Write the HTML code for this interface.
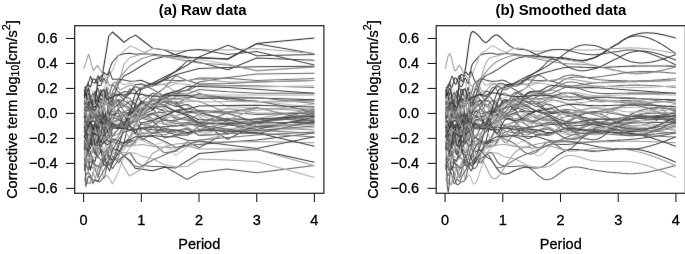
<!DOCTYPE html>
<html><head><meta charset="utf-8"><style>
html,body{margin:0;padding:0;background:#fff;}
svg{display:block;filter:grayscale(1);}
.t{font-family:"Liberation Sans",sans-serif;font-size:14.5px;fill:#000;stroke:#000;stroke-width:0.3px;}
.ti{font-family:"Liberation Sans",sans-serif;font-size:14.9px;font-weight:bold;fill:#000;}
</style></head><body>
<svg width="685" height="254" viewBox="0 0 685 254">
<defs><filter id="bl" x="0" y="0" width="685" height="254" filterUnits="userSpaceOnUse"><feConvolveMatrix order="3" kernelMatrix="1 2 1 2 40 2 1 2 1" divisor="52" edgeMode="none"/></filter></defs>
<g filter="url(#bl)"><polyline points="84.2,97.4 85.9,98.9 88.2,88.5 90.5,89.5 92.8,91.2 95.1,97.0 98.0,85.0 100.9,76.8 103.8,82.5 106.7,83.2 109.6,92.5 112.4,95.9 118.2,94.0 124.0,92.6 129.8,106.6 135.5,101.4 141.3,98.4 152.8,93.3 164.4,95.8 175.9,96.8 187.5,95.3 199.0,95.8 227.8,97.9 256.7,101.3 314.4,107.0" fill="none" stroke="#c0c0c0" stroke-width="1.05" stroke-linejoin="round"/>
<polyline points="84.2,133.2 85.9,132.9 88.2,137.3 90.5,137.7 92.8,136.3 95.1,131.4 98.0,123.9 100.9,105.6 103.8,100.6 106.7,101.4 109.6,98.3 112.4,93.9 118.2,80.7 124.0,84.9 129.8,83.0 135.5,84.5 141.3,84.9 152.8,83.4 164.4,84.8 175.9,92.0 187.5,90.2 199.0,92.6 227.8,106.6 256.7,108.2 314.4,108.5" fill="none" stroke="#b0b0b0" stroke-width="1.05" stroke-linejoin="round"/>
<polyline points="84.2,99.7 85.9,104.6 88.2,102.4 90.5,110.0 92.8,117.1 95.1,118.1 98.0,124.1 100.9,123.4 103.8,125.8 106.7,126.6 109.6,120.9 112.4,126.6 118.2,125.6 124.0,124.4 129.8,110.9 135.5,115.2 141.3,116.6 152.8,112.9 164.4,112.3 175.9,118.9 187.5,120.1 199.0,122.4 227.8,139.2 256.7,124.2 314.4,109.5" fill="none" stroke="#4a4a4a" stroke-width="1.05" stroke-linejoin="round"/>
<polyline points="84.2,88.3 85.9,92.2 88.2,81.6 90.5,98.6 92.8,104.2 95.1,102.1 98.0,106.0 100.9,103.7 103.8,96.1 106.7,95.4 109.6,96.4 112.4,102.3 118.2,104.2 124.0,104.1 129.8,111.7 135.5,106.1 141.3,112.2 152.8,118.8 164.4,117.8 175.9,110.1 187.5,108.6 199.0,111.2 227.8,113.8 256.7,122.2 314.4,110.5" fill="none" stroke="#808080" stroke-width="1.05" stroke-linejoin="round"/>
<polyline points="84.2,125.7 85.9,122.6 88.2,121.3 90.5,115.9 92.8,115.0 95.1,115.9 98.0,119.5 100.9,119.7 103.8,113.9 106.7,114.3 109.6,112.9 112.4,105.3 118.2,94.3 124.0,99.6 129.8,89.1 135.5,90.3 141.3,102.7 152.8,93.1 164.4,100.3 175.9,103.4 187.5,98.5 199.0,93.7 227.8,99.8 256.7,101.0 314.4,111.5" fill="none" stroke="#5e5e5e" stroke-width="1.05" stroke-linejoin="round"/>
<polyline points="84.2,106.8 85.9,110.5 88.2,111.5 90.5,105.8 92.8,114.1 95.1,116.8 98.0,121.9 100.9,137.5 103.8,121.7 106.7,120.3 109.6,112.3 112.4,111.6 118.2,110.9 124.0,112.6 129.8,113.0 135.5,120.7 141.3,115.0 152.8,118.6 164.4,118.7 175.9,115.6 187.5,112.6 199.0,113.8 227.8,108.4 256.7,113.2 314.4,112.5" fill="none" stroke="#a0a0a0" stroke-width="1.05" stroke-linejoin="round"/>
<polyline points="84.2,123.6 85.9,112.6 88.2,121.6 90.5,107.3 92.8,107.1 95.1,117.7 98.0,130.1 100.9,121.0 103.8,115.2 106.7,125.3 109.6,131.2 112.4,125.2 118.2,124.5 124.0,122.1 129.8,117.4 135.5,116.0 141.3,124.1 152.8,126.6 164.4,138.0 175.9,135.0 187.5,135.3 199.0,130.1 227.8,130.5 256.7,121.9 314.4,113.5" fill="none" stroke="#5e5e5e" stroke-width="1.05" stroke-linejoin="round"/>
<polyline points="84.2,145.4 85.9,144.3 88.2,147.0 90.5,162.8 92.8,161.0 95.1,169.9 98.0,175.0 100.9,167.3 103.8,159.9 106.7,164.1 109.6,155.6 112.4,160.0 118.2,158.0 124.0,142.3 129.8,139.1 135.5,129.0 141.3,140.5 152.8,133.2 164.4,134.9 175.9,130.7 187.5,134.0 199.0,126.3 227.8,118.2 256.7,120.1 314.4,114.5" fill="none" stroke="#808080" stroke-width="1.05" stroke-linejoin="round"/>
<polyline points="84.2,103.3 85.9,108.0 88.2,93.4 90.5,96.6 92.8,101.3 95.1,90.9 98.0,98.7 100.9,94.3 103.8,98.7 106.7,104.0 109.6,101.7 112.4,106.9 118.2,99.8 124.0,106.4 129.8,101.2 135.5,103.8 141.3,112.3 152.8,98.8 164.4,101.7 175.9,102.0 187.5,112.7 199.0,111.8 227.8,122.2 256.7,121.8 314.4,115.5" fill="none" stroke="#4a4a4a" stroke-width="1.05" stroke-linejoin="round"/>
<polyline points="84.2,118.8 85.9,122.0 88.2,131.1 90.5,126.8 92.8,138.6 95.1,140.5 98.0,118.4 100.9,125.6 103.8,125.1 106.7,114.5 109.6,114.1 112.4,111.3 118.2,112.9 124.0,115.1 129.8,123.4 135.5,120.3 141.3,128.8 152.8,126.0 164.4,118.8 175.9,123.6 187.5,122.4 199.0,123.1 227.8,113.0 256.7,122.6 314.4,116.5" fill="none" stroke="#707070" stroke-width="1.05" stroke-linejoin="round"/>
<polyline points="84.2,93.3 85.9,99.9 88.2,108.5 90.5,102.4 92.8,109.4 95.1,113.5 98.0,101.4 100.9,93.4 103.8,89.7 106.7,98.0 109.6,106.3 112.4,97.2 118.2,107.9 124.0,106.8 129.8,108.9 135.5,109.6 141.3,111.7 152.8,107.2 164.4,107.0 175.9,101.2 187.5,105.7 199.0,116.6 227.8,134.0 256.7,127.8 314.4,117.5" fill="none" stroke="#a0a0a0" stroke-width="1.05" stroke-linejoin="round"/>
<polyline points="84.2,117.8 85.9,125.6 88.2,126.0 90.5,133.5 92.8,134.6 95.1,131.2 98.0,136.8 100.9,142.0 103.8,140.2 106.7,147.4 109.6,141.8 112.4,153.4 118.2,153.2 124.0,149.6 129.8,140.5 135.5,121.9 141.3,131.7 152.8,135.9 164.4,132.1 175.9,131.6 187.5,127.5 199.0,135.1 227.8,128.6 256.7,127.6 314.4,118.5" fill="none" stroke="#c0c0c0" stroke-width="1.05" stroke-linejoin="round"/>
<polyline points="84.2,107.6 85.9,107.9 88.2,96.9 90.5,99.7 92.8,95.6 95.1,96.4 98.0,87.9 100.9,102.3 103.8,104.7 106.7,103.5 109.6,116.9 112.4,100.9 118.2,99.7 124.0,100.6 129.8,104.1 135.5,111.3 141.3,104.1 152.8,108.3 164.4,124.6 175.9,126.0 187.5,123.0 199.0,126.1 227.8,133.1 256.7,126.4 314.4,119.5" fill="none" stroke="#5e5e5e" stroke-width="1.05" stroke-linejoin="round"/>
<polyline points="84.2,130.2 85.9,139.5 88.2,131.6 90.5,129.7 92.8,133.2 95.1,126.5 98.0,128.8 100.9,142.8 103.8,129.9 106.7,140.8 109.6,134.2 112.4,141.6 118.2,143.2 124.0,146.6 129.8,146.1 135.5,141.4 141.3,127.9 152.8,133.3 164.4,131.2 175.9,134.8 187.5,132.9 199.0,131.6 227.8,125.4 256.7,118.4 314.4,120.5" fill="none" stroke="#5e5e5e" stroke-width="1.05" stroke-linejoin="round"/>
<polyline points="84.2,148.9 85.9,142.6 88.2,145.6 90.5,144.3 92.8,136.6 95.1,129.7 98.0,124.9 100.9,119.8 103.8,126.1 106.7,116.9 109.6,118.6 112.4,121.0 118.2,108.9 124.0,104.5 129.8,108.0 135.5,111.5 141.3,103.9 152.8,100.9 164.4,104.9 175.9,111.1 187.5,112.7 199.0,110.2 227.8,112.1 256.7,107.5 314.4,121.5" fill="none" stroke="#707070" stroke-width="1.05" stroke-linejoin="round"/>
<polyline points="84.2,158.0 85.9,165.8 88.2,169.3 90.5,156.0 92.8,163.0 95.1,164.1 98.0,166.7 100.9,161.5 103.8,156.2 106.7,154.2 109.6,157.3 112.4,164.2 118.2,143.2 124.0,142.9 129.8,142.2 135.5,140.9 141.3,133.6 152.8,132.7 164.4,128.2 175.9,130.4 187.5,129.6 199.0,135.4 227.8,134.0 256.7,122.8 314.4,122.5" fill="none" stroke="#707070" stroke-width="1.05" stroke-linejoin="round"/>
<polyline points="84.2,132.6 85.9,134.2 88.2,130.0 90.5,139.0 92.8,131.7 95.1,129.9 98.0,126.8 100.9,122.4 103.8,126.9 106.7,127.4 109.6,119.1 112.4,121.7 118.2,120.2 124.0,123.5 129.8,119.4 135.5,117.1 141.3,117.1 152.8,119.5 164.4,112.7 175.9,116.4 187.5,120.8 199.0,114.9 227.8,125.0 256.7,127.6 314.4,123.5" fill="none" stroke="#b0b0b0" stroke-width="1.05" stroke-linejoin="round"/>
<polyline points="84.2,137.4 85.9,131.1 88.2,126.9 90.5,125.5 92.8,117.6 95.1,124.9 98.0,127.4 100.9,131.5 103.8,139.4 106.7,136.6 109.6,136.7 112.4,124.8 118.2,120.9 124.0,114.4 129.8,115.1 135.5,113.9 141.3,115.7 152.8,114.7 164.4,108.4 175.9,117.4 187.5,120.1 199.0,129.5 227.8,123.2 256.7,127.0 314.4,124.5" fill="none" stroke="#909090" stroke-width="1.05" stroke-linejoin="round"/>
<polyline points="84.2,108.8 85.9,117.9 88.2,96.6 90.5,123.3 92.8,113.3 95.1,110.8 98.0,116.7 100.9,98.3 103.8,116.1 106.7,116.6 109.6,119.8 112.4,117.3 118.2,119.3 124.0,122.6 129.8,126.4 135.5,133.3 141.3,138.0 152.8,143.6 164.4,152.8 175.9,151.3 187.5,141.7 199.0,147.8 227.8,131.6 256.7,130.5 314.4,126.0" fill="none" stroke="#5e5e5e" stroke-width="1.05" stroke-linejoin="round"/>
<polyline points="84.2,93.3 85.9,99.1 88.2,96.4 90.5,103.8 92.8,100.0 95.1,114.5 98.0,108.9 100.9,101.4 103.8,101.6 106.7,95.1 109.6,101.2 112.4,99.1 118.2,106.2 124.0,103.5 129.8,112.0 135.5,107.5 141.3,111.2 152.8,121.5 164.4,119.9 175.9,125.1 187.5,127.3 199.0,132.5 227.8,130.3 256.7,131.8 314.4,127.5" fill="none" stroke="#b0b0b0" stroke-width="1.05" stroke-linejoin="round"/>
<polyline points="84.2,148.6 85.9,149.8 88.2,147.8 90.5,141.8 92.8,143.9 95.1,137.8 98.0,136.7 100.9,129.5 103.8,129.3 106.7,124.9 109.6,133.8 112.4,136.3 118.2,134.1 124.0,128.7 129.8,130.1 135.5,125.7 141.3,124.6 152.8,122.5 164.4,120.1 175.9,121.6 187.5,124.1 199.0,118.9 227.8,123.3 256.7,127.0 314.4,130.0" fill="none" stroke="#909090" stroke-width="1.05" stroke-linejoin="round"/>
<polyline points="84.2,148.0 85.9,142.5 88.2,153.6 90.5,153.7 92.8,151.7 95.1,152.8 98.0,157.9 100.9,149.1 103.8,153.2 106.7,149.7 109.6,158.7 112.4,159.9 118.2,154.3 124.0,146.8 129.8,141.1 135.5,139.7 141.3,135.9 152.8,136.4 164.4,141.3 175.9,147.4 187.5,144.9 199.0,144.4 227.8,142.1 256.7,140.1 314.4,133.0" fill="none" stroke="#4a4a4a" stroke-width="1.05" stroke-linejoin="round"/>
<polyline points="84.2,124.5 85.9,131.3 88.2,128.1 90.5,129.4 92.8,138.8 95.1,142.8 98.0,132.6 100.9,131.7 103.8,125.4 106.7,131.1 109.6,129.5 112.4,134.3 118.2,129.3 124.0,119.1 129.8,124.6 135.5,125.2 141.3,128.5 152.8,121.1 164.4,124.2 175.9,120.3 187.5,118.2 199.0,121.5 227.8,124.4 256.7,118.6 314.4,109.0" fill="none" stroke="#a0a0a0" stroke-width="1.05" stroke-linejoin="round"/>
<polyline points="84.2,101.9 85.9,105.5 88.2,104.0 90.5,102.7 92.8,99.0 95.1,97.5 98.0,103.5 100.9,98.5 103.8,101.5 106.7,92.7 109.6,93.3 112.4,84.2 118.2,91.5 124.0,96.8 129.8,98.2 135.5,106.6 141.3,103.3 152.8,105.1 164.4,102.0 175.9,106.8 187.5,104.2 199.0,111.4 227.8,112.2 256.7,114.4 314.4,113.0" fill="none" stroke="#5e5e5e" stroke-width="1.05" stroke-linejoin="round"/>
<polyline points="84.2,116.1 85.9,123.0 88.2,121.0 90.5,118.5 92.8,100.5 95.1,103.0 98.0,99.6 100.9,104.3 103.8,116.4 106.7,113.2 109.6,113.2 112.4,115.1 118.2,116.6 124.0,116.5 129.8,114.6 135.5,110.0 141.3,115.0 152.8,106.3 164.4,106.2 175.9,111.8 187.5,116.0 199.0,122.6 227.8,124.6 256.7,129.4 314.4,117.0" fill="none" stroke="#4a4a4a" stroke-width="1.05" stroke-linejoin="round"/>
<polyline points="84.2,141.9 85.9,143.1 88.2,145.3 90.5,155.0 92.8,151.2 95.1,140.4 98.0,142.3 100.9,132.3 103.8,136.7 106.7,126.4 109.6,127.5 112.4,126.1 118.2,123.6 124.0,129.3 129.8,127.5 135.5,134.6 141.3,137.0 152.8,127.0 164.4,132.0 175.9,116.9 187.5,119.9 199.0,114.3 227.8,120.0 256.7,108.2 314.4,119.0" fill="none" stroke="#a0a0a0" stroke-width="1.05" stroke-linejoin="round"/>
<polyline points="84.2,114.3 85.9,110.0 88.2,109.8 90.5,98.2 92.8,93.2 95.1,103.9 98.0,97.1 100.9,89.5 103.8,99.1 106.7,87.3 109.6,106.8 112.4,93.6 118.2,95.0 124.0,91.6 129.8,92.1 135.5,84.7 141.3,83.8 152.8,89.4 164.4,96.5 175.9,105.0 187.5,111.3 199.0,112.3 227.8,119.4 256.7,126.6 314.4,123.0" fill="none" stroke="#4a4a4a" stroke-width="1.05" stroke-linejoin="round"/>
<polyline points="84.2,137.4 85.9,137.8 88.2,143.6 90.5,157.5 92.8,149.3 95.1,153.7 98.0,153.8 100.9,142.9 103.8,149.1 106.7,147.6 109.6,153.9 112.4,147.9 118.2,154.6 124.0,147.1 129.8,144.7 135.5,139.0 141.3,140.2 152.8,145.3 164.4,142.0 175.9,155.7 187.5,146.9 199.0,141.4 227.8,133.1 256.7,124.5 314.4,125.0" fill="none" stroke="#c0c0c0" stroke-width="1.05" stroke-linejoin="round"/>
<polyline points="84.2,170.1 85.9,161.7 88.2,171.1 90.5,166.6 92.8,167.7 95.1,168.1 98.0,177.8 100.9,166.7 103.8,157.6 106.7,159.3 109.6,146.4 112.4,141.7 118.2,137.0 124.0,123.0 129.8,114.1 135.5,108.3 141.3,101.2 152.8,103.3 164.4,105.3 175.9,96.3 187.5,95.9 199.0,93.9 227.8,97.8 256.7,102.0 314.4,100.0" fill="none" stroke="#707070" stroke-width="1.05" stroke-linejoin="round"/>
<polyline points="84.2,178.3 85.9,176.8 88.2,183.9 90.5,180.7 92.8,174.3 95.1,166.0 98.0,169.8 100.9,164.5 103.8,178.9 106.7,175.2 109.6,178.6 112.4,183.9 118.2,172.4 124.0,156.4 129.8,147.7 135.5,143.5 141.3,130.4 152.8,121.8 164.4,114.8 175.9,116.6 187.5,109.5 199.0,112.5 227.8,108.7 256.7,110.4 314.4,104.0" fill="none" stroke="#b0b0b0" stroke-width="1.05" stroke-linejoin="round"/>
<polyline points="84.2,113.6 85.9,112.4 88.2,110.8 90.5,112.7 92.8,108.7 95.1,115.8 98.0,111.3 100.9,104.3 103.8,103.7 106.7,99.7 109.6,93.5 112.4,98.7 118.2,106.5 124.0,101.7 129.8,101.6 135.5,100.0 141.3,93.5 152.8,100.2 164.4,97.9 175.9,104.5 187.5,101.0 199.0,101.2 227.8,113.0 256.7,108.3 314.4,111.0" fill="none" stroke="#909090" stroke-width="1.05" stroke-linejoin="round"/>
<polyline points="84.2,161.3 85.9,161.2 88.2,144.5 90.5,148.9 92.8,139.1 95.1,145.2 98.0,145.8 100.9,142.0 103.8,143.6 106.7,138.9 109.6,142.6 112.4,128.7 118.2,127.3 124.0,114.9 129.8,111.7 135.5,110.8 141.3,108.6 152.8,106.8 164.4,111.0 175.9,111.4 187.5,114.5 199.0,119.8 227.8,120.2 256.7,119.0 314.4,116.0" fill="none" stroke="#4a4a4a" stroke-width="1.05" stroke-linejoin="round"/>
<polyline points="84.2,135.1 85.9,138.2 88.2,144.5 90.5,140.5 92.8,132.7 95.1,134.4 98.0,135.3 100.9,120.6 103.8,118.3 106.7,121.5 109.6,118.1 112.4,118.3 118.2,109.1 124.0,115.9 129.8,124.1 135.5,121.6 141.3,118.9 152.8,113.7 164.4,120.7 175.9,120.2 187.5,116.5 199.0,124.9 227.8,129.3 256.7,133.7 314.4,121.0" fill="none" stroke="#5e5e5e" stroke-width="1.05" stroke-linejoin="round"/>
<polyline points="84.2,125.4 85.9,128.2 88.2,115.5 90.5,115.2 92.8,115.9 95.1,114.5 98.0,117.9 100.9,115.3 103.8,99.0 106.7,95.0 109.6,98.0 112.4,102.8 118.2,101.4 124.0,111.7 129.8,109.6 135.5,113.9 141.3,118.0 152.8,121.5 164.4,132.0 175.9,130.8 187.5,128.3 199.0,135.5 227.8,133.4 256.7,133.2 314.4,137.0" fill="none" stroke="#707070" stroke-width="1.05" stroke-linejoin="round"/>
<polyline points="84.2,98.5 85.9,92.7 88.2,105.8 90.5,100.0 92.8,104.2 95.1,103.7 98.0,79.1 102.4,75.0 108.8,36.0 112.5,32.0 118.2,37.0 124.0,42.4 129.8,37.9 135.5,35.1 141.3,39.5 152.8,48.3 164.4,49.9 175.9,55.1 187.5,57.0 199.0,58.0 227.8,59.3 256.7,43.6 314.4,38.1" fill="none" stroke="#262626" stroke-width="1.05" stroke-linejoin="round"/>
<polyline points="84.2,96.1 85.9,86.6 88.2,84.8 90.5,87.0 92.8,78.9 95.1,79.3 98.0,85.4 100.9,85.4 103.8,78.2 106.7,83.2 109.6,68.6 112.5,62.0 118.2,55.6 124.0,53.7 129.8,53.2 135.5,54.2 141.3,53.7 152.8,54.2 164.4,55.6 175.9,56.5 187.5,57.5 199.0,57.5 227.8,58.8 256.7,43.8 314.4,53.7" fill="none" stroke="#3a3a3a" stroke-width="1.05" stroke-linejoin="round"/>
<polyline points="84.2,132.0 85.9,127.9 88.2,127.5 90.5,126.0 92.8,127.7 95.1,122.2 98.0,126.0 100.9,143.6 103.8,141.2 106.7,135.5 109.6,137.3 112.4,118.4 118.2,85.0 124.0,64.0 129.8,57.5 135.5,56.0 141.3,54.2 152.8,48.5 164.4,49.5 175.9,51.3 187.5,50.2 199.0,49.5 227.8,50.0 256.7,48.5 314.4,53.5" fill="none" stroke="#a5a5a5" stroke-width="1.05" stroke-linejoin="round"/>
<polyline points="84.2,163.7 85.9,159.8 88.2,164.1 90.5,158.4 92.8,156.1 95.1,158.7 98.0,157.5 100.9,132.9 103.8,90.7 106.7,80.0 112.5,70.0 116.0,61.4 118.0,56.1 124.0,51.0 130.1,46.0 135.5,48.0 141.3,51.0 146.0,52.7 152.8,55.3 164.4,56.5 175.9,57.7 187.5,58.5 199.0,59.5 227.8,64.0 256.7,71.0 314.4,67.0" fill="none" stroke="#b4b4b4" stroke-width="1.05" stroke-linejoin="round"/>
<polyline points="84.2,165.6 85.9,164.8 88.2,158.8 90.5,170.1 92.8,159.8 95.1,161.4 98.0,147.3 100.9,150.1 103.8,165.3 106.7,165.1 109.6,170.9 112.4,162.8 118.2,147.6 124.0,128.0 129.8,111.8 135.5,92.9 141.3,88.0 152.8,83.0 164.4,77.0 175.9,71.5 187.5,65.0 199.0,57.0 227.8,45.3 256.7,55.8 314.4,54.5" fill="none" stroke="#3c3c3c" stroke-width="1.05" stroke-linejoin="round"/>
<polyline points="84.2,126.4 85.9,130.2 88.2,140.9 90.5,138.2 92.8,145.7 95.1,154.5 98.0,140.2 100.9,135.1 103.8,135.9 106.7,113.8 109.6,104.0 112.4,100.1 118.2,83.8 124.0,76.0 129.8,73.0 141.3,66.0 152.8,59.4 164.4,56.5 175.9,54.2 187.5,50.4 199.0,49.5 227.8,54.5 256.7,51.6 314.4,65.0" fill="none" stroke="#444444" stroke-width="1.05" stroke-linejoin="round"/>
<polyline points="84.2,87.4 85.9,87.8 88.2,83.6 90.5,76.3 92.8,82.6 95.1,83.1 98.0,75.6 100.9,81.7 103.8,72.4 106.7,74.9 109.6,71.6 112.4,79.2 118.2,79.2 124.0,80.0 129.8,81.2 135.5,81.1 141.3,80.2 152.8,85.0 164.4,79.0 175.9,71.0 182.0,66.0 187.5,60.3 199.0,62.2 227.8,69.7 256.7,58.1 314.4,60.2" fill="none" stroke="#3e3e3e" stroke-width="1.05" stroke-linejoin="round"/>
<polyline points="84.2,150.1 85.9,147.1 88.2,151.5 90.5,140.9 92.8,137.4 95.1,132.5 98.0,137.0 100.9,152.7 103.8,155.1 106.7,163.4 109.6,162.8 112.4,163.2 118.2,153.1 124.0,142.5 129.8,118.5 135.5,104.3 141.3,88.8 152.8,86.0 164.4,80.0 175.9,74.8 187.5,71.5 199.0,68.5 227.8,67.5 256.7,66.7 314.4,66.2" fill="none" stroke="#3a3a3a" stroke-width="1.05" stroke-linejoin="round"/>
<polyline points="84.2,144.6 85.9,149.0 88.2,145.9 90.5,125.1 92.8,140.5 95.1,150.5 98.0,135.0 100.9,134.1 103.8,138.0 106.7,127.9 109.6,106.5 112.4,91.7 118.0,80.0 123.4,73.4 129.8,66.0 141.3,58.7 152.8,55.3 164.4,56.5 175.9,59.0 187.5,61.0 199.0,63.0 227.8,65.0 256.7,70.5 314.4,67.0" fill="none" stroke="#8a8a8a" stroke-width="1.05" stroke-linejoin="round"/>
<polyline points="84.2,142.7 85.9,147.8 88.2,156.7 90.5,153.1 92.8,148.9 95.1,151.0 98.0,156.8 100.9,159.8 103.8,163.0 106.7,149.5 109.6,146.1 112.4,157.2 118.2,154.5 124.0,143.8 129.8,137.0 135.5,124.8 141.3,115.3 152.8,110.1 164.4,95.0 175.9,93.5 187.5,89.8 199.0,82.0 227.8,77.5 256.7,74.0 314.4,73.3" fill="none" stroke="#666666" stroke-width="1.05" stroke-linejoin="round"/>
<polyline points="84.2,111.6 85.9,126.7 88.2,124.6 90.5,127.3 92.8,124.4 95.1,126.3 98.0,125.1 100.9,121.4 103.8,129.5 106.7,121.2 109.6,127.9 112.4,122.6 118.2,119.0 124.0,112.2 129.8,114.8 135.5,107.6 141.3,112.9 152.8,96.0 164.4,88.0 175.9,75.6 187.5,80.8 199.0,78.0 227.8,78.2 256.7,80.5 314.4,78.6" fill="none" stroke="#6a6a6a" stroke-width="1.05" stroke-linejoin="round"/>
<polyline points="84.2,113.2 85.9,114.1 88.2,123.3 90.5,120.7 92.8,120.0 95.1,112.8 98.0,117.1 100.9,114.7 103.8,119.9 106.7,112.3 109.6,113.3 112.4,109.3 118.2,104.4 124.0,98.8 129.8,93.5 135.5,86.7 141.3,89.5 152.8,84.0 164.4,79.9 175.9,80.5 187.5,80.6 199.0,84.0 227.8,83.5 256.7,82.0 314.4,80.4" fill="none" stroke="#5a5a5a" stroke-width="1.05" stroke-linejoin="round"/>
<polyline points="84.2,123.0 85.9,121.3 88.2,121.3 90.5,122.8 92.8,125.5 95.1,128.4 98.0,128.8 100.9,132.2 103.8,138.1 106.7,137.5 109.6,129.5 112.4,136.6 118.2,129.0 124.0,125.3 129.8,122.2 135.5,118.0 141.3,110.2 152.8,105.3 164.4,94.5 175.9,91.1 187.5,90.7 199.0,85.0 227.8,85.5 256.7,85.7 314.4,87.4" fill="none" stroke="#707070" stroke-width="1.05" stroke-linejoin="round"/>
<polyline points="84.2,161.6 85.9,164.5 88.2,159.7 90.5,161.0 92.8,147.7 95.1,144.7 98.0,150.9 100.9,144.6 103.8,152.0 106.7,142.2 109.6,142.8 112.4,145.8 118.2,136.3 124.0,129.6 129.8,138.4 135.5,125.0 141.3,116.4 152.8,99.6 164.4,87.9 175.9,83.5 187.5,84.6 199.0,86.0 227.8,86.0 256.7,86.9 314.4,85.7" fill="none" stroke="#b0b0b0" stroke-width="1.05" stroke-linejoin="round"/>
<polyline points="84.2,117.7 85.9,114.8 88.2,119.3 90.5,112.8 92.8,108.8 95.1,110.5 98.0,103.3 100.9,123.0 103.8,103.6 106.7,119.3 109.6,121.9 112.4,114.6 118.2,113.1 124.0,125.5 129.8,113.0 135.5,111.9 141.3,100.9 152.8,109.9 164.4,94.5 175.9,91.7 187.5,86.2 199.0,86.4 227.8,87.6 256.7,89.2 314.4,93.3" fill="none" stroke="#3a3a3a" stroke-width="1.05" stroke-linejoin="round"/>
<polyline points="84.2,108.5 85.9,104.6 88.2,108.8 90.5,96.2 92.8,108.4 95.1,106.8 98.0,105.6 100.9,124.2 103.8,121.5 106.7,117.8 109.6,118.9 112.4,123.2 118.2,126.1 124.0,124.1 129.8,118.4 135.5,114.4 141.3,109.1 152.8,100.5 164.4,98.6 175.9,93.4 187.5,94.0 199.0,89.4 227.8,91.7 256.7,93.3 314.4,93.3" fill="none" stroke="#5e5e5e" stroke-width="1.05" stroke-linejoin="round"/>
<polyline points="84.2,105.9 85.9,105.6 88.2,99.5 90.5,100.9 92.8,94.7 95.1,106.0 98.0,102.9 100.9,104.0 103.8,104.9 106.7,113.5 109.6,125.1 112.4,115.9 118.2,117.4 124.0,116.6 129.8,117.5 135.5,111.4 141.3,105.1 152.8,101.4 164.4,96.8 175.9,94.2 187.5,98.6 199.0,95.0 227.8,95.0 256.7,95.1 314.4,95.1" fill="none" stroke="#b2b2b2" stroke-width="1.05" stroke-linejoin="round"/>
<polyline points="84.2,90.0 85.9,95.6 88.2,88.3 90.5,99.8 92.8,106.1 95.1,107.3 98.0,101.5 100.9,92.5 103.8,89.4 106.7,99.7 109.6,98.0 112.4,96.9 118.2,94.5 124.0,95.2 129.8,93.1 135.5,93.4 141.3,94.5 152.8,96.3 164.4,96.1 175.9,95.3 187.5,95.5 199.0,98.5 227.8,98.0 256.7,98.0 314.4,99.8" fill="none" stroke="#333333" stroke-width="1.05" stroke-linejoin="round"/>
<polyline points="84.2,137.6 85.9,128.3 88.2,125.7 90.5,106.1 92.8,119.3 95.1,113.7 98.0,126.0 100.9,124.2 103.8,123.5 106.7,130.4 109.6,135.9 112.4,127.8 118.2,128.4 124.0,126.7 129.8,124.6 135.5,118.2 141.3,110.1 152.8,99.8 164.4,98.1 175.9,98.7 187.5,97.5 199.0,97.0 227.8,97.0 256.7,97.5 314.4,103.4" fill="none" stroke="#777777" stroke-width="1.05" stroke-linejoin="round"/>
<polyline points="84.2,121.0 85.9,123.1 88.2,113.6 90.5,111.7 92.8,115.6 95.1,112.8 98.0,108.3 100.9,112.9 103.8,105.7 106.7,103.1 109.6,110.3 112.4,106.2 118.2,114.2 124.0,113.9 129.8,117.1 135.5,121.0 141.3,106.8 152.8,107.0 164.4,100.2 175.9,99.5 187.5,99.3 199.0,102.0 227.8,101.6 256.7,101.6 314.4,101.6" fill="none" stroke="#aaaaaa" stroke-width="1.05" stroke-linejoin="round"/>
<polyline points="84.2,126.9 85.9,135.3 88.2,134.5 90.5,136.2 92.8,126.1 95.1,134.4 98.0,134.7 100.9,142.4 103.8,136.1 106.7,132.4 109.6,128.9 112.4,124.1 118.2,127.3 124.0,128.3 129.8,125.3 135.5,133.4 141.3,122.9 152.8,120.4 164.4,115.8 175.9,111.1 187.5,109.0 199.0,106.0 227.8,105.5 256.7,105.2 314.4,106.9" fill="none" stroke="#3a3a3a" stroke-width="1.05" stroke-linejoin="round"/>
<polyline points="83.9,68.8 88.6,54.0 93.3,70.6 97.5,65.3 101.6,72.3 106.0,78.0 110.0,86.0 115.0,82.0 120.0,90.0 130.0,85.0 141.3,88.0 152.8,86.0 164.4,84.0 175.9,82.0 187.5,80.5 199.0,79.0 227.8,82.0 256.7,82.0 314.4,80.4" fill="none" stroke="#9a9a9a" stroke-width="1.05" stroke-linejoin="round"/>
<polyline points="84.2,164.0 85.9,175.2 88.2,172.3 90.5,175.6 92.8,183.8 95.1,179.4 98.0,181.3 100.9,175.6 103.8,170.6 106.7,165.1 109.6,164.7 112.4,168.6 118.2,160.2 124.0,155.7 130.0,152.6 136.1,162.1 142.1,165.6 152.5,166.5 164.7,166.5 187.2,179.5 199.3,172.5 227.0,169.1 256.7,172.7 314.4,165.4" fill="none" stroke="#5a5a5a" stroke-width="1.05" stroke-linejoin="round"/>
<polyline points="84.2,136.9 85.9,132.8 88.2,127.5 90.5,120.5 92.8,131.2 95.1,123.2 98.0,128.4 100.9,121.2 103.8,124.0 106.7,127.8 109.6,136.2 112.4,148.6 118.0,150.0 123.9,156.0 130.0,160.4 135.2,168.2 152.5,170.8 164.7,167.3 175.9,167.9 199.3,153.5 227.8,151.0 256.7,149.5 314.4,162.2" fill="none" stroke="#333333" stroke-width="1.05" stroke-linejoin="round"/>
<polyline points="84.2,178.8 85.9,182.8 88.2,183.4 90.5,183.4 92.8,172.1 95.1,178.4 98.0,168.8 100.9,161.2 103.8,154.1 106.7,150.9 109.6,150.0 112.5,150.0 117.8,160.4 120.7,161.3 129.2,176.1 142.1,169.0 152.5,153.5 164.4,147.0 175.9,144.0 199.0,142.0 227.8,142.0 256.7,141.5 314.4,142.7" fill="none" stroke="#9c9c9c" stroke-width="1.05" stroke-linejoin="round"/>
<polyline points="84.2,110.6 85.9,114.7 88.2,116.8 90.5,120.6 92.8,119.1 95.1,123.6 98.0,121.4 100.9,127.5 103.8,124.7 106.7,126.4 109.6,133.2 112.4,148.8 118.2,152.9 124.0,152.3 129.8,153.2 135.5,153.1 141.3,156.1 152.8,158.7 164.4,164.7 175.9,167.1 187.5,166.2 199.0,159.0 227.8,160.0 256.7,161.6 314.4,177.5" fill="none" stroke="#a8a8a8" stroke-width="1.05" stroke-linejoin="round"/>
<polyline points="84.2,136.7 85.9,140.7 88.2,141.1 90.5,144.8 92.8,130.3 95.1,145.6 98.0,139.0 100.9,147.0 103.8,140.8 106.7,144.8 109.6,144.0 112.4,138.7 118.2,140.7 124.0,143.2 129.8,139.8 135.5,136.8 141.3,136.7 152.8,135.6 164.4,136.7 175.9,136.8 187.5,140.3 199.0,141.0 227.8,145.0 256.7,148.6 314.4,136.8" fill="none" stroke="#444444" stroke-width="1.05" stroke-linejoin="round"/>
<polyline points="84.2,121.6 85.9,121.3 88.2,127.6 90.5,123.4 92.8,120.7 95.1,121.7 98.0,133.6 100.9,135.1 103.8,116.2 106.7,119.8 109.6,121.9 112.4,126.9 118.2,128.5 124.0,128.5 129.8,129.7 135.5,129.8 141.3,128.3 152.8,129.7 164.4,130.0 175.9,130.0 187.5,132.6 199.0,130.0 227.8,131.0 256.7,132.7 314.4,146.3" fill="none" stroke="#3a3a3a" stroke-width="1.05" stroke-linejoin="round"/>
<polyline points="84.2,102.7 85.9,101.9 88.2,106.5 90.5,107.6 92.8,113.1 95.1,116.3 98.0,123.8 100.9,116.6 103.8,121.1 106.7,116.0 109.6,126.0 112.4,128.1 118.2,126.3 124.0,127.7 129.8,126.3 135.5,129.4 141.3,128.9 152.8,126.5 164.4,128.1 175.9,132.8 187.5,134.0 199.0,130.0 227.8,130.0 256.7,130.3 314.4,133.3" fill="none" stroke="#707070" stroke-width="1.05" stroke-linejoin="round"/>
<polyline points="84.2,144.1 85.9,146.2 88.2,145.3 90.5,131.0 92.8,131.1 95.1,132.2 98.0,134.2 100.9,133.8 103.8,138.0 106.7,138.4 109.6,131.4 112.4,141.8 118.2,144.4 124.0,144.5 129.8,145.3 135.5,145.2 141.3,144.5 152.8,146.3 164.4,147.3 175.9,147.9 187.5,146.0 199.0,149.0 227.8,149.0 256.7,149.2 314.4,165.7" fill="none" stroke="#999999" stroke-width="1.05" stroke-linejoin="round"/>
<polyline points="84.5,140.0 85.8,186.4 88.4,176.0 93.6,180.3 99.6,182.0 104.8,176.0 106.6,167.3 112.5,150.0 118.2,140.0 124.0,132.0 141.3,128.0 175.9,126.0 199.0,124.0 256.7,123.0 314.4,122.0" fill="none" stroke="#555555" stroke-width="1.05" stroke-linejoin="round"/>
<polyline points="84.5,130.0 89.4,150.0 95.3,165.6 100.5,167.3 105.7,163.9 110.9,164.7 114.4,157.8 118.7,163.0 123.9,155.2 133.4,165.6 140.0,167.3 152.8,160.0 175.9,150.0 199.0,140.0 256.7,135.0 314.4,132.0" fill="none" stroke="#6a6a6a" stroke-width="1.05" stroke-linejoin="round"/></g>
<rect x="74.7" y="25.7" width="249.2" height="167.60000000000002" fill="none" stroke="#333" stroke-width="1.3"/>
<line x1="66.0" y1="38.46" x2="74.7" y2="38.46" stroke="#222" stroke-width="1.1"/>
<text x="57.7" y="43.36" text-anchor="end" class="t">0.6</text>
<line x1="66.0" y1="63.44" x2="74.7" y2="63.44" stroke="#222" stroke-width="1.1"/>
<text x="57.7" y="68.34" text-anchor="end" class="t">0.4</text>
<line x1="66.0" y1="88.42" x2="74.7" y2="88.42" stroke="#222" stroke-width="1.1"/>
<text x="57.7" y="93.32" text-anchor="end" class="t">0.2</text>
<line x1="66.0" y1="113.40" x2="74.7" y2="113.40" stroke="#222" stroke-width="1.1"/>
<text x="57.7" y="118.30" text-anchor="end" class="t">0.0</text>
<line x1="66.0" y1="138.38" x2="74.7" y2="138.38" stroke="#222" stroke-width="1.1"/>
<text x="57.7" y="143.28" text-anchor="end" class="t">−0.2</text>
<line x1="66.0" y1="163.36" x2="74.7" y2="163.36" stroke="#222" stroke-width="1.1"/>
<text x="57.7" y="168.26" text-anchor="end" class="t">−0.4</text>
<line x1="66.0" y1="188.34" x2="74.7" y2="188.34" stroke="#222" stroke-width="1.1"/>
<text x="57.7" y="193.24" text-anchor="end" class="t">−0.6</text>
<line x1="83.60" y1="193.3" x2="83.60" y2="202.0" stroke="#222" stroke-width="1.1"/>
<text x="83.60" y="225" text-anchor="middle" class="t">0</text>
<line x1="141.30" y1="193.3" x2="141.30" y2="202.0" stroke="#222" stroke-width="1.1"/>
<text x="141.30" y="225" text-anchor="middle" class="t">1</text>
<line x1="199.00" y1="193.3" x2="199.00" y2="202.0" stroke="#222" stroke-width="1.1"/>
<text x="199.00" y="225" text-anchor="middle" class="t">2</text>
<line x1="256.70" y1="193.3" x2="256.70" y2="202.0" stroke="#222" stroke-width="1.1"/>
<text x="256.70" y="225" text-anchor="middle" class="t">3</text>
<line x1="314.40" y1="193.3" x2="314.40" y2="202.0" stroke="#222" stroke-width="1.1"/>
<text x="314.40" y="225" text-anchor="middle" class="t">4</text>
<text x="199.30" y="248.5" text-anchor="middle" class="t">Period</text>
<text x="202.60" y="15.1" text-anchor="middle" class="ti">(a) Raw data</text>
<text transform="translate(16.50,109.50) rotate(-90)" text-anchor="middle" class="t">Corrective term log<tspan font-size="10.4" dy="2.2">10</tspan><tspan dy="-2.2">[cm/s</tspan><tspan font-size="10.8" dy="-6.8">2</tspan><tspan dy="6.8">]</tspan></text>
<g filter="url(#bl)"><polyline points="445.7,97.4 446.5,99.2 447.4,98.9 448.2,95.9 448.9,91.7 449.7,88.5 450.5,87.6 451.3,88.4 452.0,89.5 452.8,89.9 453.6,90.2 454.3,91.2 455.1,93.5 455.9,95.9 456.6,97.0 457.6,94.9 458.6,90.3 459.5,85.0 460.5,80.5 461.4,77.6 462.4,76.8 463.4,78.2 464.3,80.6 465.3,82.5 466.3,82.8 467.2,82.6 468.2,83.2 469.1,85.7 470.1,89.2 471.1,92.5 472.0,94.6 473.0,95.6 473.9,95.9 474.9,96.0 475.9,95.9 476.8,95.7 477.8,95.3 478.8,94.7 479.7,94.0 480.7,93.1 481.6,92.2 482.6,91.5 483.6,91.3 484.5,91.6 485.5,92.6 486.5,94.6 487.4,97.2 488.4,100.0 489.3,102.7 490.3,105.0 491.3,106.6 492.2,107.0 493.2,106.6 494.1,105.6 495.1,104.2 496.1,102.7 497.0,101.4 498.0,100.3 499.0,99.6 499.9,99.2 500.9,98.9 501.8,98.6 502.8,98.4 503.8,98.0 504.7,97.6 505.7,97.2 506.6,96.7 507.6,96.1 508.6,95.6 509.5,95.1 510.5,94.6 511.5,94.2 512.4,93.8 513.4,93.5 514.3,93.3 515.3,93.2 516.3,93.2 517.2,93.2 518.2,93.4 519.1,93.6 520.1,93.9 521.1,94.2 522.0,94.5 523.0,94.9 524.0,95.2 524.9,95.5 525.9,95.8 526.8,96.1 527.8,96.3 528.8,96.5 529.7,96.7 530.7,96.8 531.6,96.9 532.6,96.9 533.6,96.9 534.5,96.9 535.5,96.9 536.5,96.9 537.4,96.8 538.4,96.7 539.3,96.6 540.3,96.4 541.3,96.3 542.2,96.1 543.2,96.0 544.2,95.8 545.1,95.7 546.1,95.6 547.0,95.5 548.0,95.4 549.0,95.3 549.9,95.3 550.9,95.2 551.8,95.2 552.8,95.2 553.8,95.3 554.7,95.3 555.7,95.4 556.7,95.5 557.6,95.6 558.6,95.6 559.5,95.7 560.5,95.8 561.5,95.9 562.5,96.0 563.5,96.1 564.5,96.2 565.5,96.2 566.5,96.3 567.5,96.4 568.5,96.4 569.5,96.5 570.4,96.6 571.4,96.6 572.4,96.7 573.4,96.8 574.4,96.8 575.4,96.9 576.4,96.9 577.4,97.0 578.4,97.1 579.4,97.1 580.4,97.2 581.4,97.3 582.4,97.3 583.4,97.4 584.4,97.5 585.4,97.6 586.4,97.6 587.4,97.7 588.4,97.8 589.4,97.9 590.3,98.0 591.3,98.1 592.3,98.2 593.3,98.3 594.3,98.4 595.3,98.5 596.3,98.6 597.3,98.7 598.3,98.8 599.3,98.9 600.3,99.0 601.3,99.1 602.3,99.3 603.3,99.4 604.3,99.5 605.3,99.6 606.3,99.8 607.3,99.9 608.3,100.0 609.2,100.2 610.2,100.3 611.2,100.4 612.2,100.5 613.2,100.7 614.2,100.8 615.2,100.9 616.2,101.1 617.2,101.2 618.2,101.3 619.2,101.5 620.2,101.6 621.2,101.7 622.2,101.9 623.2,102.0 624.2,102.1 625.2,102.3 626.2,102.4 627.2,102.5 628.1,102.6 629.1,102.7 630.1,102.9 631.1,103.0 632.1,103.1 633.1,103.2 634.1,103.3 635.1,103.4 636.1,103.5 637.1,103.6 638.1,103.7 639.1,103.8 640.1,103.9 641.1,104.0 642.1,104.1 643.1,104.2 644.1,104.3 645.1,104.4 646.1,104.5 647.0,104.6 648.0,104.7 649.0,104.8 650.0,104.9 651.0,105.0 652.0,105.1 653.0,105.2 654.0,105.2 655.0,105.3 656.0,105.4 657.0,105.5 658.0,105.6 659.0,105.7 660.0,105.7 661.0,105.8 662.0,105.9 663.0,106.0 664.0,106.1 665.0,106.1 666.0,106.2 666.9,106.3 667.9,106.4 668.9,106.5 669.9,106.5 670.9,106.6 671.9,106.7 672.9,106.8 673.9,106.8 674.9,106.9 675.9,107.0" fill="none" stroke="#c0c0c0" stroke-width="1.05" stroke-linejoin="round"/>
<polyline points="445.7,133.2 446.5,132.7 447.4,132.9 448.2,134.2 448.9,135.9 449.7,137.3 450.5,137.9 451.3,137.9 452.0,137.7 452.8,137.5 453.6,137.1 454.3,136.3 455.1,134.9 455.9,133.1 456.6,131.4 457.6,129.7 458.6,127.6 459.5,123.9 460.5,118.1 461.4,111.4 462.4,105.6 463.4,102.2 464.3,100.8 465.3,100.6 466.3,101.0 467.2,101.4 468.2,101.4 469.1,100.8 470.1,99.6 471.1,98.3 472.0,97.0 473.0,95.6 473.9,93.9 474.9,91.6 475.9,89.0 476.8,86.3 477.8,83.9 478.8,81.9 479.7,80.7 480.7,80.4 481.6,80.9 482.6,81.8 483.6,83.0 484.5,84.1 485.5,84.9 486.5,85.1 487.4,85.0 488.4,84.6 489.3,84.0 490.3,83.4 491.3,83.0 492.2,82.9 493.2,83.1 494.1,83.4 495.1,83.8 496.1,84.2 497.0,84.5 498.0,84.8 499.0,85.0 499.9,85.0 500.9,85.0 501.8,85.0 502.8,84.9 503.8,84.8 504.7,84.7 505.7,84.6 506.6,84.5 507.6,84.3 508.6,84.2 509.5,84.0 510.5,83.9 511.5,83.7 512.4,83.6 513.4,83.5 514.3,83.4 515.3,83.3 516.3,83.2 517.2,83.1 518.2,83.1 519.1,83.1 520.1,83.2 521.1,83.3 522.0,83.5 523.0,83.7 524.0,84.0 524.9,84.4 525.9,84.8 526.8,85.4 527.8,86.0 528.8,86.7 529.7,87.4 530.7,88.1 531.6,88.8 532.6,89.5 533.6,90.2 534.5,90.8 535.5,91.3 536.5,91.7 537.4,92.0 538.4,92.2 539.3,92.2 540.3,92.2 541.3,92.1 542.2,91.9 543.2,91.6 544.2,91.4 545.1,91.1 546.1,90.8 547.0,90.6 548.0,90.3 549.0,90.2 549.9,90.1 550.9,90.1 551.8,90.1 552.8,90.2 553.8,90.4 554.7,90.6 555.7,90.8 556.7,91.1 557.6,91.4 558.6,91.8 559.5,92.2 560.5,92.6 561.5,93.0 562.5,93.5 563.5,94.0 564.5,94.5 565.5,95.0 566.5,95.5 567.5,96.0 568.5,96.6 569.5,97.1 570.4,97.7 571.4,98.3 572.4,98.9 573.4,99.4 574.4,100.0 575.4,100.6 576.4,101.1 577.4,101.7 578.4,102.2 579.4,102.7 580.4,103.2 581.4,103.7 582.4,104.2 583.4,104.6 584.4,105.0 585.4,105.4 586.4,105.8 587.4,106.1 588.4,106.4 589.4,106.6 590.3,107.0 591.3,107.4 592.3,107.7 593.3,108.0 594.3,108.2 595.3,108.4 596.3,108.6 597.3,108.8 598.3,108.9 599.3,109.0 600.3,109.1 601.3,109.2 602.3,109.2 603.3,109.2 604.3,109.2 605.3,109.2 606.3,109.2 607.3,109.2 608.3,109.1 609.2,109.0 610.2,109.0 611.2,108.9 612.2,108.8 613.2,108.7 614.2,108.6 615.2,108.5 616.2,108.4 617.2,108.3 618.2,108.2 619.2,108.1 620.2,108.0 621.2,107.9 622.2,107.8 623.2,107.8 624.2,107.7 625.2,107.6 626.2,107.6 627.2,107.5 628.1,107.5 629.1,107.4 630.1,107.4 631.1,107.4 632.1,107.3 633.1,107.3 634.1,107.3 635.1,107.3 636.1,107.2 637.1,107.2 638.1,107.2 639.1,107.2 640.1,107.2 641.1,107.2 642.1,107.2 643.1,107.2 644.1,107.2 645.1,107.2 646.1,107.2 647.0,107.3 648.0,107.3 649.0,107.3 650.0,107.3 651.0,107.4 652.0,107.4 653.0,107.4 654.0,107.4 655.0,107.5 656.0,107.5 657.0,107.6 658.0,107.6 659.0,107.6 660.0,107.7 661.0,107.7 662.0,107.8 663.0,107.8 664.0,107.9 665.0,107.9 666.0,108.0 666.9,108.0 667.9,108.1 668.9,108.1 669.9,108.2 670.9,108.2 671.9,108.3 672.9,108.3 673.9,108.4 674.9,108.4 675.9,108.5" fill="none" stroke="#b0b0b0" stroke-width="1.05" stroke-linejoin="round"/>
<polyline points="445.7,99.7 446.5,102.9 447.4,104.6 448.2,104.1 448.9,102.9 449.7,102.4 450.5,103.8 451.3,106.7 452.0,110.0 452.8,113.1 453.6,115.6 454.3,117.1 455.1,117.6 455.9,117.7 456.6,118.1 457.6,119.9 458.6,122.3 459.5,124.1 460.5,124.4 461.4,123.9 462.4,123.4 463.4,123.7 464.3,124.6 465.3,125.8 466.3,126.8 467.2,127.3 468.2,126.6 469.1,124.5 470.1,122.1 471.1,120.9 472.0,121.9 473.0,124.2 473.9,126.6 474.9,127.9 475.9,128.1 476.8,127.8 477.8,127.0 478.8,126.2 479.7,125.6 480.7,125.4 481.6,125.6 482.6,125.8 483.6,125.8 484.5,125.4 485.5,124.4 486.5,122.5 487.4,120.0 488.4,117.3 489.3,114.6 490.3,112.4 491.3,110.9 492.2,110.3 493.2,110.6 494.1,111.5 495.1,112.7 496.1,114.0 497.0,115.2 498.0,116.0 499.0,116.6 499.9,116.8 500.9,116.9 501.8,116.8 502.8,116.6 503.8,116.4 504.7,116.2 505.7,115.9 506.6,115.6 507.6,115.3 508.6,114.9 509.5,114.6 510.5,114.2 511.5,113.9 512.4,113.6 513.4,113.2 514.3,112.9 515.3,112.6 516.3,112.3 517.2,112.1 518.2,111.9 519.1,111.7 520.1,111.6 521.1,111.6 522.0,111.6 523.0,111.6 524.0,111.8 524.9,112.0 525.9,112.3 526.8,112.7 527.8,113.2 528.8,113.7 529.7,114.3 530.7,114.9 531.6,115.5 532.6,116.2 533.6,116.8 534.5,117.4 535.5,117.9 536.5,118.5 537.4,118.9 538.4,119.2 539.3,119.5 540.3,119.7 541.3,119.9 542.2,120.0 543.2,120.1 544.2,120.1 545.1,120.1 546.1,120.1 547.0,120.1 548.0,120.1 549.0,120.1 549.9,120.1 550.9,120.2 551.8,120.3 552.8,120.4 553.8,120.5 554.7,120.7 555.7,120.9 556.7,121.1 557.6,121.4 558.6,121.7 559.5,122.0 560.5,122.4 561.5,122.9 562.5,123.4 563.5,123.9 564.5,124.5 565.5,125.2 566.5,125.9 567.5,126.6 568.5,127.3 569.5,128.1 570.4,128.9 571.4,129.7 572.4,130.5 573.4,131.4 574.4,132.2 575.4,133.0 576.4,133.7 577.4,134.5 578.4,135.2 579.4,135.9 580.4,136.5 581.4,137.1 582.4,137.6 583.4,138.1 584.4,138.4 585.4,138.8 586.4,139.0 587.4,139.1 588.4,139.2 589.4,139.2 590.3,139.5 591.3,139.7 592.3,139.8 593.3,139.8 594.3,139.7 595.3,139.6 596.3,139.4 597.3,139.0 598.3,138.7 599.3,138.2 600.3,137.7 601.3,137.2 602.3,136.6 603.3,136.0 604.3,135.3 605.3,134.6 606.3,133.8 607.3,133.0 608.3,132.2 609.2,131.4 610.2,130.6 611.2,129.8 612.2,128.9 613.2,128.1 614.2,127.3 615.2,126.5 616.2,125.7 617.2,124.9 618.2,124.2 619.2,123.2 620.2,122.3 621.2,121.4 622.2,120.5 623.2,119.7 624.2,118.9 625.2,118.2 626.2,117.4 627.2,116.8 628.1,116.1 629.1,115.5 630.1,114.9 631.1,114.3 632.1,113.8 633.1,113.3 634.1,112.8 635.1,112.4 636.1,111.9 637.1,111.6 638.1,111.2 639.1,110.8 640.1,110.5 641.1,110.2 642.1,109.9 643.1,109.7 644.1,109.5 645.1,109.2 646.1,109.1 647.0,108.9 648.0,108.7 649.0,108.6 650.0,108.5 651.0,108.4 652.0,108.3 653.0,108.2 654.0,108.2 655.0,108.1 656.0,108.1 657.0,108.1 658.0,108.1 659.0,108.1 660.0,108.1 661.0,108.2 662.0,108.2 663.0,108.3 664.0,108.3 665.0,108.4 666.0,108.5 666.9,108.6 667.9,108.7 668.9,108.8 669.9,108.8 670.9,109.0 671.9,109.1 672.9,109.2 673.9,109.3 674.9,109.4 675.9,109.5" fill="none" stroke="#4a4a4a" stroke-width="1.05" stroke-linejoin="round"/>
<polyline points="445.7,88.3 446.5,91.8 447.4,92.2 448.2,88.4 448.9,83.6 449.7,81.6 450.5,85.1 451.3,91.8 452.0,98.6 452.8,102.7 453.6,104.3 454.3,104.2 455.1,103.4 455.9,102.5 456.6,102.1 457.6,102.9 458.6,104.6 459.5,106.0 460.5,106.3 461.4,105.5 462.4,103.7 463.4,101.0 464.3,98.2 465.3,96.1 466.3,95.2 467.2,95.2 468.2,95.4 469.1,95.5 470.1,95.7 471.1,96.4 472.0,98.1 473.0,100.3 473.9,102.3 474.9,103.7 475.9,104.6 476.8,105.0 477.8,104.9 478.8,104.7 479.7,104.2 480.7,103.8 481.6,103.3 482.6,103.1 483.6,103.0 484.5,103.4 485.5,104.1 486.5,105.4 487.4,107.0 488.4,108.6 489.3,110.1 490.3,111.2 491.3,111.7 492.2,111.3 493.2,110.4 494.1,109.1 495.1,107.8 496.1,106.7 497.0,106.1 498.0,106.1 499.0,106.8 499.9,107.9 500.9,109.2 501.8,110.7 502.8,112.2 503.8,113.4 504.7,114.5 505.7,115.5 506.6,116.2 507.6,116.9 508.6,117.4 509.5,117.8 510.5,118.1 511.5,118.3 512.4,118.5 513.4,118.7 514.3,118.8 515.3,118.9 516.3,119.0 517.2,119.1 518.2,119.1 519.1,119.2 520.1,119.1 521.1,119.1 522.0,118.9 523.0,118.8 524.0,118.5 524.9,118.2 525.9,117.8 526.8,117.3 527.8,116.7 528.8,116.1 529.7,115.4 530.7,114.7 531.6,114.0 532.6,113.3 533.6,112.6 534.5,111.9 535.5,111.2 536.5,110.6 537.4,110.1 538.4,109.6 539.3,109.2 540.3,108.9 541.3,108.7 542.2,108.5 543.2,108.4 544.2,108.3 545.1,108.3 546.1,108.3 547.0,108.3 548.0,108.4 549.0,108.6 549.9,108.7 550.9,108.9 551.8,109.1 552.8,109.3 553.8,109.6 554.7,109.8 555.7,110.1 556.7,110.3 557.6,110.6 558.6,110.8 559.5,111.0 560.5,111.2 561.5,111.5 562.5,111.7 563.5,111.8 564.5,112.0 565.5,112.1 566.5,112.2 567.5,112.3 568.5,112.4 569.5,112.4 570.4,112.5 571.4,112.5 572.4,112.5 573.4,112.6 574.4,112.6 575.4,112.6 576.4,112.6 577.4,112.6 578.4,112.6 579.4,112.7 580.4,112.7 581.4,112.7 582.4,112.8 583.4,112.9 584.4,113.0 585.4,113.1 586.4,113.2 587.4,113.4 588.4,113.6 589.4,113.8 590.3,113.9 591.3,114.1 592.3,114.3 593.3,114.5 594.3,114.8 595.3,115.1 596.3,115.4 597.3,115.7 598.3,116.0 599.3,116.3 600.3,116.7 601.3,117.0 602.3,117.4 603.3,117.7 604.3,118.1 605.3,118.5 606.3,118.8 607.3,119.2 608.3,119.5 609.2,119.9 610.2,120.2 611.2,120.5 612.2,120.8 613.2,121.1 614.2,121.4 615.2,121.6 616.2,121.8 617.2,122.0 618.2,122.2 619.2,122.7 620.2,123.1 621.2,123.5 622.2,123.9 623.2,124.2 624.2,124.5 625.2,124.8 626.2,125.0 627.2,125.3 628.1,125.4 629.1,125.6 630.1,125.7 631.1,125.8 632.1,125.9 633.1,125.9 634.1,125.9 635.1,125.9 636.1,125.9 637.1,125.8 638.1,125.7 639.1,125.6 640.1,125.4 641.1,125.3 642.1,125.1 643.1,124.9 644.1,124.7 645.1,124.4 646.1,124.2 647.0,123.9 648.0,123.6 649.0,123.3 650.0,123.0 651.0,122.6 652.0,122.2 653.0,121.9 654.0,121.5 655.0,121.1 656.0,120.7 657.0,120.2 658.0,119.8 659.0,119.3 660.0,118.9 661.0,118.4 662.0,117.9 663.0,117.4 664.0,116.9 665.0,116.4 666.0,115.9 666.9,115.4 667.9,114.8 668.9,114.3 669.9,113.8 670.9,113.2 671.9,112.7 672.9,112.1 673.9,111.6 674.9,111.0 675.9,110.5" fill="none" stroke="#808080" stroke-width="1.05" stroke-linejoin="round"/>
<polyline points="445.7,125.7 446.5,123.9 447.4,122.6 448.2,122.2 448.9,122.0 449.7,121.3 450.5,119.6 451.3,117.6 452.0,115.9 452.8,115.0 453.6,114.8 454.3,115.0 455.1,115.2 455.9,115.4 456.6,115.9 457.6,117.0 458.6,118.3 459.5,119.5 460.5,120.3 461.4,120.5 462.4,119.7 463.4,117.8 464.3,115.6 465.3,113.9 466.3,113.5 467.2,113.8 468.2,114.3 469.1,114.5 470.1,114.1 471.1,112.9 472.0,110.9 473.0,108.2 473.9,105.3 474.9,102.4 475.9,99.8 476.8,97.5 477.8,95.8 478.8,94.6 479.7,94.3 480.7,94.8 481.6,95.9 482.6,97.2 483.6,98.5 484.5,99.4 485.5,99.6 486.5,98.8 487.4,97.3 488.4,95.3 489.3,93.1 490.3,90.9 491.3,89.1 492.2,87.9 493.2,87.2 494.1,87.2 495.1,87.7 496.1,88.7 497.0,90.3 498.0,92.2 499.0,94.5 499.9,96.9 500.9,99.2 501.8,101.2 502.8,102.7 503.8,103.6 504.7,103.8 505.7,103.6 506.6,102.9 507.6,101.9 508.6,100.7 509.5,99.3 510.5,97.9 511.5,96.4 512.4,95.1 513.4,94.0 514.3,93.1 515.3,92.7 516.3,92.5 517.2,92.7 518.2,93.1 519.1,93.7 520.1,94.5 521.1,95.4 522.0,96.4 523.0,97.4 524.0,98.4 524.9,99.4 525.9,100.3 526.8,101.1 527.8,101.8 528.8,102.4 529.7,102.8 530.7,103.2 531.6,103.4 532.6,103.6 533.6,103.7 534.5,103.7 535.5,103.7 536.5,103.6 537.4,103.4 538.4,103.2 539.3,102.9 540.3,102.6 541.3,102.2 542.2,101.8 543.2,101.4 544.2,101.0 545.1,100.5 546.1,100.0 547.0,99.5 548.0,99.0 549.0,98.5 549.9,98.0 550.9,97.5 551.8,97.0 552.8,96.5 553.8,96.1 554.7,95.6 555.7,95.2 556.7,94.8 557.6,94.5 558.6,94.2 559.5,93.9 560.5,93.7 561.5,93.3 562.5,93.1 563.5,92.9 564.5,92.7 565.5,92.7 566.5,92.7 567.5,92.7 568.5,92.8 569.5,93.0 570.4,93.2 571.4,93.4 572.4,93.7 573.4,94.0 574.4,94.3 575.4,94.6 576.4,95.0 577.4,95.4 578.4,95.8 579.4,96.2 580.4,96.6 581.4,97.0 582.4,97.4 583.4,97.8 584.4,98.2 585.4,98.6 586.4,98.9 587.4,99.2 588.4,99.5 589.4,99.8 590.3,100.1 591.3,100.4 592.3,100.6 593.3,100.8 594.3,101.0 595.3,101.1 596.3,101.3 597.3,101.4 598.3,101.5 599.3,101.5 600.3,101.6 601.3,101.6 602.3,101.6 603.3,101.6 604.3,101.6 605.3,101.5 606.3,101.5 607.3,101.5 608.3,101.4 609.2,101.4 610.2,101.3 611.2,101.3 612.2,101.2 613.2,101.2 614.2,101.1 615.2,101.1 616.2,101.0 617.2,101.0 618.2,101.0 619.2,100.9 620.2,100.8 621.2,100.7 622.2,100.6 623.2,100.6 624.2,100.5 625.2,100.5 626.2,100.5 627.2,100.5 628.1,100.5 629.1,100.5 630.1,100.6 631.1,100.6 632.1,100.7 633.1,100.8 634.1,100.9 635.1,101.0 636.1,101.1 637.1,101.2 638.1,101.3 639.1,101.5 640.1,101.6 641.1,101.8 642.1,102.0 643.1,102.1 644.1,102.3 645.1,102.5 646.1,102.7 647.0,103.0 648.0,103.2 649.0,103.4 650.0,103.6 651.0,103.9 652.0,104.1 653.0,104.4 654.0,104.7 655.0,104.9 656.0,105.2 657.0,105.5 658.0,105.8 659.0,106.1 660.0,106.4 661.0,106.7 662.0,107.0 663.0,107.3 664.0,107.6 665.0,107.9 666.0,108.2 666.9,108.5 667.9,108.9 668.9,109.2 669.9,109.5 670.9,109.8 671.9,110.2 672.9,110.5 673.9,110.8 674.9,111.2 675.9,111.5" fill="none" stroke="#5e5e5e" stroke-width="1.05" stroke-linejoin="round"/>
<polyline points="445.7,106.8 446.5,108.7 447.4,110.5 448.2,111.8 448.9,112.3 449.7,111.5 450.5,109.2 451.3,106.7 452.0,105.8 452.8,107.5 453.6,110.8 454.3,114.1 455.1,115.9 455.9,116.7 456.6,116.8 457.6,116.9 458.6,118.2 459.5,121.9 460.5,128.4 461.4,134.8 462.4,137.5 463.4,134.1 464.3,127.5 465.3,121.7 466.3,119.8 467.2,120.2 468.2,120.3 469.1,118.3 470.1,115.1 471.1,112.3 472.0,111.1 473.0,111.2 473.9,111.6 474.9,111.8 475.9,111.7 476.8,111.5 477.8,111.2 478.8,110.9 479.7,110.9 480.7,111.0 481.6,111.3 482.6,111.7 483.6,112.2 484.5,112.5 485.5,112.6 486.5,112.6 487.4,112.4 488.4,112.2 489.3,112.1 490.3,112.4 491.3,113.0 492.2,114.2 493.2,115.7 494.1,117.4 495.1,118.9 496.1,120.1 497.0,120.7 498.0,120.6 499.0,119.9 499.9,118.7 500.9,117.4 501.8,116.1 502.8,115.0 503.8,114.2 504.7,113.8 505.7,113.6 506.6,113.7 507.6,114.1 508.6,114.6 509.5,115.2 510.5,115.9 511.5,116.6 512.4,117.4 513.4,118.0 514.3,118.6 515.3,119.1 516.3,119.4 517.2,119.7 518.2,119.8 519.1,119.9 520.1,119.8 521.1,119.7 522.0,119.6 523.0,119.4 524.0,119.2 524.9,118.9 525.9,118.7 526.8,118.4 527.8,118.2 528.8,117.9 529.7,117.7 530.7,117.5 531.6,117.2 532.6,117.0 533.6,116.7 534.5,116.5 535.5,116.2 536.5,115.9 537.4,115.6 538.4,115.3 539.3,115.0 540.3,114.7 541.3,114.4 542.2,114.1 543.2,113.8 544.2,113.5 545.1,113.3 546.1,113.0 547.0,112.9 548.0,112.7 549.0,112.6 549.9,112.6 550.9,112.6 551.8,112.7 552.8,112.8 553.8,112.9 554.7,113.1 555.7,113.2 556.7,113.3 557.6,113.5 558.6,113.6 559.5,113.7 560.5,113.8 561.5,113.9 562.5,114.0 563.5,114.0 564.5,114.0 565.5,113.9 566.5,113.8 567.5,113.7 568.5,113.5 569.5,113.3 570.4,113.1 571.4,112.8 572.4,112.5 573.4,112.2 574.4,111.9 575.4,111.6 576.4,111.3 577.4,111.0 578.4,110.7 579.4,110.4 580.4,110.1 581.4,109.8 582.4,109.5 583.4,109.3 584.4,109.0 585.4,108.8 586.4,108.7 587.4,108.5 588.4,108.4 589.4,108.4 590.3,108.2 591.3,108.1 592.3,108.0 593.3,108.0 594.3,108.0 595.3,108.0 596.3,108.0 597.3,108.1 598.3,108.3 599.3,108.4 600.3,108.6 601.3,108.8 602.3,109.0 603.3,109.2 604.3,109.4 605.3,109.7 606.3,109.9 607.3,110.2 608.3,110.5 609.2,110.8 610.2,111.1 611.2,111.4 612.2,111.6 613.2,111.9 614.2,112.2 615.2,112.5 616.2,112.7 617.2,113.0 618.2,113.2 619.2,113.6 620.2,113.9 621.2,114.2 622.2,114.6 623.2,114.8 624.2,115.1 625.2,115.4 626.2,115.6 627.2,115.8 628.1,116.0 629.1,116.2 630.1,116.4 631.1,116.5 632.1,116.6 633.1,116.8 634.1,116.9 635.1,117.0 636.1,117.0 637.1,117.1 638.1,117.2 639.1,117.2 640.1,117.2 641.1,117.2 642.1,117.2 643.1,117.2 644.1,117.2 645.1,117.2 646.1,117.1 647.0,117.1 648.0,117.0 649.0,116.9 650.0,116.8 651.0,116.7 652.0,116.6 653.0,116.5 654.0,116.4 655.0,116.3 656.0,116.1 657.0,116.0 658.0,115.9 659.0,115.7 660.0,115.5 661.0,115.4 662.0,115.2 663.0,115.0 664.0,114.9 665.0,114.7 666.0,114.5 666.9,114.3 667.9,114.1 668.9,113.9 669.9,113.7 670.9,113.5 671.9,113.3 672.9,113.1 673.9,112.9 674.9,112.7 675.9,112.5" fill="none" stroke="#a0a0a0" stroke-width="1.05" stroke-linejoin="round"/>
<polyline points="445.7,123.6 446.5,116.1 447.4,112.6 448.2,114.9 448.9,119.3 449.7,121.6 450.5,118.7 451.3,112.8 452.0,107.3 452.8,104.8 453.6,105.1 454.3,107.1 455.1,110.0 455.9,113.6 456.6,117.7 457.6,123.2 458.6,127.9 459.5,130.1 460.5,128.9 461.4,125.4 462.4,121.0 463.4,117.4 464.3,115.3 465.3,115.2 466.3,117.4 467.2,121.2 468.2,125.3 469.1,128.6 470.1,130.7 471.1,131.2 472.0,129.8 473.0,127.5 473.9,125.2 474.9,123.8 475.9,123.2 476.8,123.2 477.8,123.5 478.8,124.1 479.7,124.5 480.7,124.6 481.6,124.4 482.6,124.1 483.6,123.5 484.5,122.9 485.5,122.1 486.5,121.3 487.4,120.6 488.4,119.8 489.3,119.0 490.3,118.2 491.3,117.4 492.2,116.7 493.2,116.1 494.1,115.6 495.1,115.4 496.1,115.5 497.0,116.0 498.0,117.0 499.0,118.3 499.9,119.8 500.9,121.4 501.8,122.8 502.8,124.1 503.8,125.1 504.7,125.7 505.7,126.2 506.6,126.4 507.6,126.4 508.6,126.4 509.5,126.2 510.5,126.1 511.5,126.1 512.4,126.1 513.4,126.2 514.3,126.6 515.3,127.2 516.3,128.0 517.2,128.9 518.2,130.0 519.1,131.1 520.1,132.3 521.1,133.4 522.0,134.6 523.0,135.6 524.0,136.6 524.9,137.4 525.9,138.0 526.8,138.3 527.8,138.5 528.8,138.4 529.7,138.2 530.7,137.9 531.6,137.6 532.6,137.1 533.6,136.6 534.5,136.1 535.5,135.7 536.5,135.3 537.4,135.0 538.4,134.8 539.3,134.7 540.3,134.7 541.3,134.8 542.2,134.9 543.2,135.0 544.2,135.1 545.1,135.3 546.1,135.4 547.0,135.4 548.0,135.4 549.0,135.3 549.9,135.1 550.9,134.8 551.8,134.5 552.8,134.1 553.8,133.6 554.7,133.1 555.7,132.6 556.7,132.0 557.6,131.5 558.6,131.0 559.5,130.5 560.5,130.1 561.5,129.5 562.5,129.1 563.5,128.7 564.5,128.3 565.5,128.1 566.5,127.9 567.5,127.8 568.5,127.7 569.5,127.7 570.4,127.7 571.4,127.8 572.4,127.9 573.4,128.0 574.4,128.1 575.4,128.3 576.4,128.5 577.4,128.7 578.4,129.0 579.4,129.2 580.4,129.4 581.4,129.6 582.4,129.8 583.4,130.0 584.4,130.2 585.4,130.3 586.4,130.4 587.4,130.5 588.4,130.5 589.4,130.5 590.3,130.6 591.3,130.6 592.3,130.6 593.3,130.6 594.3,130.5 595.3,130.3 596.3,130.2 597.3,129.9 598.3,129.7 599.3,129.4 600.3,129.2 601.3,128.8 602.3,128.5 603.3,128.1 604.3,127.8 605.3,127.4 606.3,127.0 607.3,126.5 608.3,126.1 609.2,125.7 610.2,125.2 611.2,124.8 612.2,124.4 613.2,123.9 614.2,123.5 615.2,123.1 616.2,122.7 617.2,122.2 618.2,121.9 619.2,121.3 620.2,120.9 621.2,120.4 622.2,119.9 623.2,119.5 624.2,119.1 625.2,118.7 626.2,118.3 627.2,117.9 628.1,117.6 629.1,117.2 630.1,116.9 631.1,116.6 632.1,116.3 633.1,116.1 634.1,115.8 635.1,115.6 636.1,115.3 637.1,115.1 638.1,114.9 639.1,114.7 640.1,114.5 641.1,114.4 642.1,114.2 643.1,114.1 644.1,113.9 645.1,113.8 646.1,113.7 647.0,113.6 648.0,113.5 649.0,113.4 650.0,113.3 651.0,113.3 652.0,113.2 653.0,113.2 654.0,113.1 655.0,113.1 656.0,113.1 657.0,113.0 658.0,113.0 659.0,113.0 660.0,113.0 661.0,113.0 662.0,113.0 663.0,113.1 664.0,113.1 665.0,113.1 666.0,113.1 666.9,113.1 667.9,113.2 668.9,113.2 669.9,113.2 670.9,113.3 671.9,113.3 672.9,113.4 673.9,113.4 674.9,113.5 675.9,113.5" fill="none" stroke="#5e5e5e" stroke-width="1.05" stroke-linejoin="round"/>
<polyline points="445.7,145.4 446.5,144.9 447.4,144.3 448.2,143.8 448.9,144.4 449.7,147.0 450.5,152.5 451.3,158.6 452.0,162.8 452.8,163.3 453.6,161.8 454.3,161.0 455.1,162.6 455.9,166.1 456.6,169.9 457.6,173.3 458.6,175.0 459.5,175.0 460.5,173.5 461.4,170.7 462.4,167.3 463.4,163.7 464.3,160.9 465.3,159.9 466.3,161.3 467.2,163.4 468.2,164.1 469.1,161.8 470.1,158.2 471.1,155.6 472.0,155.6 473.0,157.6 473.9,160.0 474.9,161.7 475.9,162.4 476.8,162.4 477.8,161.6 478.8,160.1 479.7,158.0 480.7,155.3 481.6,152.4 482.6,149.4 483.6,146.6 484.5,144.1 485.5,142.3 486.5,141.3 487.4,140.8 488.4,140.6 489.3,140.5 490.3,140.1 491.3,139.1 492.2,137.4 493.2,135.3 494.1,133.0 495.1,130.9 496.1,129.5 497.0,129.0 498.0,129.7 499.0,131.3 499.9,133.5 500.9,136.0 501.8,138.5 502.8,140.5 503.8,141.9 504.7,142.6 505.7,142.7 506.6,142.4 507.6,141.6 508.6,140.6 509.5,139.4 510.5,138.0 511.5,136.6 512.4,135.3 513.4,134.1 514.3,133.2 515.3,132.5 516.3,132.2 517.2,132.0 518.2,132.1 519.1,132.4 520.1,132.7 521.1,133.1 522.0,133.6 523.0,134.0 524.0,134.4 524.9,134.7 525.9,134.9 526.8,134.8 527.8,134.7 528.8,134.3 529.7,133.9 530.7,133.5 531.6,133.0 532.6,132.5 533.6,132.0 534.5,131.5 535.5,131.1 536.5,130.9 537.4,130.7 538.4,130.8 539.3,130.9 540.3,131.2 541.3,131.5 542.2,132.0 543.2,132.4 544.2,132.8 545.1,133.2 546.1,133.6 547.0,133.8 548.0,134.0 549.0,134.0 549.9,133.8 550.9,133.5 551.8,133.1 552.8,132.6 553.8,131.9 554.7,131.2 555.7,130.4 556.7,129.6 557.6,128.8 558.6,127.9 559.5,127.1 560.5,126.3 561.5,125.3 562.5,124.3 563.5,123.5 564.5,122.7 565.5,122.0 566.5,121.3 567.5,120.7 568.5,120.2 569.5,119.7 570.4,119.2 571.4,118.9 572.4,118.5 573.4,118.2 574.4,118.0 575.4,117.8 576.4,117.6 577.4,117.5 578.4,117.4 579.4,117.4 580.4,117.4 581.4,117.4 582.4,117.4 583.4,117.5 584.4,117.5 585.4,117.7 586.4,117.8 587.4,117.9 588.4,118.1 589.4,118.2 590.3,118.2 591.3,118.3 592.3,118.3 593.3,118.4 594.3,118.4 595.3,118.5 596.3,118.6 597.3,118.6 598.3,118.7 599.3,118.8 600.3,118.9 601.3,119.0 602.3,119.0 603.3,119.1 604.3,119.2 605.3,119.3 606.3,119.4 607.3,119.5 608.3,119.5 609.2,119.6 610.2,119.7 611.2,119.8 612.2,119.8 613.2,119.9 614.2,119.9 615.2,120.0 616.2,120.0 617.2,120.1 618.2,120.1 619.2,120.2 620.2,120.3 621.2,120.4 622.2,120.5 623.2,120.6 624.2,120.6 625.2,120.7 626.2,120.7 627.2,120.8 628.1,120.8 629.1,120.8 630.1,120.8 631.1,120.8 632.1,120.8 633.1,120.8 634.1,120.8 635.1,120.7 636.1,120.7 637.1,120.6 638.1,120.6 639.1,120.5 640.1,120.4 641.1,120.3 642.1,120.2 643.1,120.2 644.1,120.0 645.1,119.9 646.1,119.8 647.0,119.7 648.0,119.6 649.0,119.4 650.0,119.3 651.0,119.2 652.0,119.0 653.0,118.9 654.0,118.7 655.0,118.5 656.0,118.4 657.0,118.2 658.0,118.0 659.0,117.9 660.0,117.7 661.0,117.5 662.0,117.3 663.0,117.1 664.0,116.9 665.0,116.7 666.0,116.5 666.9,116.3 667.9,116.1 668.9,115.9 669.9,115.7 670.9,115.5 671.9,115.3 672.9,115.1 673.9,114.9 674.9,114.7 675.9,114.5" fill="none" stroke="#808080" stroke-width="1.05" stroke-linejoin="round"/>
<polyline points="445.7,103.3 446.5,107.3 447.4,108.0 448.2,104.1 448.9,98.2 449.7,93.4 450.5,92.1 451.3,93.6 452.0,96.6 452.8,99.7 453.6,101.7 454.3,101.3 455.1,98.0 455.9,93.8 456.6,90.9 457.6,91.9 458.6,95.7 459.5,98.7 460.5,98.4 461.4,96.2 462.4,94.3 463.4,94.4 464.3,96.1 465.3,98.7 466.3,101.3 467.2,103.3 468.2,104.0 469.1,103.3 470.1,102.1 471.1,101.7 472.0,103.0 473.0,105.2 473.9,106.9 474.9,107.2 475.9,106.2 476.8,104.5 477.8,102.5 478.8,100.8 479.7,99.8 480.7,99.9 481.6,100.9 482.6,102.4 483.6,104.1 484.5,105.5 485.5,106.4 486.5,106.5 487.4,105.9 488.4,104.8 489.3,103.5 490.3,102.2 491.3,101.2 492.2,100.6 493.2,100.5 494.1,100.8 495.1,101.4 496.1,102.4 497.0,103.8 498.0,105.4 499.0,107.1 499.9,108.8 500.9,110.3 501.8,111.5 502.8,112.3 503.8,112.5 504.7,112.3 505.7,111.6 506.6,110.5 507.6,109.1 508.6,107.6 509.5,106.0 510.5,104.3 511.5,102.6 512.4,101.1 513.4,99.8 514.3,98.8 515.3,98.1 516.3,97.7 517.2,97.6 518.2,97.7 519.1,98.0 520.1,98.5 521.1,99.0 522.0,99.6 523.0,100.2 524.0,100.8 524.9,101.3 525.9,101.7 526.8,101.9 527.8,102.0 528.8,101.9 529.7,101.8 530.7,101.7 531.6,101.6 532.6,101.4 533.6,101.3 534.5,101.3 535.5,101.4 536.5,101.6 537.4,102.0 538.4,102.6 539.3,103.3 540.3,104.2 541.3,105.2 542.2,106.2 543.2,107.3 544.2,108.4 545.1,109.4 546.1,110.4 547.0,111.3 548.0,112.1 549.0,112.7 549.9,113.2 550.9,113.4 551.8,113.6 552.8,113.6 553.8,113.5 554.7,113.3 555.7,113.1 556.7,112.8 557.6,112.5 558.6,112.3 559.5,112.0 560.5,111.8 561.5,111.5 562.5,111.2 563.5,111.0 564.5,111.0 565.5,111.0 566.5,111.1 567.5,111.3 568.5,111.5 569.5,111.8 570.4,112.2 571.4,112.6 572.4,113.0 573.4,113.5 574.4,114.1 575.4,114.6 576.4,115.2 577.4,115.8 578.4,116.4 579.4,117.0 580.4,117.6 581.4,118.2 582.4,118.8 583.4,119.4 584.4,120.0 585.4,120.5 586.4,121.0 587.4,121.5 588.4,121.9 589.4,122.2 590.3,122.7 591.3,123.1 592.3,123.5 593.3,123.8 594.3,124.1 595.3,124.3 596.3,124.5 597.3,124.6 598.3,124.7 599.3,124.8 600.3,124.8 601.3,124.8 602.3,124.8 603.3,124.7 604.3,124.6 605.3,124.5 606.3,124.4 607.3,124.2 608.3,124.0 609.2,123.8 610.2,123.6 611.2,123.4 612.2,123.2 613.2,123.0 614.2,122.7 615.2,122.5 616.2,122.2 617.2,122.0 618.2,121.8 619.2,121.5 620.2,121.3 621.2,121.1 622.2,120.9 623.2,120.7 624.2,120.5 625.2,120.3 626.2,120.2 627.2,120.0 628.1,119.8 629.1,119.7 630.1,119.5 631.1,119.3 632.1,119.2 633.1,119.0 634.1,118.9 635.1,118.8 636.1,118.6 637.1,118.5 638.1,118.4 639.1,118.2 640.1,118.1 641.1,118.0 642.1,117.9 643.1,117.8 644.1,117.7 645.1,117.6 646.1,117.5 647.0,117.4 648.0,117.3 649.0,117.2 650.0,117.1 651.0,117.0 652.0,117.0 653.0,116.9 654.0,116.8 655.0,116.7 656.0,116.7 657.0,116.6 658.0,116.5 659.0,116.5 660.0,116.4 661.0,116.3 662.0,116.3 663.0,116.2 664.0,116.1 665.0,116.1 666.0,116.0 666.9,116.0 667.9,115.9 668.9,115.9 669.9,115.8 670.9,115.8 671.9,115.7 672.9,115.7 673.9,115.6 674.9,115.6 675.9,115.5" fill="none" stroke="#4a4a4a" stroke-width="1.05" stroke-linejoin="round"/>
<polyline points="445.7,118.8 446.5,119.7 447.4,122.0 448.2,125.6 448.9,129.2 449.7,131.1 450.5,129.9 451.3,127.6 452.0,126.8 452.8,129.3 453.6,133.9 454.3,138.6 455.1,141.9 455.9,142.7 456.6,140.5 457.6,133.2 458.6,124.5 459.5,118.4 460.5,118.1 461.4,121.5 462.4,125.6 463.4,127.6 464.3,127.3 465.3,125.1 466.3,121.4 467.2,117.5 468.2,114.5 469.1,113.6 470.1,113.8 471.1,114.1 472.0,113.5 473.0,112.4 473.9,111.3 474.9,110.8 475.9,110.9 476.8,111.2 477.8,111.8 478.8,112.4 479.7,112.9 480.7,113.2 481.6,113.3 482.6,113.4 483.6,113.7 484.5,114.2 485.5,115.1 486.5,116.4 487.4,118.1 488.4,119.8 489.3,121.4 490.3,122.7 491.3,123.4 492.2,123.3 493.2,122.7 494.1,121.8 495.1,121.0 496.1,120.4 497.0,120.3 498.0,120.9 499.0,122.1 499.9,123.7 500.9,125.5 501.8,127.3 502.8,128.8 503.8,130.0 504.7,130.8 505.7,131.3 506.6,131.5 507.6,131.3 508.6,131.0 509.5,130.4 510.5,129.7 511.5,128.9 512.4,128.0 513.4,127.0 514.3,126.0 515.3,125.1 516.3,124.1 517.2,123.2 518.2,122.4 519.1,121.6 520.1,120.9 521.1,120.3 522.0,119.8 523.0,119.4 524.0,119.1 524.9,118.9 525.9,118.8 526.8,118.9 527.8,119.2 528.8,119.5 529.7,119.9 530.7,120.4 531.6,120.9 532.6,121.5 533.6,122.0 534.5,122.5 535.5,122.9 536.5,123.3 537.4,123.6 538.4,123.8 539.3,123.9 540.3,123.9 541.3,123.8 542.2,123.6 543.2,123.5 544.2,123.3 545.1,123.1 546.1,122.9 547.0,122.7 548.0,122.5 549.0,122.4 549.9,122.4 550.9,122.4 551.8,122.4 552.8,122.5 553.8,122.6 554.7,122.7 555.7,122.8 556.7,122.9 557.6,123.0 558.6,123.1 559.5,123.1 560.5,123.1 561.5,123.2 562.5,123.1 563.5,123.0 564.5,122.8 565.5,122.6 566.5,122.3 567.5,122.0 568.5,121.6 569.5,121.2 570.4,120.7 571.4,120.2 572.4,119.7 573.4,119.2 574.4,118.6 575.4,118.1 576.4,117.5 577.4,117.0 578.4,116.5 579.4,116.0 580.4,115.5 581.4,115.0 582.4,114.6 583.4,114.2 584.4,113.9 585.4,113.6 586.4,113.3 587.4,113.2 588.4,113.1 589.4,113.0 590.3,112.8 591.3,112.7 592.3,112.6 593.3,112.6 594.3,112.6 595.3,112.7 596.3,112.9 597.3,113.1 598.3,113.3 599.3,113.6 600.3,114.0 601.3,114.4 602.3,114.8 603.3,115.2 604.3,115.7 605.3,116.2 606.3,116.7 607.3,117.2 608.3,117.7 609.2,118.3 610.2,118.8 611.2,119.3 612.2,119.8 613.2,120.4 614.2,120.9 615.2,121.3 616.2,121.8 617.2,122.2 618.2,122.6 619.2,123.3 620.2,124.0 621.2,124.6 622.2,125.1 623.2,125.7 624.2,126.2 625.2,126.6 626.2,127.0 627.2,127.4 628.1,127.8 629.1,128.1 630.1,128.4 631.1,128.6 632.1,128.8 633.1,129.0 634.1,129.1 635.1,129.3 636.1,129.3 637.1,129.4 638.1,129.4 639.1,129.4 640.1,129.4 641.1,129.3 642.1,129.3 643.1,129.2 644.1,129.0 645.1,128.9 646.1,128.7 647.0,128.5 648.0,128.3 649.0,128.0 650.0,127.8 651.0,127.5 652.0,127.2 653.0,126.9 654.0,126.6 655.0,126.2 656.0,125.9 657.0,125.5 658.0,125.1 659.0,124.7 660.0,124.3 661.0,123.8 662.0,123.4 663.0,122.9 664.0,122.5 665.0,122.0 666.0,121.5 666.9,121.1 667.9,120.6 668.9,120.1 669.9,119.6 670.9,119.1 671.9,118.6 672.9,118.0 673.9,117.5 674.9,117.0 675.9,116.5" fill="none" stroke="#707070" stroke-width="1.05" stroke-linejoin="round"/>
<polyline points="445.7,93.3 446.5,96.3 447.4,99.9 448.2,103.8 448.9,107.1 449.7,108.5 450.5,106.9 451.3,104.2 452.0,102.4 452.8,103.3 453.6,106.1 454.3,109.4 455.1,112.2 455.9,113.7 456.6,113.5 457.6,110.7 458.6,106.1 459.5,101.4 460.5,98.0 461.4,95.5 462.4,93.4 463.4,91.4 464.3,89.9 465.3,89.7 466.3,91.2 467.2,94.2 468.2,98.0 469.1,102.2 470.1,105.4 471.1,106.3 472.0,104.2 473.0,100.4 473.9,97.2 474.9,96.2 475.9,97.2 476.8,99.5 477.8,102.5 478.8,105.5 479.7,107.9 480.7,109.2 481.6,109.5 482.6,109.1 483.6,108.3 484.5,107.4 485.5,106.8 486.5,106.6 487.4,106.7 488.4,107.2 489.3,107.8 490.3,108.4 491.3,108.9 492.2,109.2 493.2,109.3 494.1,109.4 495.1,109.4 496.1,109.4 497.0,109.6 498.0,109.8 499.0,110.2 499.9,110.7 500.9,111.1 501.8,111.5 502.8,111.7 503.8,111.8 504.7,111.7 505.7,111.4 506.6,111.1 507.6,110.6 508.6,110.1 509.5,109.6 510.5,109.0 511.5,108.5 512.4,108.0 513.4,107.5 514.3,107.2 515.3,107.0 516.3,106.9 517.2,106.8 518.2,106.9 519.1,107.0 520.1,107.1 521.1,107.2 522.0,107.2 523.0,107.3 524.0,107.3 524.9,107.2 525.9,107.0 526.8,106.6 527.8,106.2 528.8,105.7 529.7,105.2 530.7,104.6 531.6,104.0 532.6,103.4 533.6,102.8 534.5,102.3 535.5,101.8 536.5,101.5 537.4,101.2 538.4,101.0 539.3,101.0 540.3,101.1 541.3,101.3 542.2,101.6 543.2,102.0 544.2,102.4 545.1,103.0 546.1,103.6 547.0,104.2 548.0,105.0 549.0,105.7 549.9,106.5 550.9,107.4 551.8,108.2 552.8,109.1 553.8,110.0 554.7,111.0 555.7,111.9 556.7,112.8 557.6,113.8 558.6,114.7 559.5,115.7 560.5,116.6 561.5,117.7 562.5,118.8 563.5,119.8 564.5,120.8 565.5,121.8 566.5,122.8 567.5,123.7 568.5,124.6 569.5,125.4 570.4,126.3 571.4,127.1 572.4,127.8 573.4,128.5 574.4,129.2 575.4,129.9 576.4,130.5 577.4,131.0 578.4,131.5 579.4,132.0 580.4,132.4 581.4,132.8 582.4,133.2 583.4,133.4 584.4,133.7 585.4,133.9 586.4,134.0 587.4,134.1 588.4,134.1 589.4,134.0 590.3,134.3 591.3,134.5 592.3,134.6 593.3,134.7 594.3,134.8 595.3,134.8 596.3,134.8 597.3,134.7 598.3,134.6 599.3,134.4 600.3,134.2 601.3,134.0 602.3,133.7 603.3,133.5 604.3,133.2 605.3,132.9 606.3,132.5 607.3,132.2 608.3,131.8 609.2,131.4 610.2,131.0 611.2,130.6 612.2,130.2 613.2,129.8 614.2,129.4 615.2,129.0 616.2,128.6 617.2,128.2 618.2,127.8 619.2,127.4 620.2,126.9 621.2,126.5 622.2,126.1 623.2,125.7 624.2,125.4 625.2,125.0 626.2,124.6 627.2,124.3 628.1,124.0 629.1,123.7 630.1,123.4 631.1,123.1 632.1,122.8 633.1,122.5 634.1,122.3 635.1,122.0 636.1,121.8 637.1,121.5 638.1,121.3 639.1,121.1 640.1,120.9 641.1,120.7 642.1,120.5 643.1,120.3 644.1,120.2 645.1,120.0 646.1,119.9 647.0,119.7 648.0,119.6 649.0,119.4 650.0,119.3 651.0,119.2 652.0,119.1 653.0,119.0 654.0,118.9 655.0,118.8 656.0,118.7 657.0,118.6 658.0,118.5 659.0,118.4 660.0,118.3 661.0,118.3 662.0,118.2 663.0,118.1 664.0,118.1 665.0,118.0 666.0,118.0 666.9,117.9 667.9,117.9 668.9,117.8 669.9,117.8 670.9,117.7 671.9,117.7 672.9,117.6 673.9,117.6 674.9,117.5 675.9,117.5" fill="none" stroke="#a0a0a0" stroke-width="1.05" stroke-linejoin="round"/>
<polyline points="445.7,117.8 446.5,122.5 447.4,125.6 448.2,126.2 448.9,125.8 449.7,126.0 450.5,127.9 451.3,130.8 452.0,133.5 452.8,135.0 453.6,135.3 454.3,134.6 455.1,133.3 455.9,131.9 456.6,131.2 457.6,131.9 458.6,134.1 459.5,136.8 460.5,139.5 461.4,141.4 462.4,142.0 463.4,141.1 464.3,140.0 465.3,140.2 466.3,142.7 467.2,145.8 468.2,147.4 469.1,145.8 470.1,143.0 471.1,141.8 472.0,144.2 473.0,148.8 473.9,153.4 474.9,156.3 475.9,157.4 476.8,157.2 477.8,156.1 478.8,154.6 479.7,153.2 480.7,152.0 481.6,151.3 482.6,150.7 483.6,150.4 484.5,150.0 485.5,149.6 486.5,149.1 487.4,148.3 488.4,147.1 489.3,145.5 490.3,143.3 491.3,140.5 492.2,137.1 493.2,133.3 494.1,129.5 495.1,126.1 496.1,123.4 497.0,121.9 498.0,121.7 499.0,122.7 499.9,124.5 500.9,126.9 501.8,129.4 502.8,131.7 503.8,133.7 504.7,135.2 505.7,136.4 506.6,137.2 507.6,137.6 508.6,137.9 509.5,137.9 510.5,137.7 511.5,137.4 512.4,136.9 513.4,136.4 514.3,135.9 515.3,135.4 516.3,135.0 517.2,134.5 518.2,134.1 519.1,133.7 520.1,133.4 521.1,133.0 522.0,132.8 523.0,132.5 524.0,132.3 524.9,132.2 525.9,132.1 526.8,132.1 527.8,132.1 528.8,132.1 529.7,132.1 530.7,132.2 531.6,132.2 532.6,132.3 533.6,132.2 534.5,132.2 535.5,132.1 536.5,131.9 537.4,131.6 538.4,131.3 539.3,130.8 540.3,130.4 541.3,129.9 542.2,129.4 543.2,128.9 544.2,128.4 545.1,128.0 546.1,127.7 547.0,127.5 548.0,127.4 549.0,127.5 549.9,127.7 550.9,128.1 551.8,128.6 552.8,129.2 553.8,129.9 554.7,130.7 555.7,131.4 556.7,132.2 557.6,133.0 558.6,133.8 559.5,134.5 560.5,135.1 561.5,136.0 562.5,136.7 563.5,137.3 564.5,137.8 565.5,138.1 566.5,138.4 567.5,138.5 568.5,138.5 569.5,138.5 570.4,138.3 571.4,138.1 572.4,137.8 573.4,137.4 574.4,137.0 575.4,136.5 576.4,136.0 577.4,135.5 578.4,134.9 579.4,134.3 580.4,133.7 581.4,133.0 582.4,132.4 583.4,131.8 584.4,131.2 585.4,130.6 586.4,130.0 587.4,129.5 588.4,129.0 589.4,128.6 590.3,128.1 591.3,127.7 592.3,127.3 593.3,127.0 594.3,126.8 595.3,126.5 596.3,126.3 597.3,126.2 598.3,126.1 599.3,126.0 600.3,126.0 601.3,125.9 602.3,126.0 603.3,126.0 604.3,126.0 605.3,126.1 606.3,126.2 607.3,126.3 608.3,126.4 609.2,126.5 610.2,126.7 611.2,126.8 612.2,126.9 613.2,127.1 614.2,127.2 615.2,127.3 616.2,127.4 617.2,127.5 618.2,127.6 619.2,127.8 620.2,128.0 621.2,128.2 622.2,128.3 623.2,128.4 624.2,128.6 625.2,128.6 626.2,128.7 627.2,128.8 628.1,128.8 629.1,128.9 630.1,128.9 631.1,128.9 632.1,128.8 633.1,128.8 634.1,128.8 635.1,128.7 636.1,128.6 637.1,128.5 638.1,128.4 639.1,128.3 640.1,128.2 641.1,128.1 642.1,127.9 643.1,127.8 644.1,127.6 645.1,127.4 646.1,127.2 647.0,127.0 648.0,126.8 649.0,126.6 650.0,126.4 651.0,126.2 652.0,125.9 653.0,125.7 654.0,125.4 655.0,125.1 656.0,124.9 657.0,124.6 658.0,124.3 659.0,124.0 660.0,123.7 661.0,123.4 662.0,123.1 663.0,122.8 664.0,122.5 665.0,122.2 666.0,121.8 666.9,121.5 667.9,121.2 668.9,120.9 669.9,120.5 670.9,120.2 671.9,119.9 672.9,119.5 673.9,119.2 674.9,118.8 675.9,118.5" fill="none" stroke="#c0c0c0" stroke-width="1.05" stroke-linejoin="round"/>
<polyline points="445.7,107.6 446.5,108.8 447.4,107.9 448.2,104.4 448.9,99.9 449.7,96.9 450.5,96.9 451.3,98.6 452.0,99.7 452.8,98.9 453.6,96.9 454.3,95.6 455.1,95.8 455.9,96.6 456.6,96.4 457.6,93.3 458.6,89.4 459.5,87.9 460.5,90.9 461.4,96.7 462.4,102.3 463.4,105.3 464.3,105.8 465.3,104.7 466.3,102.9 467.2,101.9 468.2,103.5 469.1,108.5 470.1,114.2 471.1,116.9 472.0,114.0 473.0,107.5 473.9,100.9 474.9,96.7 475.9,95.0 476.8,95.0 477.8,96.3 478.8,98.0 479.7,99.7 480.7,100.7 481.6,101.2 482.6,101.3 483.6,101.1 484.5,100.8 485.5,100.6 486.5,100.5 487.4,100.7 488.4,101.2 489.3,101.9 490.3,102.8 491.3,104.1 492.2,105.6 493.2,107.2 494.1,108.8 495.1,110.1 496.1,111.0 497.0,111.3 498.0,111.0 499.0,110.0 499.9,108.6 500.9,107.0 501.8,105.5 502.8,104.1 503.8,103.0 504.7,102.2 505.7,101.8 506.6,101.7 507.6,101.8 508.6,102.2 509.5,102.8 510.5,103.6 511.5,104.6 512.4,105.7 513.4,106.9 514.3,108.3 515.3,109.7 516.3,111.2 517.2,112.7 518.2,114.2 519.1,115.8 520.1,117.3 521.1,118.7 522.0,120.1 523.0,121.4 524.0,122.6 524.9,123.7 525.9,124.6 526.8,125.4 527.8,126.0 528.8,126.4 529.7,126.8 530.7,127.0 531.6,127.1 532.6,127.1 533.6,127.0 534.5,126.8 535.5,126.6 536.5,126.3 537.4,126.0 538.4,125.7 539.3,125.4 540.3,125.1 541.3,124.7 542.2,124.4 543.2,124.1 544.2,123.8 545.1,123.5 546.1,123.3 547.0,123.2 548.0,123.1 549.0,123.0 549.9,123.0 550.9,123.1 551.8,123.2 552.8,123.4 553.8,123.7 554.7,123.9 555.7,124.3 556.7,124.6 557.6,124.9 558.6,125.3 559.5,125.7 560.5,126.1 561.5,126.5 562.5,127.0 563.5,127.5 564.5,127.9 565.5,128.3 566.5,128.7 567.5,129.2 568.5,129.6 569.5,129.9 570.4,130.3 571.4,130.7 572.4,131.0 573.4,131.3 574.4,131.6 575.4,131.9 576.4,132.2 577.4,132.4 578.4,132.6 579.4,132.8 580.4,133.0 581.4,133.1 582.4,133.2 583.4,133.3 584.4,133.3 585.4,133.3 586.4,133.3 587.4,133.3 588.4,133.2 589.4,133.1 590.3,133.1 591.3,133.1 592.3,133.1 593.3,133.1 594.3,133.0 595.3,132.9 596.3,132.7 597.3,132.6 598.3,132.4 599.3,132.2 600.3,132.0 601.3,131.7 602.3,131.5 603.3,131.2 604.3,130.9 605.3,130.6 606.3,130.3 607.3,130.0 608.3,129.6 609.2,129.3 610.2,129.0 611.2,128.6 612.2,128.3 613.2,128.0 614.2,127.6 615.2,127.3 616.2,127.0 617.2,126.7 618.2,126.4 619.2,126.0 620.2,125.6 621.2,125.3 622.2,124.9 623.2,124.6 624.2,124.3 625.2,123.9 626.2,123.7 627.2,123.4 628.1,123.1 629.1,122.8 630.1,122.6 631.1,122.4 632.1,122.1 633.1,121.9 634.1,121.7 635.1,121.5 636.1,121.3 637.1,121.2 638.1,121.0 639.1,120.9 640.1,120.7 641.1,120.6 642.1,120.4 643.1,120.3 644.1,120.2 645.1,120.1 646.1,120.0 647.0,119.9 648.0,119.9 649.0,119.8 650.0,119.7 651.0,119.7 652.0,119.6 653.0,119.5 654.0,119.5 655.0,119.5 656.0,119.4 657.0,119.4 658.0,119.4 659.0,119.4 660.0,119.4 661.0,119.3 662.0,119.3 663.0,119.3 664.0,119.3 665.0,119.3 666.0,119.3 666.9,119.4 667.9,119.4 668.9,119.4 669.9,119.4 670.9,119.4 671.9,119.4 672.9,119.4 673.9,119.5 674.9,119.5 675.9,119.5" fill="none" stroke="#5e5e5e" stroke-width="1.05" stroke-linejoin="round"/>
<polyline points="445.7,130.2 446.5,136.2 447.4,139.5 448.2,138.5 448.9,135.2 449.7,131.6 450.5,129.5 451.3,128.9 452.0,129.7 452.8,131.3 453.6,132.9 454.3,133.2 455.1,131.7 455.9,129.1 456.6,126.5 457.6,124.8 458.6,125.4 459.5,128.8 460.5,134.8 461.4,140.6 462.4,142.8 463.4,139.2 464.3,133.4 465.3,129.9 466.3,132.1 467.2,137.2 468.2,140.8 469.1,139.9 470.1,136.6 471.1,134.2 472.0,135.0 473.0,138.2 473.9,141.6 474.9,143.8 475.9,144.8 476.8,144.8 477.8,144.3 478.8,143.6 479.7,143.2 480.7,143.2 481.6,143.6 482.6,144.3 483.6,145.1 484.5,145.9 485.5,146.6 486.5,147.0 487.4,147.1 488.4,147.0 489.3,146.8 490.3,146.5 491.3,146.1 492.2,145.8 493.2,145.4 494.1,144.9 495.1,144.1 496.1,143.0 497.0,141.4 498.0,139.4 499.0,137.0 499.9,134.4 500.9,132.0 501.8,129.7 502.8,127.9 503.8,126.7 504.7,126.0 505.7,125.9 506.6,126.1 507.6,126.6 508.6,127.4 509.5,128.4 510.5,129.5 511.5,130.6 512.4,131.6 513.4,132.5 514.3,133.3 515.3,133.8 516.3,134.0 517.2,134.0 518.2,133.9 519.1,133.7 520.1,133.3 521.1,132.9 522.0,132.5 523.0,132.1 524.0,131.7 524.9,131.4 525.9,131.2 526.8,131.2 527.8,131.3 528.8,131.5 529.7,131.8 530.7,132.2 531.6,132.6 532.6,133.0 533.6,133.5 534.5,133.9 535.5,134.3 536.5,134.6 537.4,134.8 538.4,135.0 539.3,135.0 540.3,135.0 541.3,134.9 542.2,134.7 543.2,134.5 544.2,134.3 545.1,134.0 546.1,133.7 547.0,133.4 548.0,133.2 549.0,132.9 549.9,132.7 550.9,132.5 551.8,132.4 552.8,132.2 553.8,132.1 554.7,132.0 555.7,131.9 556.7,131.9 557.6,131.8 558.6,131.7 559.5,131.6 560.5,131.6 561.5,131.5 562.5,131.4 563.5,131.4 564.5,131.3 565.5,131.1 566.5,131.0 567.5,130.9 568.5,130.7 569.5,130.5 570.4,130.4 571.4,130.2 572.4,130.0 573.4,129.8 574.4,129.5 575.4,129.3 576.4,129.1 577.4,128.8 578.4,128.6 579.4,128.3 580.4,128.0 581.4,127.7 582.4,127.5 583.4,127.2 584.4,126.9 585.4,126.6 586.4,126.3 587.4,126.0 588.4,125.7 589.4,125.4 590.3,125.1 591.3,124.8 592.3,124.5 593.3,124.2 594.3,123.9 595.3,123.6 596.3,123.3 597.3,123.0 598.3,122.7 599.3,122.5 600.3,122.2 601.3,121.9 602.3,121.6 603.3,121.4 604.3,121.1 605.3,120.9 606.3,120.6 607.3,120.4 608.3,120.2 609.2,119.9 610.2,119.7 611.2,119.5 612.2,119.3 613.2,119.1 614.2,119.0 615.2,118.8 616.2,118.7 617.2,118.5 618.2,118.4 619.2,118.1 620.2,117.9 621.2,117.6 622.2,117.4 623.2,117.2 624.2,117.0 625.2,116.8 626.2,116.6 627.2,116.5 628.1,116.3 629.1,116.2 630.1,116.1 631.1,116.0 632.1,115.9 633.1,115.8 634.1,115.7 635.1,115.7 636.1,115.7 637.1,115.6 638.1,115.6 639.1,115.6 640.1,115.6 641.1,115.6 642.1,115.6 643.1,115.7 644.1,115.7 645.1,115.8 646.1,115.8 647.0,115.9 648.0,116.0 649.0,116.1 650.0,116.2 651.0,116.3 652.0,116.4 653.0,116.5 654.0,116.6 655.0,116.8 656.0,116.9 657.0,117.1 658.0,117.2 659.0,117.4 660.0,117.5 661.0,117.7 662.0,117.9 663.0,118.0 664.0,118.2 665.0,118.4 666.0,118.6 666.9,118.7 667.9,118.9 668.9,119.1 669.9,119.3 670.9,119.5 671.9,119.7 672.9,119.9 673.9,120.1 674.9,120.3 675.9,120.5" fill="none" stroke="#5e5e5e" stroke-width="1.05" stroke-linejoin="round"/>
<polyline points="445.7,148.9 446.5,145.0 447.4,142.6 448.2,142.7 448.9,144.2 449.7,145.6 450.5,146.2 451.3,145.7 452.0,144.3 452.8,142.1 453.6,139.4 454.3,136.6 455.1,133.9 455.9,131.6 456.6,129.7 457.6,128.0 458.6,126.6 459.5,124.9 460.5,122.4 461.4,120.2 462.4,119.8 463.4,122.0 464.3,124.9 465.3,126.1 466.3,124.0 467.2,120.1 468.2,116.9 469.1,115.9 470.1,116.9 471.1,118.6 472.0,120.0 473.0,120.9 473.9,121.0 474.9,120.1 475.9,118.4 476.8,116.1 477.8,113.6 478.8,111.1 479.7,108.9 480.7,107.2 481.6,105.9 482.6,105.1 483.6,104.6 484.5,104.4 485.5,104.5 486.5,104.7 487.4,105.1 488.4,105.6 489.3,106.3 490.3,107.1 491.3,108.0 492.2,108.9 493.2,109.9 494.1,110.7 495.1,111.4 496.1,111.6 497.0,111.5 498.0,110.8 499.0,109.7 499.9,108.4 500.9,106.8 501.8,105.3 502.8,103.9 503.8,102.8 504.7,101.8 505.7,101.1 506.6,100.6 507.6,100.3 508.6,100.1 509.5,100.0 510.5,100.0 511.5,100.2 512.4,100.4 513.4,100.6 514.3,100.9 515.3,101.2 516.3,101.4 517.2,101.7 518.2,102.0 519.1,102.3 520.1,102.6 521.1,102.9 522.0,103.3 523.0,103.6 524.0,104.0 524.9,104.5 525.9,104.9 526.8,105.4 527.8,105.9 528.8,106.5 529.7,107.0 530.7,107.6 531.6,108.1 532.6,108.7 533.6,109.2 534.5,109.7 535.5,110.2 536.5,110.7 537.4,111.1 538.4,111.5 539.3,111.8 540.3,112.1 541.3,112.3 542.2,112.5 543.2,112.7 544.2,112.8 545.1,112.8 546.1,112.9 547.0,112.8 548.0,112.8 549.0,112.7 549.9,112.6 550.9,112.4 551.8,112.2 552.8,112.0 553.8,111.8 554.7,111.5 555.7,111.3 556.7,111.0 557.6,110.8 558.6,110.6 559.5,110.4 560.5,110.2 561.5,110.0 562.5,109.8 563.5,109.7 564.5,109.6 565.5,109.6 566.5,109.6 567.5,109.6 568.5,109.6 569.5,109.7 570.4,109.8 571.4,109.9 572.4,110.0 573.4,110.2 574.4,110.3 575.4,110.5 576.4,110.7 577.4,110.9 578.4,111.0 579.4,111.2 580.4,111.4 581.4,111.5 582.4,111.7 583.4,111.8 584.4,111.9 585.4,112.0 586.4,112.1 587.4,112.1 588.4,112.2 589.4,112.1 590.3,112.2 591.3,112.2 592.3,112.2 593.3,112.1 594.3,112.0 595.3,111.9 596.3,111.8 597.3,111.6 598.3,111.5 599.3,111.3 600.3,111.1 601.3,110.9 602.3,110.7 603.3,110.4 604.3,110.2 605.3,110.0 606.3,109.7 607.3,109.5 608.3,109.2 609.2,109.0 610.2,108.8 611.2,108.6 612.2,108.4 613.2,108.2 614.2,108.0 615.2,107.8 616.2,107.7 617.2,107.6 618.2,107.5 619.2,107.1 620.2,106.8 621.2,106.5 622.2,106.2 623.2,106.0 624.2,105.8 625.2,105.6 626.2,105.5 627.2,105.4 628.1,105.3 629.1,105.2 630.1,105.2 631.1,105.2 632.1,105.2 633.1,105.2 634.1,105.2 635.1,105.3 636.1,105.4 637.1,105.5 638.1,105.7 639.1,105.9 640.1,106.0 641.1,106.2 642.1,106.5 643.1,106.7 644.1,107.0 645.1,107.2 646.1,107.5 647.0,107.8 648.0,108.2 649.0,108.5 650.0,108.9 651.0,109.2 652.0,109.6 653.0,110.0 654.0,110.4 655.0,110.9 656.0,111.3 657.0,111.7 658.0,112.2 659.0,112.6 660.0,113.1 661.0,113.6 662.0,114.1 663.0,114.6 664.0,115.1 665.0,115.6 666.0,116.1 666.9,116.6 667.9,117.2 668.9,117.7 669.9,118.2 670.9,118.8 671.9,119.3 672.9,119.9 673.9,120.4 674.9,121.0 675.9,121.5" fill="none" stroke="#707070" stroke-width="1.05" stroke-linejoin="round"/>
<polyline points="445.7,158.0 446.5,161.9 447.4,165.8 448.2,168.8 448.9,170.4 449.7,169.3 450.5,164.8 451.3,159.4 452.0,156.0 452.8,156.7 453.6,159.8 454.3,163.0 455.1,164.3 455.9,164.2 456.6,164.1 457.6,164.9 458.6,166.1 459.5,166.7 460.5,165.8 461.4,163.8 462.4,161.5 463.4,159.4 464.3,157.6 465.3,156.2 466.3,155.1 467.2,154.4 468.2,154.2 469.1,154.4 470.1,155.4 471.1,157.3 472.0,160.2 473.0,162.9 473.9,164.2 474.9,163.2 475.9,160.3 476.8,156.1 477.8,151.3 478.8,146.8 479.7,143.2 480.7,141.1 481.6,140.3 482.6,140.4 483.6,141.1 484.5,142.1 485.5,142.9 486.5,143.3 487.4,143.4 488.4,143.2 489.3,142.8 490.3,142.5 491.3,142.2 492.2,142.0 493.2,142.0 494.1,142.0 495.1,141.8 496.1,141.5 497.0,140.9 498.0,140.0 499.0,138.8 499.9,137.4 500.9,136.1 501.8,134.8 502.8,133.6 503.8,132.8 504.7,132.2 505.7,131.9 506.6,131.7 507.6,131.7 508.6,131.8 509.5,131.9 510.5,132.2 511.5,132.4 512.4,132.6 513.4,132.7 514.3,132.7 515.3,132.6 516.3,132.3 517.2,132.0 518.2,131.6 519.1,131.1 520.1,130.6 521.1,130.1 522.0,129.6 523.0,129.2 524.0,128.8 524.9,128.5 525.9,128.2 526.8,128.2 527.8,128.2 528.8,128.3 529.7,128.5 530.7,128.7 531.6,129.0 532.6,129.3 533.6,129.6 534.5,129.8 535.5,130.1 536.5,130.3 537.4,130.4 538.4,130.4 539.3,130.4 540.3,130.3 541.3,130.2 542.2,130.1 543.2,129.9 544.2,129.7 545.1,129.6 546.1,129.5 547.0,129.5 548.0,129.5 549.0,129.6 549.9,129.9 550.9,130.2 551.8,130.6 552.8,131.0 553.8,131.5 554.7,132.0 555.7,132.6 556.7,133.2 557.6,133.8 558.6,134.3 559.5,134.9 560.5,135.4 561.5,136.1 562.5,136.7 563.5,137.2 564.5,137.7 565.5,138.1 566.5,138.5 567.5,138.8 568.5,139.0 569.5,139.2 570.4,139.3 571.4,139.4 572.4,139.4 573.4,139.4 574.4,139.3 575.4,139.2 576.4,139.0 577.4,138.8 578.4,138.5 579.4,138.3 580.4,137.9 581.4,137.6 582.4,137.2 583.4,136.8 584.4,136.4 585.4,136.0 586.4,135.5 587.4,135.0 588.4,134.5 589.4,134.0 590.3,133.6 591.3,133.2 592.3,132.8 593.3,132.4 594.3,132.0 595.3,131.6 596.3,131.2 597.3,130.7 598.3,130.3 599.3,129.9 600.3,129.4 601.3,129.0 602.3,128.6 603.3,128.1 604.3,127.7 605.3,127.3 606.3,126.9 607.3,126.5 608.3,126.1 609.2,125.7 610.2,125.3 611.2,124.9 612.2,124.6 613.2,124.3 614.2,123.9 615.2,123.6 616.2,123.3 617.2,123.1 618.2,122.8 619.2,122.3 620.2,121.9 621.2,121.4 622.2,121.0 623.2,120.6 624.2,120.3 625.2,119.9 626.2,119.6 627.2,119.3 628.1,119.1 629.1,118.8 630.1,118.6 631.1,118.4 632.1,118.2 633.1,118.0 634.1,117.8 635.1,117.7 636.1,117.6 637.1,117.5 638.1,117.4 639.1,117.3 640.1,117.3 641.1,117.2 642.1,117.2 643.1,117.2 644.1,117.2 645.1,117.3 646.1,117.3 647.0,117.3 648.0,117.4 649.0,117.5 650.0,117.6 651.0,117.7 652.0,117.8 653.0,117.9 654.0,118.0 655.0,118.2 656.0,118.3 657.0,118.5 658.0,118.6 659.0,118.8 660.0,119.0 661.0,119.2 662.0,119.4 663.0,119.6 664.0,119.8 665.0,120.0 666.0,120.2 666.9,120.4 667.9,120.6 668.9,120.9 669.9,121.1 670.9,121.3 671.9,121.5 672.9,121.8 673.9,122.0 674.9,122.3 675.9,122.5" fill="none" stroke="#707070" stroke-width="1.05" stroke-linejoin="round"/>
<polyline points="445.7,132.6 446.5,134.1 447.4,134.2 448.2,132.3 448.9,130.3 449.7,130.0 450.5,132.7 451.3,136.6 452.0,139.0 452.8,138.0 453.6,134.9 454.3,131.7 455.1,130.2 455.9,129.9 456.6,129.9 457.6,129.5 458.6,128.4 459.5,126.8 460.5,124.8 461.4,123.1 462.4,122.4 463.4,123.2 464.3,124.9 465.3,126.9 466.3,128.3 467.2,128.6 468.2,127.4 469.1,124.6 470.1,121.3 471.1,119.1 472.0,119.0 473.0,120.3 473.9,121.7 474.9,122.5 475.9,122.4 476.8,121.9 477.8,121.2 478.8,120.6 479.7,120.2 480.7,120.4 481.6,120.9 482.6,121.7 483.6,122.5 484.5,123.2 485.5,123.5 486.5,123.4 487.4,122.9 488.4,122.2 489.3,121.3 490.3,120.3 491.3,119.4 492.2,118.7 493.2,118.2 494.1,117.8 495.1,117.5 496.1,117.2 497.0,117.1 498.0,116.9 499.0,116.9 499.9,116.8 500.9,116.9 501.8,117.0 502.8,117.1 503.8,117.4 504.7,117.6 505.7,118.0 506.6,118.3 507.6,118.7 508.6,119.0 509.5,119.3 510.5,119.6 511.5,119.7 512.4,119.8 513.4,119.7 514.3,119.5 515.3,119.2 516.3,118.8 517.2,118.2 518.2,117.6 519.1,116.9 520.1,116.2 521.1,115.4 522.0,114.7 523.0,114.1 524.0,113.5 524.9,113.0 525.9,112.7 526.8,112.5 527.8,112.4 528.8,112.5 529.7,112.6 530.7,112.9 531.6,113.2 532.6,113.6 533.6,114.1 534.5,114.7 535.5,115.2 536.5,115.8 537.4,116.4 538.4,117.1 539.3,117.7 540.3,118.3 541.3,118.8 542.2,119.3 543.2,119.8 544.2,120.2 545.1,120.5 546.1,120.7 547.0,120.9 548.0,120.9 549.0,120.8 549.9,120.6 550.9,120.3 551.8,119.9 552.8,119.4 553.8,118.8 554.7,118.2 555.7,117.6 556.7,117.0 557.6,116.4 558.6,115.8 559.5,115.3 560.5,114.9 561.5,114.2 562.5,113.7 563.5,113.3 564.5,113.0 565.5,112.8 566.5,112.8 567.5,112.8 568.5,112.9 569.5,113.1 570.4,113.4 571.4,113.8 572.4,114.2 573.4,114.7 574.4,115.2 575.4,115.8 576.4,116.4 577.4,117.1 578.4,117.8 579.4,118.5 580.4,119.2 581.4,119.9 582.4,120.6 583.4,121.3 584.4,122.0 585.4,122.7 586.4,123.3 587.4,123.9 588.4,124.5 589.4,125.0 590.3,125.6 591.3,126.1 592.3,126.6 593.3,127.0 594.3,127.4 595.3,127.7 596.3,128.0 597.3,128.3 598.3,128.5 599.3,128.7 600.3,128.8 601.3,128.9 602.3,129.0 603.3,129.1 604.3,129.1 605.3,129.1 606.3,129.0 607.3,129.0 608.3,128.9 609.2,128.8 610.2,128.7 611.2,128.6 612.2,128.5 613.2,128.4 614.2,128.2 615.2,128.0 616.2,127.9 617.2,127.7 618.2,127.6 619.2,127.5 620.2,127.4 621.2,127.3 622.2,127.2 623.2,127.1 624.2,127.0 625.2,126.9 626.2,126.8 627.2,126.7 628.1,126.6 629.1,126.6 630.1,126.5 631.1,126.4 632.1,126.3 633.1,126.2 634.1,126.1 635.1,126.1 636.1,126.0 637.1,125.9 638.1,125.8 639.1,125.8 640.1,125.7 641.1,125.6 642.1,125.5 643.1,125.5 644.1,125.4 645.1,125.3 646.1,125.3 647.0,125.2 648.0,125.1 649.0,125.1 650.0,125.0 651.0,124.9 652.0,124.9 653.0,124.8 654.0,124.8 655.0,124.7 656.0,124.6 657.0,124.6 658.0,124.5 659.0,124.5 660.0,124.4 661.0,124.3 662.0,124.3 663.0,124.2 664.0,124.2 665.0,124.1 666.0,124.1 666.9,124.0 667.9,123.9 668.9,123.9 669.9,123.8 670.9,123.8 671.9,123.7 672.9,123.7 673.9,123.6 674.9,123.6 675.9,123.5" fill="none" stroke="#b0b0b0" stroke-width="1.05" stroke-linejoin="round"/>
<polyline points="445.7,137.4 446.5,134.1 447.4,131.1 448.2,129.0 448.9,127.6 449.7,126.9 450.5,126.9 451.3,126.8 452.0,125.5 452.8,122.5 453.6,119.2 454.3,117.6 455.1,118.8 455.9,121.8 456.6,124.9 457.6,126.9 458.6,127.4 459.5,127.4 460.5,127.9 461.4,129.2 462.4,131.5 463.4,134.6 464.3,137.7 465.3,139.4 466.3,139.1 467.2,137.6 468.2,136.6 469.1,136.9 470.1,137.5 471.1,136.7 472.0,133.6 473.0,129.1 473.9,124.8 474.9,122.1 475.9,120.7 476.8,120.4 477.8,120.6 478.8,120.9 479.7,120.9 480.7,120.4 481.6,119.4 482.6,118.0 483.6,116.6 484.5,115.4 485.5,114.4 486.5,114.0 487.4,113.9 488.4,114.1 489.3,114.5 490.3,114.8 491.3,115.1 492.2,115.1 493.2,114.9 494.1,114.6 495.1,114.3 496.1,114.1 497.0,113.9 498.0,114.0 499.0,114.2 499.9,114.5 500.9,114.9 501.8,115.3 502.8,115.7 503.8,116.0 504.7,116.3 505.7,116.5 506.6,116.6 507.6,116.7 508.6,116.6 509.5,116.5 510.5,116.3 511.5,116.0 512.4,115.7 513.4,115.2 514.3,114.7 515.3,114.1 516.3,113.4 517.2,112.6 518.2,111.9 519.1,111.1 520.1,110.4 521.1,109.8 522.0,109.2 523.0,108.8 524.0,108.5 524.9,108.3 525.9,108.4 526.8,108.7 527.8,109.2 528.8,109.8 529.7,110.6 530.7,111.4 531.6,112.3 532.6,113.3 533.6,114.2 534.5,115.2 535.5,116.0 536.5,116.8 537.4,117.4 538.4,117.9 539.3,118.3 540.3,118.6 541.3,118.7 542.2,118.9 543.2,119.0 544.2,119.0 545.1,119.1 546.1,119.3 547.0,119.4 548.0,119.7 549.0,120.1 549.9,120.6 550.9,121.3 551.8,122.0 552.8,122.8 553.8,123.7 554.7,124.6 555.7,125.5 556.7,126.4 557.6,127.3 558.6,128.1 559.5,128.8 560.5,129.5 561.5,130.5 562.5,131.2 563.5,131.9 564.5,132.4 565.5,132.7 566.5,133.0 567.5,133.1 568.5,133.1 569.5,133.0 570.4,132.8 571.4,132.6 572.4,132.3 573.4,131.9 574.4,131.4 575.4,130.9 576.4,130.4 577.4,129.8 578.4,129.2 579.4,128.6 580.4,128.0 581.4,127.3 582.4,126.7 583.4,126.1 584.4,125.5 585.4,125.0 586.4,124.4 587.4,124.0 588.4,123.6 589.4,123.2 590.3,122.8 591.3,122.4 592.3,122.1 593.3,121.9 594.3,121.7 595.3,121.6 596.3,121.6 597.3,121.5 598.3,121.6 599.3,121.6 600.3,121.8 601.3,121.9 602.3,122.1 603.3,122.3 604.3,122.5 605.3,122.8 606.3,123.1 607.3,123.4 608.3,123.7 609.2,124.0 610.2,124.4 611.2,124.7 612.2,125.1 613.2,125.4 614.2,125.7 615.2,126.1 616.2,126.4 617.2,126.7 618.2,127.0 619.2,127.4 620.2,127.8 621.2,128.2 622.2,128.5 623.2,128.9 624.2,129.2 625.2,129.5 626.2,129.7 627.2,130.0 628.1,130.2 629.1,130.4 630.1,130.6 631.1,130.7 632.1,130.9 633.1,131.0 634.1,131.1 635.1,131.2 636.1,131.3 637.1,131.3 638.1,131.4 639.1,131.4 640.1,131.4 641.1,131.4 642.1,131.3 643.1,131.3 644.1,131.2 645.1,131.2 646.1,131.1 647.0,131.0 648.0,130.9 649.0,130.8 650.0,130.6 651.0,130.5 652.0,130.3 653.0,130.2 654.0,130.0 655.0,129.8 656.0,129.6 657.0,129.4 658.0,129.2 659.0,129.0 660.0,128.8 661.0,128.5 662.0,128.3 663.0,128.0 664.0,127.8 665.0,127.5 666.0,127.3 666.9,127.0 667.9,126.7 668.9,126.5 669.9,126.2 670.9,125.9 671.9,125.6 672.9,125.4 673.9,125.1 674.9,124.8 675.9,124.5" fill="none" stroke="#909090" stroke-width="1.05" stroke-linejoin="round"/>
<polyline points="445.7,108.8 446.5,116.5 447.4,117.9 448.2,110.6 448.9,100.9 449.7,96.6 450.5,102.8 451.3,114.3 452.0,123.3 452.8,124.2 453.6,119.3 454.3,113.3 455.1,109.8 455.9,109.2 456.6,110.8 457.6,114.5 458.6,117.5 459.5,116.7 460.5,110.4 461.4,102.4 462.4,98.3 463.4,101.7 464.3,109.3 465.3,116.1 466.3,118.5 467.2,117.7 468.2,116.6 469.1,117.1 470.1,118.6 471.1,119.8 472.0,119.5 473.0,118.4 473.9,117.3 474.9,116.6 475.9,116.6 476.8,117.0 477.8,117.7 478.8,118.5 479.7,119.3 480.7,120.1 481.6,120.7 482.6,121.2 483.6,121.7 484.5,122.1 485.5,122.6 486.5,123.0 487.4,123.5 488.4,124.1 489.3,124.7 490.3,125.5 491.3,126.4 492.2,127.4 493.2,128.6 494.1,129.8 495.1,131.0 496.1,132.2 497.0,133.3 498.0,134.4 499.0,135.3 499.9,136.1 500.9,136.8 501.8,137.4 502.8,138.0 503.8,138.5 504.7,139.0 505.7,139.4 506.6,139.8 507.6,140.2 508.6,140.6 509.5,141.0 510.5,141.5 511.5,141.9 512.4,142.4 513.4,143.0 514.3,143.6 515.3,144.3 516.3,145.0 517.2,145.8 518.2,146.7 519.1,147.5 520.1,148.4 521.1,149.2 522.0,150.1 523.0,150.8 524.0,151.6 524.9,152.2 525.9,152.8 526.8,153.2 527.8,153.6 528.8,153.8 529.7,154.0 530.7,154.0 531.6,154.0 532.6,153.8 533.6,153.5 534.5,153.1 535.5,152.6 536.5,152.0 537.4,151.3 538.4,150.4 539.3,149.5 540.3,148.5 541.3,147.5 542.2,146.5 543.2,145.5 544.2,144.5 545.1,143.7 546.1,143.0 547.0,142.3 548.0,141.9 549.0,141.7 549.9,141.7 550.9,141.8 551.8,142.2 552.8,142.6 553.8,143.2 554.7,143.9 555.7,144.6 556.7,145.3 557.6,146.0 558.6,146.7 559.5,147.3 560.5,147.8 561.5,148.6 562.5,149.2 563.5,149.6 564.5,149.9 565.5,150.0 566.5,150.0 567.5,149.8 568.5,149.5 569.5,149.1 570.4,148.6 571.4,147.9 572.4,147.2 573.4,146.5 574.4,145.6 575.4,144.7 576.4,143.8 577.4,142.8 578.4,141.7 579.4,140.7 580.4,139.7 581.4,138.6 582.4,137.6 583.4,136.6 584.4,135.6 585.4,134.7 586.4,133.8 587.4,133.0 588.4,132.3 589.4,131.6 590.3,130.8 591.3,130.1 592.3,129.5 593.3,128.9 594.3,128.5 595.3,128.1 596.3,127.8 597.3,127.5 598.3,127.3 599.3,127.2 600.3,127.1 601.3,127.0 602.3,127.1 603.3,127.1 604.3,127.2 605.3,127.3 606.3,127.5 607.3,127.7 608.3,127.9 609.2,128.1 610.2,128.4 611.2,128.7 612.2,128.9 613.2,129.2 614.2,129.5 615.2,129.8 616.2,130.0 617.2,130.3 618.2,130.5 619.2,130.9 620.2,131.2 621.2,131.5 622.2,131.7 623.2,132.0 624.2,132.2 625.2,132.4 626.2,132.6 627.2,132.7 628.1,132.9 629.1,133.0 630.1,133.1 631.1,133.2 632.1,133.3 633.1,133.4 634.1,133.4 635.1,133.4 636.1,133.5 637.1,133.5 638.1,133.5 639.1,133.4 640.1,133.4 641.1,133.3 642.1,133.3 643.1,133.2 644.1,133.1 645.1,133.0 646.1,132.9 647.0,132.8 648.0,132.6 649.0,132.5 650.0,132.3 651.0,132.2 652.0,132.0 653.0,131.8 654.0,131.6 655.0,131.4 656.0,131.2 657.0,131.0 658.0,130.8 659.0,130.5 660.0,130.3 661.0,130.1 662.0,129.8 663.0,129.6 664.0,129.3 665.0,129.1 666.0,128.8 666.9,128.5 667.9,128.2 668.9,128.0 669.9,127.7 670.9,127.4 671.9,127.1 672.9,126.9 673.9,126.6 674.9,126.3 675.9,126.0" fill="none" stroke="#5e5e5e" stroke-width="1.05" stroke-linejoin="round"/>
<polyline points="445.7,93.3 446.5,97.2 447.4,99.1 448.2,98.4 448.9,96.7 449.7,96.4 450.5,98.7 451.3,102.0 452.0,103.8 452.8,102.5 453.6,100.2 454.3,100.0 455.1,103.9 455.9,109.7 456.6,114.5 457.6,115.8 458.6,113.1 459.5,108.9 460.5,105.1 461.4,102.6 462.4,101.4 463.4,101.6 464.3,102.1 465.3,101.6 466.3,99.3 467.2,96.5 468.2,95.1 469.1,96.4 470.1,99.0 471.1,101.2 472.0,101.3 473.0,100.2 473.9,99.1 474.9,99.2 475.9,100.2 476.8,101.8 477.8,103.6 478.8,105.2 479.7,106.2 480.7,106.4 481.6,105.8 482.6,104.9 483.6,104.0 484.5,103.4 485.5,103.5 486.5,104.3 487.4,105.8 488.4,107.7 489.3,109.5 490.3,111.1 491.3,112.0 492.2,112.1 493.2,111.5 494.1,110.6 495.1,109.4 496.1,108.3 497.0,107.5 498.0,107.3 499.0,107.5 499.9,108.1 500.9,109.0 501.8,110.0 502.8,111.2 503.8,112.3 504.7,113.5 505.7,114.6 506.6,115.7 507.6,116.8 508.6,117.8 509.5,118.7 510.5,119.5 511.5,120.2 512.4,120.8 513.4,121.2 514.3,121.5 515.3,121.7 516.3,121.7 517.2,121.7 518.2,121.5 519.1,121.3 520.1,121.0 521.1,120.7 522.0,120.4 523.0,120.2 524.0,120.0 524.9,119.9 525.9,119.9 526.8,120.1 527.8,120.3 528.8,120.6 529.7,121.1 530.7,121.5 531.6,122.1 532.6,122.6 533.6,123.1 534.5,123.7 535.5,124.2 536.5,124.7 537.4,125.1 538.4,125.4 539.3,125.7 540.3,125.9 541.3,126.1 542.2,126.2 543.2,126.3 544.2,126.4 545.1,126.6 546.1,126.7 547.0,126.8 548.0,127.0 549.0,127.3 549.9,127.6 550.9,128.0 551.8,128.4 552.8,128.8 553.8,129.3 554.7,129.8 555.7,130.3 556.7,130.8 557.6,131.2 558.6,131.7 559.5,132.1 560.5,132.5 561.5,133.0 562.5,133.4 563.5,133.8 564.5,134.1 565.5,134.3 566.5,134.5 567.5,134.6 568.5,134.6 569.5,134.6 570.4,134.6 571.4,134.5 572.4,134.4 573.4,134.2 574.4,134.0 575.4,133.8 576.4,133.6 577.4,133.3 578.4,133.1 579.4,132.8 580.4,132.5 581.4,132.2 582.4,131.9 583.4,131.7 584.4,131.4 585.4,131.1 586.4,130.9 587.4,130.7 588.4,130.5 589.4,130.3 590.3,130.1 591.3,130.0 592.3,129.8 593.3,129.7 594.3,129.7 595.3,129.6 596.3,129.6 597.3,129.6 598.3,129.6 599.3,129.6 600.3,129.7 601.3,129.7 602.3,129.8 603.3,129.9 604.3,130.0 605.3,130.1 606.3,130.2 607.3,130.4 608.3,130.5 609.2,130.6 610.2,130.8 611.2,130.9 612.2,131.0 613.2,131.2 614.2,131.3 615.2,131.4 616.2,131.6 617.2,131.7 618.2,131.8 619.2,132.0 620.2,132.1 621.2,132.3 622.2,132.4 623.2,132.6 624.2,132.7 625.2,132.8 626.2,132.9 627.2,133.0 628.1,133.1 629.1,133.1 630.1,133.2 631.1,133.2 632.1,133.3 633.1,133.3 634.1,133.3 635.1,133.3 636.1,133.3 637.1,133.3 638.1,133.2 639.1,133.2 640.1,133.1 641.1,133.1 642.1,133.0 643.1,133.0 644.1,132.9 645.1,132.8 646.1,132.7 647.0,132.6 648.0,132.5 649.0,132.4 650.0,132.2 651.0,132.1 652.0,132.0 653.0,131.8 654.0,131.7 655.0,131.5 656.0,131.4 657.0,131.2 658.0,131.0 659.0,130.9 660.0,130.7 661.0,130.5 662.0,130.3 663.0,130.1 664.0,129.9 665.0,129.7 666.0,129.6 666.9,129.4 667.9,129.2 668.9,129.0 669.9,128.7 670.9,128.5 671.9,128.3 672.9,128.1 673.9,127.9 674.9,127.7 675.9,127.5" fill="none" stroke="#b0b0b0" stroke-width="1.05" stroke-linejoin="round"/>
<polyline points="445.7,148.6 446.5,149.3 447.4,149.8 448.2,149.8 448.9,149.2 449.7,147.8 450.5,145.4 451.3,143.0 452.0,141.8 452.8,142.3 453.6,143.5 454.3,143.9 455.1,142.4 455.9,140.0 456.6,137.8 457.6,137.0 458.6,137.2 459.5,136.7 460.5,134.6 461.4,131.7 462.4,129.5 463.4,129.1 464.3,129.5 465.3,129.3 466.3,127.5 467.2,125.5 468.2,124.9 469.1,126.9 470.1,130.5 471.1,133.8 472.0,135.7 473.0,136.3 473.9,136.3 474.9,136.2 475.9,136.0 476.8,135.8 477.8,135.4 478.8,134.9 479.7,134.1 480.7,133.2 481.6,132.1 482.6,131.0 483.6,130.0 484.5,129.2 485.5,128.7 486.5,128.7 487.4,128.9 488.4,129.3 489.3,129.8 490.3,130.1 491.3,130.1 492.2,129.8 493.2,129.1 494.1,128.3 495.1,127.4 496.1,126.5 497.0,125.7 498.0,125.2 499.0,124.9 499.9,124.7 500.9,124.7 501.8,124.6 502.8,124.6 503.8,124.6 504.7,124.5 505.7,124.4 506.6,124.3 507.6,124.1 508.6,123.9 509.5,123.7 510.5,123.5 511.5,123.3 512.4,123.0 513.4,122.7 514.3,122.5 515.3,122.2 516.3,122.0 517.2,121.7 518.2,121.4 519.1,121.2 520.1,121.0 521.1,120.8 522.0,120.6 523.0,120.4 524.0,120.3 524.9,120.2 525.9,120.1 526.8,120.0 527.8,120.0 528.8,120.0 529.7,120.1 530.7,120.2 531.6,120.3 532.6,120.4 533.6,120.6 534.5,120.8 535.5,121.0 536.5,121.3 537.4,121.6 538.4,121.9 539.3,122.2 540.3,122.5 541.3,122.9 542.2,123.2 543.2,123.5 544.2,123.7 545.1,123.9 546.1,124.1 547.0,124.2 548.0,124.2 549.0,124.1 549.9,123.9 550.9,123.6 551.8,123.2 552.8,122.8 553.8,122.3 554.7,121.9 555.7,121.3 556.7,120.8 557.6,120.3 558.6,119.8 559.5,119.3 560.5,118.9 561.5,118.3 562.5,117.8 563.5,117.4 564.5,117.1 565.5,116.8 566.5,116.6 567.5,116.5 568.5,116.5 569.5,116.5 570.4,116.6 571.4,116.7 572.4,116.9 573.4,117.1 574.4,117.3 575.4,117.6 576.4,118.0 577.4,118.3 578.4,118.7 579.4,119.1 580.4,119.5 581.4,119.9 582.4,120.4 583.4,120.8 584.4,121.2 585.4,121.7 586.4,122.1 587.4,122.5 588.4,122.9 589.4,123.3 590.3,123.6 591.3,124.0 592.3,124.3 593.3,124.6 594.3,124.8 595.3,125.1 596.3,125.3 597.3,125.5 598.3,125.7 599.3,125.9 600.3,126.0 601.3,126.2 602.3,126.3 603.3,126.4 604.3,126.5 605.3,126.6 606.3,126.6 607.3,126.7 608.3,126.8 609.2,126.8 610.2,126.8 611.2,126.9 612.2,126.9 613.2,126.9 614.2,126.9 615.2,127.0 616.2,127.0 617.2,127.0 618.2,127.0 619.2,127.0 620.2,127.1 621.2,127.1 622.2,127.2 623.2,127.2 624.2,127.2 625.2,127.3 626.2,127.3 627.2,127.4 628.1,127.4 629.1,127.5 630.1,127.5 631.1,127.6 632.1,127.6 633.1,127.7 634.1,127.7 635.1,127.8 636.1,127.8 637.1,127.9 638.1,127.9 639.1,128.0 640.1,128.0 641.1,128.1 642.1,128.1 643.1,128.2 644.1,128.2 645.1,128.3 646.1,128.3 647.0,128.4 648.0,128.4 649.0,128.5 650.0,128.5 651.0,128.6 652.0,128.6 653.0,128.7 654.0,128.8 655.0,128.8 656.0,128.9 657.0,128.9 658.0,129.0 659.0,129.0 660.0,129.1 661.0,129.1 662.0,129.2 663.0,129.3 664.0,129.3 665.0,129.4 666.0,129.4 666.9,129.5 667.9,129.5 668.9,129.6 669.9,129.7 670.9,129.7 671.9,129.8 672.9,129.8 673.9,129.9 674.9,129.9 675.9,130.0" fill="none" stroke="#909090" stroke-width="1.05" stroke-linejoin="round"/>
<polyline points="445.7,148.0 446.5,143.9 447.4,142.5 448.2,145.1 448.9,149.6 449.7,153.6 450.5,155.1 451.3,154.8 452.0,153.7 452.8,152.8 453.6,152.1 454.3,151.7 455.1,151.5 455.9,151.8 456.6,152.8 457.6,155.2 458.6,157.5 459.5,157.9 460.5,155.3 461.4,151.6 462.4,149.1 463.4,149.7 464.3,151.8 465.3,153.2 466.3,152.2 467.2,150.4 468.2,149.7 469.1,151.8 470.1,155.4 471.1,158.7 472.0,160.3 473.0,160.5 473.9,159.9 474.9,159.1 475.9,158.3 476.8,157.4 477.8,156.5 478.8,155.4 479.7,154.3 480.7,153.2 481.6,151.9 482.6,150.7 483.6,149.4 484.5,148.1 485.5,146.8 486.5,145.6 487.4,144.4 488.4,143.3 489.3,142.4 490.3,141.6 491.3,141.1 492.2,140.7 493.2,140.5 494.1,140.3 495.1,140.2 496.1,140.0 497.0,139.7 498.0,139.3 499.0,138.6 499.9,137.9 500.9,137.2 501.8,136.5 502.8,135.9 503.8,135.4 504.7,135.1 505.7,134.9 506.6,134.8 507.6,134.8 508.6,134.9 509.5,135.0 510.5,135.2 511.5,135.5 512.4,135.8 513.4,136.1 514.3,136.4 515.3,136.8 516.3,137.1 517.2,137.4 518.2,137.8 519.1,138.1 520.1,138.5 521.1,138.9 522.0,139.3 523.0,139.8 524.0,140.2 524.9,140.7 525.9,141.3 526.8,141.9 527.8,142.5 528.8,143.1 529.7,143.7 530.7,144.4 531.6,145.0 532.6,145.5 533.6,146.0 534.5,146.5 535.5,146.9 536.5,147.2 537.4,147.4 538.4,147.5 539.3,147.4 540.3,147.3 541.3,147.2 542.2,146.9 543.2,146.7 544.2,146.4 545.1,146.0 546.1,145.7 547.0,145.4 548.0,145.1 549.0,144.9 549.9,144.7 550.9,144.5 551.8,144.4 552.8,144.3 553.8,144.3 554.7,144.2 555.7,144.2 556.7,144.3 557.6,144.3 558.6,144.3 559.5,144.3 560.5,144.4 561.5,144.4 562.5,144.4 563.5,144.5 564.5,144.5 565.5,144.4 566.5,144.4 567.5,144.4 568.5,144.3 569.5,144.3 570.4,144.2 571.4,144.1 572.4,144.0 573.4,143.9 574.4,143.8 575.4,143.7 576.4,143.6 577.4,143.5 578.4,143.4 579.4,143.3 580.4,143.1 581.4,143.0 582.4,142.9 583.4,142.8 584.4,142.6 585.4,142.5 586.4,142.4 587.4,142.3 588.4,142.2 589.4,142.1 590.3,142.0 591.3,141.9 592.3,141.8 593.3,141.7 594.3,141.6 595.3,141.5 596.3,141.5 597.3,141.4 598.3,141.3 599.3,141.3 600.3,141.2 601.3,141.1 602.3,141.1 603.3,141.0 604.3,141.0 605.3,140.9 606.3,140.9 607.3,140.8 608.3,140.7 609.2,140.7 610.2,140.6 611.2,140.6 612.2,140.5 613.2,140.5 614.2,140.4 615.2,140.3 616.2,140.3 617.2,140.2 618.2,140.1 619.2,140.1 620.2,140.1 621.2,140.0 622.2,140.0 623.2,139.9 624.2,139.9 625.2,139.8 626.2,139.7 627.2,139.7 628.1,139.6 629.1,139.5 630.1,139.4 631.1,139.3 632.1,139.3 633.1,139.2 634.1,139.1 635.1,139.0 636.1,138.9 637.1,138.8 638.1,138.7 639.1,138.5 640.1,138.4 641.1,138.3 642.1,138.2 643.1,138.1 644.1,137.9 645.1,137.8 646.1,137.7 647.0,137.5 648.0,137.4 649.0,137.3 650.0,137.1 651.0,137.0 652.0,136.8 653.0,136.7 654.0,136.6 655.0,136.4 656.0,136.3 657.0,136.1 658.0,135.9 659.0,135.8 660.0,135.6 661.0,135.5 662.0,135.3 663.0,135.2 664.0,135.0 665.0,134.8 666.0,134.7 666.9,134.5 667.9,134.3 668.9,134.2 669.9,134.0 670.9,133.8 671.9,133.7 672.9,133.5 673.9,133.3 674.9,133.2 675.9,133.0" fill="none" stroke="#4a4a4a" stroke-width="1.05" stroke-linejoin="round"/>
<polyline points="445.7,124.5 446.5,128.7 447.4,131.3 448.2,131.2 448.9,129.8 449.7,128.1 450.5,127.4 451.3,127.8 452.0,129.4 452.8,132.1 453.6,135.5 454.3,138.8 455.1,141.5 455.9,143.0 456.6,142.8 457.6,139.9 458.6,135.8 459.5,132.6 460.5,131.7 461.4,132.1 462.4,131.7 463.4,129.6 464.3,126.8 465.3,125.4 466.3,126.6 467.2,129.2 468.2,131.1 469.1,131.1 470.1,130.0 471.1,129.5 472.0,130.5 473.0,132.4 473.9,134.3 474.9,135.3 475.9,135.4 476.8,134.6 477.8,133.3 478.8,131.4 479.7,129.3 480.7,127.0 481.6,124.8 482.6,122.7 483.6,121.0 484.5,119.7 485.5,119.1 486.5,119.3 487.4,120.0 488.4,121.1 489.3,122.4 490.3,123.6 491.3,124.6 492.2,125.1 493.2,125.3 494.1,125.2 495.1,125.1 496.1,125.1 497.0,125.2 498.0,125.5 499.0,126.1 499.9,126.8 500.9,127.5 501.8,128.1 502.8,128.5 503.8,128.5 504.7,128.3 505.7,127.9 506.6,127.3 507.6,126.5 508.6,125.7 509.5,124.8 510.5,123.9 511.5,123.0 512.4,122.2 513.4,121.6 514.3,121.1 515.3,120.9 516.3,120.8 517.2,120.9 518.2,121.1 519.1,121.5 520.1,121.9 521.1,122.3 522.0,122.8 523.0,123.2 524.0,123.6 524.9,124.0 525.9,124.2 526.8,124.3 527.8,124.2 528.8,124.1 529.7,123.8 530.7,123.5 531.6,123.1 532.6,122.7 533.6,122.3 534.5,121.8 535.5,121.3 536.5,120.8 537.4,120.3 538.4,119.9 539.3,119.6 540.3,119.2 541.3,118.9 542.2,118.7 543.2,118.5 544.2,118.3 545.1,118.2 546.1,118.1 547.0,118.1 548.0,118.2 549.0,118.2 549.9,118.4 550.9,118.5 551.8,118.8 552.8,119.0 553.8,119.3 554.7,119.6 555.7,119.9 556.7,120.2 557.6,120.5 558.6,120.9 559.5,121.2 560.5,121.5 561.5,121.9 562.5,122.3 563.5,122.7 564.5,123.0 565.5,123.3 566.5,123.6 567.5,123.9 568.5,124.1 569.5,124.3 570.4,124.5 571.4,124.7 572.4,124.9 573.4,125.0 574.4,125.1 575.4,125.2 576.4,125.3 577.4,125.3 578.4,125.4 579.4,125.4 580.4,125.4 581.4,125.3 582.4,125.3 583.4,125.2 584.4,125.1 585.4,125.0 586.4,124.9 587.4,124.8 588.4,124.6 589.4,124.4 590.3,124.4 591.3,124.3 592.3,124.2 593.3,124.1 594.3,123.9 595.3,123.8 596.3,123.7 597.3,123.5 598.3,123.3 599.3,123.1 600.3,122.9 601.3,122.7 602.3,122.5 603.3,122.3 604.3,122.1 605.3,121.8 606.3,121.6 607.3,121.3 608.3,121.1 609.2,120.8 610.2,120.6 611.2,120.3 612.2,120.1 613.2,119.8 614.2,119.6 615.2,119.3 616.2,119.1 617.2,118.8 618.2,118.6 619.2,118.3 620.2,118.0 621.2,117.8 622.2,117.5 623.2,117.3 624.2,117.0 625.2,116.8 626.2,116.5 627.2,116.3 628.1,116.1 629.1,115.8 630.1,115.6 631.1,115.4 632.1,115.2 633.1,115.0 634.1,114.8 635.1,114.6 636.1,114.4 637.1,114.2 638.1,114.1 639.1,113.9 640.1,113.7 641.1,113.5 642.1,113.4 643.1,113.2 644.1,113.0 645.1,112.9 646.1,112.7 647.0,112.6 648.0,112.4 649.0,112.3 650.0,112.1 651.0,112.0 652.0,111.8 653.0,111.7 654.0,111.6 655.0,111.4 656.0,111.3 657.0,111.2 658.0,111.1 659.0,110.9 660.0,110.8 661.0,110.7 662.0,110.6 663.0,110.5 664.0,110.3 665.0,110.2 666.0,110.1 666.9,110.0 667.9,109.9 668.9,109.8 669.9,109.7 670.9,109.5 671.9,109.4 672.9,109.3 673.9,109.2 674.9,109.1 675.9,109.0" fill="none" stroke="#a0a0a0" stroke-width="1.05" stroke-linejoin="round"/>
<polyline points="445.7,101.9 446.5,104.1 447.4,105.5 448.2,105.6 448.9,104.8 449.7,104.0 450.5,103.5 451.3,103.2 452.0,102.7 452.8,101.7 453.6,100.4 454.3,99.0 455.1,97.8 455.9,97.1 456.6,97.5 457.6,99.6 458.6,102.2 459.5,103.5 460.5,102.2 461.4,99.9 462.4,98.5 463.4,99.4 464.3,101.1 465.3,101.5 466.3,99.1 467.2,95.5 468.2,92.7 469.1,92.5 470.1,93.4 471.1,93.3 472.0,91.0 473.0,87.4 473.9,84.2 474.9,82.8 475.9,83.0 476.8,84.4 477.8,86.6 478.8,89.1 479.7,91.5 480.7,93.4 481.6,94.7 482.6,95.7 483.6,96.3 484.5,96.6 485.5,96.8 486.5,96.7 487.4,96.7 488.4,96.7 489.3,96.9 490.3,97.4 491.3,98.2 492.2,99.5 493.2,101.2 494.1,102.9 495.1,104.5 496.1,105.8 497.0,106.6 498.0,106.8 499.0,106.5 499.9,105.8 500.9,105.0 501.8,104.0 502.8,103.3 503.8,102.7 504.7,102.4 505.7,102.4 506.6,102.5 507.6,102.7 508.6,103.1 509.5,103.5 510.5,103.9 511.5,104.3 512.4,104.7 513.4,105.0 514.3,105.1 515.3,105.1 516.3,105.0 517.2,104.7 518.2,104.4 519.1,104.0 520.1,103.6 521.1,103.2 522.0,102.8 523.0,102.4 524.0,102.2 524.9,102.0 525.9,102.0 526.8,102.2 527.8,102.4 528.8,102.8 529.7,103.3 530.7,103.8 531.6,104.4 532.6,104.9 533.6,105.4 534.5,105.9 535.5,106.3 536.5,106.6 537.4,106.8 538.4,106.8 539.3,106.7 540.3,106.5 541.3,106.2 542.2,105.9 543.2,105.5 544.2,105.1 545.1,104.8 546.1,104.5 547.0,104.3 548.0,104.2 549.0,104.2 549.9,104.4 550.9,104.7 551.8,105.2 552.8,105.7 553.8,106.3 554.7,107.0 555.7,107.7 556.7,108.5 557.6,109.3 558.6,110.0 559.5,110.7 560.5,111.4 561.5,112.2 562.5,113.0 563.5,113.6 564.5,114.2 565.5,114.7 566.5,115.1 567.5,115.4 568.5,115.6 569.5,115.8 570.4,115.9 571.4,116.0 572.4,115.9 573.4,115.9 574.4,115.8 575.4,115.7 576.4,115.5 577.4,115.3 578.4,115.0 579.4,114.8 580.4,114.5 581.4,114.2 582.4,114.0 583.4,113.7 584.4,113.4 585.4,113.1 586.4,112.9 587.4,112.6 588.4,112.4 589.4,112.2 590.3,112.0 591.3,111.9 592.3,111.8 593.3,111.7 594.3,111.6 595.3,111.6 596.3,111.6 597.3,111.6 598.3,111.6 599.3,111.7 600.3,111.8 601.3,111.8 602.3,111.9 603.3,112.1 604.3,112.2 605.3,112.3 606.3,112.5 607.3,112.6 608.3,112.8 609.2,112.9 610.2,113.1 611.2,113.3 612.2,113.4 613.2,113.6 614.2,113.8 615.2,113.9 616.2,114.1 617.2,114.2 618.2,114.4 619.2,114.6 620.2,114.8 621.2,115.0 622.2,115.2 623.2,115.3 624.2,115.5 625.2,115.6 626.2,115.8 627.2,115.9 628.1,116.0 629.1,116.1 630.1,116.2 631.1,116.3 632.1,116.3 633.1,116.4 634.1,116.4 635.1,116.5 636.1,116.5 637.1,116.5 638.1,116.6 639.1,116.6 640.1,116.6 641.1,116.5 642.1,116.5 643.1,116.5 644.1,116.5 645.1,116.4 646.1,116.4 647.0,116.3 648.0,116.3 649.0,116.2 650.0,116.2 651.0,116.1 652.0,116.0 653.0,115.9 654.0,115.8 655.0,115.7 656.0,115.6 657.0,115.5 658.0,115.4 659.0,115.3 660.0,115.2 661.0,115.1 662.0,114.9 663.0,114.8 664.0,114.7 665.0,114.6 666.0,114.4 666.9,114.3 667.9,114.1 668.9,114.0 669.9,113.9 670.9,113.7 671.9,113.6 672.9,113.4 673.9,113.3 674.9,113.1 675.9,113.0" fill="none" stroke="#5e5e5e" stroke-width="1.05" stroke-linejoin="round"/>
<polyline points="445.7,116.1 446.5,120.4 447.4,123.0 448.2,123.0 448.9,121.9 449.7,121.0 450.5,121.2 451.3,120.9 452.0,118.5 452.8,112.6 453.6,105.6 454.3,100.5 455.1,99.5 455.9,101.2 456.6,103.0 457.6,103.0 458.6,101.3 459.5,99.6 460.5,99.4 461.4,101.0 462.4,104.3 463.4,108.9 464.3,113.5 465.3,116.4 466.3,116.6 467.2,115.0 468.2,113.2 469.1,112.5 470.1,112.6 471.1,113.2 472.0,113.9 473.0,114.5 473.9,115.1 474.9,115.5 475.9,115.9 476.8,116.2 477.8,116.4 478.8,116.5 479.7,116.6 480.7,116.7 481.6,116.7 482.6,116.6 483.6,116.6 484.5,116.5 485.5,116.5 486.5,116.4 487.4,116.3 488.4,116.1 489.3,115.8 490.3,115.3 491.3,114.6 492.2,113.7 493.2,112.7 494.1,111.6 495.1,110.7 496.1,110.2 497.0,110.0 498.0,110.4 499.0,111.1 499.9,112.1 500.9,113.2 501.8,114.2 502.8,115.0 503.8,115.3 504.7,115.3 505.7,115.0 506.6,114.4 507.6,113.7 508.6,112.7 509.5,111.6 510.5,110.5 511.5,109.4 512.4,108.2 513.4,107.2 514.3,106.3 515.3,105.6 516.3,105.1 517.2,104.7 518.2,104.5 519.1,104.4 520.1,104.4 521.1,104.5 522.0,104.7 523.0,105.0 524.0,105.3 524.9,105.7 525.9,106.2 526.8,106.6 527.8,107.1 528.8,107.6 529.7,108.1 530.7,108.5 531.6,109.0 532.6,109.5 533.6,110.0 534.5,110.5 535.5,110.9 536.5,111.4 537.4,111.8 538.4,112.1 539.3,112.5 540.3,112.8 541.3,113.1 542.2,113.5 543.2,113.8 544.2,114.1 545.1,114.4 546.1,114.8 547.0,115.2 548.0,115.6 549.0,116.0 549.9,116.5 550.9,117.0 551.8,117.6 552.8,118.2 553.8,118.8 554.7,119.4 555.7,120.0 556.7,120.5 557.6,121.1 558.6,121.6 559.5,122.1 560.5,122.6 561.5,123.2 562.5,123.7 563.5,124.2 564.5,124.6 565.5,124.9 566.5,125.2 567.5,125.4 568.5,125.6 569.5,125.7 570.4,125.8 571.4,125.9 572.4,125.9 573.4,125.9 574.4,125.8 575.4,125.8 576.4,125.7 577.4,125.6 578.4,125.5 579.4,125.4 580.4,125.3 581.4,125.2 582.4,125.0 583.4,124.9 584.4,124.8 585.4,124.8 586.4,124.7 587.4,124.6 588.4,124.6 589.4,124.6 590.3,124.6 591.3,124.6 592.3,124.7 593.3,124.8 594.3,124.9 595.3,125.0 596.3,125.1 597.3,125.3 598.3,125.4 599.3,125.6 600.3,125.8 601.3,126.0 602.3,126.3 603.3,126.5 604.3,126.7 605.3,126.9 606.3,127.2 607.3,127.4 608.3,127.6 609.2,127.9 610.2,128.1 611.2,128.3 612.2,128.5 613.2,128.7 614.2,128.9 615.2,129.0 616.2,129.1 617.2,129.3 618.2,129.4 619.2,129.7 620.2,130.0 621.2,130.3 622.2,130.5 623.2,130.8 624.2,131.0 625.2,131.1 626.2,131.3 627.2,131.4 628.1,131.5 629.1,131.6 630.1,131.6 631.1,131.6 632.1,131.6 633.1,131.6 634.1,131.6 635.1,131.5 636.1,131.4 637.1,131.3 638.1,131.2 639.1,131.1 640.1,130.9 641.1,130.7 642.1,130.5 643.1,130.3 644.1,130.1 645.1,129.8 646.1,129.6 647.0,129.3 648.0,129.0 649.0,128.7 650.0,128.4 651.0,128.1 652.0,127.7 653.0,127.4 654.0,127.0 655.0,126.6 656.0,126.2 657.0,125.8 658.0,125.4 659.0,125.0 660.0,124.6 661.0,124.1 662.0,123.7 663.0,123.2 664.0,122.8 665.0,122.3 666.0,121.9 666.9,121.4 667.9,120.9 668.9,120.4 669.9,119.9 670.9,119.5 671.9,119.0 672.9,118.5 673.9,118.0 674.9,117.5 675.9,117.0" fill="none" stroke="#4a4a4a" stroke-width="1.05" stroke-linejoin="round"/>
<polyline points="445.7,141.9 446.5,142.7 447.4,143.1 448.2,143.2 448.9,143.7 449.7,145.3 450.5,148.5 451.3,152.2 452.0,155.0 452.8,155.6 453.6,154.2 454.3,151.2 455.1,147.0 455.9,143.0 456.6,140.4 457.6,140.4 458.6,142.0 459.5,142.3 460.5,139.3 461.4,135.0 462.4,132.3 463.4,133.2 464.3,135.7 465.3,136.7 466.3,134.2 467.2,129.9 468.2,126.4 469.1,125.5 470.1,126.3 471.1,127.5 472.0,127.7 473.0,127.1 473.9,126.1 474.9,125.1 475.9,124.3 476.8,123.7 477.8,123.3 478.8,123.2 479.7,123.6 480.7,124.4 481.6,125.5 482.6,126.7 483.6,127.8 484.5,128.7 485.5,129.3 486.5,129.3 487.4,128.9 488.4,128.4 489.3,127.8 490.3,127.5 491.3,127.5 492.2,128.1 493.2,129.1 494.1,130.4 495.1,131.8 496.1,133.2 497.0,134.6 498.0,135.6 499.0,136.4 499.9,137.0 500.9,137.3 501.8,137.3 502.8,137.0 503.8,136.5 504.7,135.7 505.7,134.8 506.6,133.8 507.6,132.7 508.6,131.6 509.5,130.4 510.5,129.4 511.5,128.5 512.4,127.8 513.4,127.2 514.3,127.0 515.3,127.0 516.3,127.3 517.2,127.8 518.2,128.5 519.1,129.2 520.1,130.0 521.1,130.7 522.0,131.4 523.0,131.9 524.0,132.2 524.9,132.3 525.9,132.0 526.8,131.4 527.8,130.5 528.8,129.3 529.7,127.9 530.7,126.4 531.6,124.9 532.6,123.2 533.6,121.7 534.5,120.2 535.5,118.9 536.5,117.8 537.4,116.9 538.4,116.4 539.3,116.2 540.3,116.2 541.3,116.4 542.2,116.8 543.2,117.2 544.2,117.8 545.1,118.3 546.1,118.9 547.0,119.3 548.0,119.7 549.0,119.9 549.9,120.0 550.9,119.8 551.8,119.5 552.8,119.1 553.8,118.6 554.7,118.0 555.7,117.4 556.7,116.7 557.6,116.0 558.6,115.4 559.5,114.8 560.5,114.3 561.5,113.6 562.5,113.0 563.5,112.6 564.5,112.3 565.5,112.1 566.5,112.0 567.5,112.0 568.5,112.1 569.5,112.2 570.4,112.5 571.4,112.8 572.4,113.1 573.4,113.6 574.4,114.0 575.4,114.5 576.4,115.0 577.4,115.5 578.4,116.1 579.4,116.6 580.4,117.1 581.4,117.6 582.4,118.1 583.4,118.5 584.4,118.9 585.4,119.3 586.4,119.6 587.4,119.8 588.4,119.9 589.4,120.0 590.3,120.2 591.3,120.4 592.3,120.4 593.3,120.4 594.3,120.3 595.3,120.1 596.3,119.9 597.3,119.6 598.3,119.3 599.3,118.9 600.3,118.4 601.3,118.0 602.3,117.4 603.3,116.9 604.3,116.3 605.3,115.7 606.3,115.1 607.3,114.5 608.3,113.9 609.2,113.2 610.2,112.6 611.2,112.0 612.2,111.4 613.2,110.8 614.2,110.2 615.2,109.6 616.2,109.1 617.2,108.6 618.2,108.2 619.2,107.3 620.2,106.5 621.2,105.8 622.2,105.1 623.2,104.5 624.2,103.9 625.2,103.4 626.2,102.9 627.2,102.4 628.1,102.0 629.1,101.7 630.1,101.4 631.1,101.1 632.1,100.9 633.1,100.7 634.1,100.6 635.1,100.5 636.1,100.4 637.1,100.4 638.1,100.4 639.1,100.5 640.1,100.6 641.1,100.7 642.1,100.8 643.1,101.0 644.1,101.2 645.1,101.5 646.1,101.8 647.0,102.1 648.0,102.4 649.0,102.8 650.0,103.1 651.0,103.5 652.0,104.0 653.0,104.4 654.0,104.9 655.0,105.4 656.0,105.9 657.0,106.5 658.0,107.0 659.0,107.6 660.0,108.2 661.0,108.8 662.0,109.4 663.0,110.0 664.0,110.7 665.0,111.3 666.0,112.0 666.9,112.7 667.9,113.3 668.9,114.0 669.9,114.7 670.9,115.4 671.9,116.1 672.9,116.9 673.9,117.6 674.9,118.3 675.9,119.0" fill="none" stroke="#a0a0a0" stroke-width="1.05" stroke-linejoin="round"/>
<polyline points="445.7,114.3 446.5,111.6 447.4,110.0 448.2,110.1 448.9,110.5 449.7,109.8 450.5,106.9 451.3,102.7 452.0,98.2 452.8,94.6 453.6,92.7 454.3,93.2 455.1,96.4 455.9,100.6 456.6,103.9 457.6,104.3 458.6,101.6 459.5,97.1 460.5,92.6 461.4,89.5 462.4,89.5 463.4,93.3 464.3,97.7 465.3,99.1 466.3,95.0 467.2,89.3 468.2,87.3 469.1,92.5 470.1,101.0 471.1,106.8 472.0,105.7 473.0,99.9 473.9,93.6 474.9,89.9 475.9,88.7 476.8,89.4 477.8,91.2 478.8,93.3 479.7,95.0 480.7,95.6 481.6,95.4 482.6,94.6 483.6,93.5 484.5,92.4 485.5,91.6 486.5,91.3 487.4,91.5 488.4,91.8 489.3,92.2 490.3,92.3 491.3,92.1 492.2,91.4 493.2,90.2 494.1,88.8 495.1,87.3 496.1,85.9 497.0,84.7 498.0,83.9 499.0,83.4 499.9,83.2 500.9,83.3 501.8,83.5 502.8,83.8 503.8,84.1 504.7,84.5 505.7,84.9 506.6,85.3 507.6,85.8 508.6,86.3 509.5,86.8 510.5,87.3 511.5,87.8 512.4,88.3 513.4,88.9 514.3,89.4 515.3,90.0 516.3,90.5 517.2,91.1 518.2,91.7 519.1,92.2 520.1,92.8 521.1,93.4 522.0,94.0 523.0,94.6 524.0,95.2 524.9,95.8 525.9,96.5 526.8,97.2 527.8,97.8 528.8,98.5 529.7,99.3 530.7,100.0 531.6,100.7 532.6,101.4 533.6,102.1 534.5,102.9 535.5,103.6 536.5,104.3 537.4,105.0 538.4,105.7 539.3,106.3 540.3,107.0 541.3,107.6 542.2,108.2 543.2,108.7 544.2,109.3 545.1,109.8 546.1,110.2 547.0,110.6 548.0,111.0 549.0,111.3 549.9,111.5 550.9,111.7 551.8,111.9 552.8,112.0 553.8,112.1 554.7,112.1 555.7,112.2 556.7,112.2 557.6,112.2 558.6,112.3 559.5,112.3 560.5,112.3 561.5,112.3 562.5,112.4 563.5,112.4 564.5,112.5 565.5,112.6 566.5,112.7 567.5,112.8 568.5,113.0 569.5,113.2 570.4,113.4 571.4,113.6 572.4,113.9 573.4,114.1 574.4,114.4 575.4,114.7 576.4,115.0 577.4,115.3 578.4,115.6 579.4,115.9 580.4,116.2 581.4,116.6 582.4,116.9 583.4,117.3 584.4,117.6 585.4,118.0 586.4,118.3 587.4,118.7 588.4,119.1 589.4,119.4 590.3,119.8 591.3,120.1 592.3,120.4 593.3,120.8 594.3,121.1 595.3,121.4 596.3,121.8 597.3,122.1 598.3,122.4 599.3,122.7 600.3,123.0 601.3,123.3 602.3,123.5 603.3,123.8 604.3,124.1 605.3,124.3 606.3,124.6 607.3,124.8 608.3,125.0 609.2,125.2 610.2,125.4 611.2,125.6 612.2,125.8 613.2,126.0 614.2,126.1 615.2,126.2 616.2,126.4 617.2,126.5 618.2,126.6 619.2,126.8 620.2,127.1 621.2,127.3 622.2,127.6 623.2,127.8 624.2,128.0 625.2,128.1 626.2,128.3 627.2,128.4 628.1,128.6 629.1,128.7 630.1,128.8 631.1,128.9 632.1,128.9 633.1,129.0 634.1,129.0 635.1,129.1 636.1,129.1 637.1,129.1 638.1,129.1 639.1,129.1 640.1,129.0 641.1,129.0 642.1,129.0 643.1,128.9 644.1,128.8 645.1,128.7 646.1,128.7 647.0,128.6 648.0,128.4 649.0,128.3 650.0,128.2 651.0,128.1 652.0,127.9 653.0,127.8 654.0,127.6 655.0,127.5 656.0,127.3 657.0,127.1 658.0,126.9 659.0,126.7 660.0,126.5 661.0,126.3 662.0,126.1 663.0,125.9 664.0,125.7 665.0,125.5 666.0,125.3 666.9,125.1 667.9,124.9 668.9,124.6 669.9,124.4 670.9,124.2 671.9,123.9 672.9,123.7 673.9,123.5 674.9,123.2 675.9,123.0" fill="none" stroke="#4a4a4a" stroke-width="1.05" stroke-linejoin="round"/>
<polyline points="445.7,137.4 446.5,137.5 447.4,137.8 448.2,138.4 448.9,140.1 449.7,143.6 450.5,149.2 451.3,154.7 452.0,157.5 452.8,156.1 453.6,152.3 454.3,149.3 455.1,149.2 455.9,151.2 456.6,153.7 457.6,155.7 458.6,155.8 459.5,153.8 460.5,149.7 461.4,145.3 462.4,142.9 463.4,144.0 464.3,146.9 465.3,149.1 466.3,149.0 467.2,147.8 468.2,147.6 469.1,149.5 470.1,152.3 471.1,153.9 472.0,152.8 473.0,150.3 473.9,147.9 474.9,147.2 475.9,147.9 476.8,149.6 477.8,151.6 478.8,153.5 479.7,154.6 480.7,154.7 481.6,153.8 482.6,152.3 483.6,150.5 484.5,148.7 485.5,147.1 486.5,146.2 487.4,145.6 488.4,145.4 489.3,145.2 490.3,145.1 491.3,144.7 492.2,143.9 493.2,143.0 494.1,141.9 495.1,140.7 496.1,139.8 497.0,139.0 498.0,138.6 499.0,138.5 499.9,138.7 500.9,139.1 501.8,139.6 502.8,140.2 503.8,140.8 504.7,141.5 505.7,142.1 506.6,142.8 507.6,143.4 508.6,143.9 509.5,144.4 510.5,144.8 511.5,145.1 512.4,145.3 513.4,145.4 514.3,145.3 515.3,145.0 516.3,144.6 517.2,144.1 518.2,143.5 519.1,143.0 520.1,142.5 521.1,142.0 522.0,141.6 523.0,141.4 524.0,141.4 524.9,141.6 525.9,142.0 526.8,142.8 527.8,143.8 528.8,145.0 529.7,146.3 530.7,147.7 531.6,149.2 532.6,150.6 533.6,152.0 534.5,153.2 535.5,154.3 536.5,155.1 537.4,155.7 538.4,155.9 539.3,155.8 540.3,155.5 541.3,154.9 542.2,154.2 543.2,153.3 544.2,152.3 545.1,151.2 546.1,150.1 547.0,149.0 548.0,147.9 549.0,146.9 549.9,146.0 550.9,145.3 551.8,144.6 552.8,144.0 553.8,143.6 554.7,143.1 555.7,142.8 556.7,142.4 557.6,142.2 558.6,141.9 559.5,141.7 560.5,141.4 561.5,141.2 562.5,141.0 563.5,140.7 564.5,140.5 565.5,140.3 566.5,140.0 567.5,139.8 568.5,139.5 569.5,139.2 570.4,139.0 571.4,138.7 572.4,138.4 573.4,138.1 574.4,137.8 575.4,137.5 576.4,137.2 577.4,136.9 578.4,136.6 579.4,136.3 580.4,136.0 581.4,135.7 582.4,135.4 583.4,135.1 584.4,134.7 585.4,134.4 586.4,134.1 587.4,133.7 588.4,133.4 589.4,133.1 590.3,132.7 591.3,132.4 592.3,132.0 593.3,131.7 594.3,131.3 595.3,131.0 596.3,130.6 597.3,130.3 598.3,129.9 599.3,129.6 600.3,129.3 601.3,128.9 602.3,128.6 603.3,128.3 604.3,128.0 605.3,127.7 606.3,127.4 607.3,127.1 608.3,126.8 609.2,126.5 610.2,126.2 611.2,126.0 612.2,125.7 613.2,125.5 614.2,125.3 615.2,125.0 616.2,124.8 617.2,124.7 618.2,124.5 619.2,124.2 620.2,123.8 621.2,123.5 622.2,123.2 623.2,122.9 624.2,122.7 625.2,122.4 626.2,122.2 627.2,122.0 628.1,121.8 629.1,121.6 630.1,121.5 631.1,121.3 632.1,121.2 633.1,121.1 634.1,121.0 635.1,120.9 636.1,120.8 637.1,120.8 638.1,120.7 639.1,120.7 640.1,120.6 641.1,120.6 642.1,120.6 643.1,120.6 644.1,120.7 645.1,120.7 646.1,120.7 647.0,120.8 648.0,120.8 649.0,120.9 650.0,121.0 651.0,121.1 652.0,121.2 653.0,121.3 654.0,121.4 655.0,121.5 656.0,121.6 657.0,121.7 658.0,121.9 659.0,122.0 660.0,122.2 661.0,122.3 662.0,122.5 663.0,122.6 664.0,122.8 665.0,123.0 666.0,123.1 666.9,123.3 667.9,123.5 668.9,123.7 669.9,123.9 670.9,124.0 671.9,124.2 672.9,124.4 673.9,124.6 674.9,124.8 675.9,125.0" fill="none" stroke="#c0c0c0" stroke-width="1.05" stroke-linejoin="round"/>
<polyline points="445.7,170.1 446.5,164.3 447.4,161.7 448.2,163.8 448.9,168.0 449.7,171.1 450.5,170.9 451.3,168.7 452.0,166.6 452.8,166.2 453.6,167.0 454.3,167.7 455.1,167.5 455.9,167.3 456.6,168.1 457.6,171.5 458.6,175.6 459.5,177.8 460.5,176.2 461.4,171.9 462.4,166.7 463.4,162.1 464.3,158.9 465.3,157.6 466.3,158.4 467.2,159.7 468.2,159.3 469.1,156.0 470.1,151.1 471.1,146.4 472.0,143.5 473.0,142.2 473.9,141.7 474.9,141.3 475.9,140.9 476.8,140.3 477.8,139.5 478.8,138.5 479.7,137.0 480.7,135.1 481.6,132.9 482.6,130.4 483.6,127.9 484.5,125.4 485.5,123.0 486.5,121.0 487.4,119.2 488.4,117.7 489.3,116.3 490.3,115.1 491.3,114.1 492.2,113.1 493.2,112.2 494.1,111.3 495.1,110.4 496.1,109.4 497.0,108.3 498.0,107.1 499.0,105.8 499.9,104.5 500.9,103.2 501.8,102.1 502.8,101.2 503.8,100.5 504.7,100.0 505.7,99.8 506.6,99.8 507.6,99.9 508.6,100.2 509.5,100.6 510.5,101.0 511.5,101.6 512.4,102.2 513.4,102.8 514.3,103.3 515.3,103.9 516.3,104.4 517.2,104.9 518.2,105.3 519.1,105.6 520.1,105.9 521.1,106.1 522.0,106.1 523.0,106.1 524.0,106.0 524.9,105.7 525.9,105.3 526.8,104.8 527.8,104.1 528.8,103.4 529.7,102.6 530.7,101.7 531.6,100.8 532.6,99.9 533.6,99.0 534.5,98.2 535.5,97.5 536.5,96.8 537.4,96.3 538.4,95.9 539.3,95.6 540.3,95.4 541.3,95.3 542.2,95.3 543.2,95.4 544.2,95.4 545.1,95.6 546.1,95.7 547.0,95.8 548.0,95.9 549.0,95.9 549.9,95.9 550.9,95.8 551.8,95.7 552.8,95.5 553.8,95.4 554.7,95.1 555.7,94.9 556.7,94.7 557.6,94.5 558.6,94.3 559.5,94.1 560.5,93.9 561.5,93.6 562.5,93.4 563.5,93.2 564.5,93.1 565.5,93.0 566.5,93.0 567.5,93.0 568.5,93.0 569.5,93.0 570.4,93.1 571.4,93.2 572.4,93.4 573.4,93.5 574.4,93.7 575.4,93.9 576.4,94.1 577.4,94.4 578.4,94.6 579.4,94.9 580.4,95.2 581.4,95.5 582.4,95.7 583.4,96.0 584.4,96.3 585.4,96.6 586.4,96.9 587.4,97.2 588.4,97.5 589.4,97.8 590.3,98.1 591.3,98.3 592.3,98.6 593.3,98.8 594.3,99.1 595.3,99.3 596.3,99.5 597.3,99.7 598.3,99.9 599.3,100.1 600.3,100.2 601.3,100.4 602.3,100.6 603.3,100.7 604.3,100.9 605.3,101.0 606.3,101.1 607.3,101.2 608.3,101.4 609.2,101.5 610.2,101.5 611.2,101.6 612.2,101.7 613.2,101.8 614.2,101.8 615.2,101.9 616.2,101.9 617.2,102.0 618.2,102.0 619.2,102.1 620.2,102.3 621.2,102.4 622.2,102.5 623.2,102.6 624.2,102.7 625.2,102.8 626.2,102.8 627.2,102.9 628.1,103.0 629.1,103.0 630.1,103.1 631.1,103.1 632.1,103.1 633.1,103.2 634.1,103.2 635.1,103.2 636.1,103.2 637.1,103.2 638.1,103.2 639.1,103.2 640.1,103.2 641.1,103.1 642.1,103.1 643.1,103.1 644.1,103.0 645.1,103.0 646.1,102.9 647.0,102.9 648.0,102.8 649.0,102.8 650.0,102.7 651.0,102.6 652.0,102.5 653.0,102.5 654.0,102.4 655.0,102.3 656.0,102.2 657.0,102.1 658.0,102.0 659.0,101.9 660.0,101.8 661.0,101.7 662.0,101.6 663.0,101.5 664.0,101.4 665.0,101.3 666.0,101.2 666.9,101.1 667.9,101.0 668.9,100.8 669.9,100.7 670.9,100.6 671.9,100.5 672.9,100.4 673.9,100.2 674.9,100.1 675.9,100.0" fill="none" stroke="#707070" stroke-width="1.05" stroke-linejoin="round"/>
<polyline points="445.7,178.3 446.5,176.8 447.4,176.8 448.2,178.9 448.9,181.8 449.7,183.9 450.5,184.0 451.3,182.7 452.0,180.7 452.8,178.9 453.6,176.9 454.3,174.3 455.1,171.0 455.9,167.8 456.6,166.0 457.6,166.7 458.6,168.9 459.5,169.8 460.5,167.8 461.4,164.9 462.4,164.5 463.4,168.5 464.3,174.5 465.3,178.9 466.3,179.4 467.2,177.4 468.2,175.2 469.1,175.0 470.1,176.4 471.1,178.6 472.0,180.9 473.0,182.8 473.9,183.9 474.9,183.8 475.9,182.7 476.8,180.8 477.8,178.3 478.8,175.4 479.7,172.4 480.7,169.4 481.6,166.6 482.6,163.8 483.6,161.2 484.5,158.7 485.5,156.4 486.5,154.4 487.4,152.6 488.4,151.0 489.3,149.6 490.3,148.5 491.3,147.7 492.2,147.1 493.2,146.6 494.1,146.2 495.1,145.6 496.1,144.7 497.0,143.5 498.0,141.8 499.0,139.7 499.9,137.3 500.9,134.9 501.8,132.6 502.8,130.4 503.8,128.7 504.7,127.2 505.7,126.0 506.6,125.1 507.6,124.4 508.6,123.9 509.5,123.4 510.5,123.1 511.5,122.8 512.4,122.5 513.4,122.2 514.3,121.8 515.3,121.3 516.3,120.7 517.2,120.0 518.2,119.3 519.1,118.6 520.1,117.9 521.1,117.1 522.0,116.5 523.0,115.9 524.0,115.4 524.9,115.0 525.9,114.8 526.8,114.7 527.8,114.7 528.8,114.9 529.7,115.1 530.7,115.4 531.6,115.8 532.6,116.1 533.6,116.4 534.5,116.6 535.5,116.7 536.5,116.7 537.4,116.6 538.4,116.3 539.3,115.9 540.3,115.3 541.3,114.6 542.2,113.9 543.2,113.2 544.2,112.4 545.1,111.7 546.1,111.0 547.0,110.4 548.0,109.9 549.0,109.5 549.9,109.3 550.9,109.3 551.8,109.3 552.8,109.5 553.8,109.8 554.7,110.1 555.7,110.5 556.7,110.9 557.6,111.3 558.6,111.7 559.5,112.1 560.5,112.5 561.5,113.0 562.5,113.4 563.5,113.7 564.5,114.0 565.5,114.2 566.5,114.3 567.5,114.3 568.5,114.3 569.5,114.3 570.4,114.2 571.4,114.0 572.4,113.8 573.4,113.6 574.4,113.4 575.4,113.1 576.4,112.8 577.4,112.4 578.4,112.1 579.4,111.7 580.4,111.4 581.4,111.0 582.4,110.7 583.4,110.3 584.4,110.0 585.4,109.7 586.4,109.4 587.4,109.1 588.4,108.9 589.4,108.7 590.3,108.5 591.3,108.3 592.3,108.1 593.3,108.0 594.3,107.9 595.3,107.8 596.3,107.8 597.3,107.8 598.3,107.8 599.3,107.8 600.3,107.9 601.3,108.0 602.3,108.1 603.3,108.2 604.3,108.3 605.3,108.4 606.3,108.6 607.3,108.7 608.3,108.9 609.2,109.0 610.2,109.2 611.2,109.4 612.2,109.5 613.2,109.7 614.2,109.8 615.2,110.0 616.2,110.1 617.2,110.2 618.2,110.4 619.2,110.6 620.2,110.8 621.2,111.0 622.2,111.2 623.2,111.3 624.2,111.5 625.2,111.6 626.2,111.7 627.2,111.8 628.1,111.9 629.1,112.0 630.1,112.0 631.1,112.1 632.1,112.1 633.1,112.1 634.1,112.1 635.1,112.1 636.1,112.1 637.1,112.0 638.1,112.0 639.1,111.9 640.1,111.8 641.1,111.7 642.1,111.6 643.1,111.5 644.1,111.4 645.1,111.3 646.1,111.1 647.0,111.0 648.0,110.8 649.0,110.7 650.0,110.5 651.0,110.3 652.0,110.1 653.0,109.9 654.0,109.7 655.0,109.5 656.0,109.3 657.0,109.1 658.0,108.8 659.0,108.6 660.0,108.3 661.0,108.1 662.0,107.8 663.0,107.6 664.0,107.3 665.0,107.1 666.0,106.8 666.9,106.5 667.9,106.3 668.9,106.0 669.9,105.7 670.9,105.4 671.9,105.1 672.9,104.9 673.9,104.6 674.9,104.3 675.9,104.0" fill="none" stroke="#b0b0b0" stroke-width="1.05" stroke-linejoin="round"/>
<polyline points="445.7,113.6 446.5,113.1 447.4,112.4 448.2,111.6 448.9,110.8 449.7,110.8 450.5,111.7 451.3,112.7 452.0,112.7 452.8,111.2 453.6,109.3 454.3,108.7 455.1,110.4 455.9,113.4 456.6,115.8 457.6,116.2 458.6,114.3 459.5,111.3 460.5,108.4 461.4,105.9 462.4,104.3 463.4,103.7 464.3,103.7 465.3,103.7 466.3,103.1 467.2,101.8 468.2,99.7 469.1,97.1 470.1,94.7 471.1,93.5 472.0,94.2 473.0,96.2 473.9,98.7 474.9,101.1 475.9,103.0 476.8,104.6 477.8,105.7 478.8,106.3 479.7,106.5 480.7,106.1 481.6,105.4 482.6,104.5 483.6,103.4 484.5,102.5 485.5,101.7 486.5,101.2 487.4,101.0 488.4,101.0 489.3,101.1 490.3,101.4 491.3,101.6 492.2,101.7 493.2,101.7 494.1,101.6 495.1,101.3 496.1,100.8 497.0,100.0 498.0,99.0 499.0,97.8 499.9,96.5 500.9,95.3 501.8,94.3 502.8,93.5 503.8,93.1 504.7,93.1 505.7,93.4 506.6,93.9 507.6,94.6 508.6,95.4 509.5,96.3 510.5,97.2 511.5,98.1 512.4,99.0 513.4,99.7 514.3,100.2 515.3,100.4 516.3,100.5 517.2,100.4 518.2,100.2 519.1,99.8 520.1,99.4 521.1,99.0 522.0,98.6 523.0,98.3 524.0,98.0 524.9,97.9 525.9,97.9 526.8,98.1 527.8,98.4 528.8,99.0 529.7,99.6 530.7,100.2 531.6,101.0 532.6,101.7 533.6,102.4 534.5,103.1 535.5,103.7 536.5,104.2 537.4,104.5 538.4,104.7 539.3,104.7 540.3,104.6 541.3,104.4 542.2,104.0 543.2,103.7 544.2,103.2 545.1,102.8 546.1,102.3 547.0,101.8 548.0,101.4 549.0,101.0 549.9,100.7 550.9,100.5 551.8,100.3 552.8,100.2 553.8,100.2 554.7,100.2 555.7,100.3 556.7,100.4 557.6,100.5 558.6,100.7 559.5,101.0 560.5,101.2 561.5,101.5 562.5,101.8 563.5,102.2 564.5,102.5 565.5,103.0 566.5,103.4 567.5,103.9 568.5,104.4 569.5,104.9 570.4,105.4 571.4,105.9 572.4,106.4 573.4,107.0 574.4,107.5 575.4,108.0 576.4,108.6 577.4,109.1 578.4,109.6 579.4,110.0 580.4,110.5 581.4,110.9 582.4,111.3 583.4,111.7 584.4,112.0 585.4,112.3 586.4,112.6 587.4,112.8 588.4,112.9 589.4,113.0 590.3,113.3 591.3,113.5 592.3,113.6 593.3,113.8 594.3,113.8 595.3,113.9 596.3,113.8 597.3,113.8 598.3,113.7 599.3,113.6 600.3,113.4 601.3,113.2 602.3,113.0 603.3,112.8 604.3,112.5 605.3,112.2 606.3,111.9 607.3,111.6 608.3,111.3 609.2,111.0 610.2,110.7 611.2,110.3 612.2,110.0 613.2,109.7 614.2,109.4 615.2,109.1 616.2,108.8 617.2,108.5 618.2,108.3 619.2,107.8 620.2,107.4 621.2,107.1 622.2,106.7 623.2,106.4 624.2,106.1 625.2,105.8 626.2,105.6 627.2,105.3 628.1,105.1 629.1,104.9 630.1,104.8 631.1,104.6 632.1,104.5 633.1,104.3 634.1,104.2 635.1,104.2 636.1,104.1 637.1,104.1 638.1,104.0 639.1,104.0 640.1,104.0 641.1,104.0 642.1,104.1 643.1,104.1 644.1,104.2 645.1,104.3 646.1,104.3 647.0,104.4 648.0,104.6 649.0,104.7 650.0,104.8 651.0,105.0 652.0,105.1 653.0,105.3 654.0,105.5 655.0,105.7 656.0,105.9 657.0,106.1 658.0,106.3 659.0,106.5 660.0,106.7 661.0,107.0 662.0,107.2 663.0,107.4 664.0,107.7 665.0,108.0 666.0,108.2 666.9,108.5 667.9,108.8 668.9,109.0 669.9,109.3 670.9,109.6 671.9,109.9 672.9,110.1 673.9,110.4 674.9,110.7 675.9,111.0" fill="none" stroke="#909090" stroke-width="1.05" stroke-linejoin="round"/>
<polyline points="445.7,161.3 446.5,162.8 447.4,161.2 448.2,155.7 448.9,148.9 449.7,144.5 450.5,144.8 451.3,147.5 452.0,148.9 452.8,146.4 453.6,142.2 454.3,139.1 455.1,139.5 455.9,142.2 456.6,145.2 457.6,147.0 458.6,147.0 459.5,145.8 460.5,144.1 461.4,142.6 462.4,142.0 463.4,142.6 464.3,143.6 465.3,143.6 466.3,141.9 467.2,139.8 468.2,138.9 469.1,140.4 470.1,142.4 471.1,142.6 472.0,139.2 473.0,133.8 473.9,128.7 474.9,125.7 475.9,124.7 476.8,125.0 477.8,126.0 478.8,126.9 479.7,127.3 480.7,126.5 481.6,124.7 482.6,122.3 483.6,119.7 484.5,117.1 485.5,114.9 486.5,113.3 487.4,112.3 488.4,111.8 489.3,111.6 490.3,111.6 491.3,111.7 492.2,111.7 493.2,111.6 494.1,111.5 495.1,111.3 496.1,111.0 497.0,110.8 498.0,110.4 499.0,110.1 499.9,109.7 500.9,109.3 501.8,109.0 502.8,108.6 503.8,108.2 504.7,107.9 505.7,107.6 506.6,107.3 507.6,107.1 508.6,106.9 509.5,106.7 510.5,106.6 511.5,106.5 512.4,106.6 513.4,106.6 514.3,106.8 515.3,107.0 516.3,107.3 517.2,107.6 518.2,108.0 519.1,108.4 520.1,108.8 521.1,109.3 522.0,109.7 523.0,110.1 524.0,110.4 524.9,110.8 525.9,111.0 526.8,111.2 527.8,111.3 528.8,111.4 529.7,111.5 530.7,111.5 531.6,111.5 532.6,111.4 533.6,111.4 534.5,111.3 535.5,111.3 536.5,111.3 537.4,111.4 538.4,111.4 539.3,111.6 540.3,111.7 541.3,111.9 542.2,112.1 543.2,112.4 544.2,112.7 545.1,113.0 546.1,113.3 547.0,113.7 548.0,114.1 549.0,114.5 549.9,115.0 550.9,115.4 551.8,115.9 552.8,116.3 553.8,116.8 554.7,117.3 555.7,117.7 556.7,118.2 557.6,118.6 558.6,119.0 559.5,119.4 560.5,119.8 561.5,120.2 562.5,120.6 563.5,121.0 564.5,121.3 565.5,121.6 566.5,121.8 567.5,122.0 568.5,122.1 569.5,122.2 570.4,122.3 571.4,122.3 572.4,122.3 573.4,122.3 574.4,122.3 575.4,122.2 576.4,122.1 577.4,122.0 578.4,121.9 579.4,121.8 580.4,121.6 581.4,121.5 582.4,121.3 583.4,121.2 584.4,121.0 585.4,120.8 586.4,120.6 587.4,120.5 588.4,120.3 589.4,120.2 590.3,120.0 591.3,119.9 592.3,119.8 593.3,119.7 594.3,119.6 595.3,119.6 596.3,119.5 597.3,119.4 598.3,119.4 599.3,119.3 600.3,119.3 601.3,119.2 602.3,119.2 603.3,119.2 604.3,119.2 605.3,119.1 606.3,119.1 607.3,119.1 608.3,119.1 609.2,119.1 610.2,119.1 611.2,119.1 612.2,119.1 613.2,119.0 614.2,119.0 615.2,119.0 616.2,119.0 617.2,119.0 618.2,119.0 619.2,119.0 620.2,119.0 621.2,119.0 622.2,119.0 623.2,119.0 624.2,119.0 625.2,118.9 626.2,118.9 627.2,118.9 628.1,118.9 629.1,118.9 630.1,118.8 631.1,118.8 632.1,118.8 633.1,118.7 634.1,118.7 635.1,118.7 636.1,118.6 637.1,118.6 638.1,118.5 639.1,118.5 640.1,118.4 641.1,118.4 642.1,118.4 643.1,118.3 644.1,118.2 645.1,118.2 646.1,118.1 647.0,118.1 648.0,118.0 649.0,118.0 650.0,117.9 651.0,117.8 652.0,117.8 653.0,117.7 654.0,117.6 655.0,117.6 656.0,117.5 657.0,117.4 658.0,117.4 659.0,117.3 660.0,117.2 661.0,117.1 662.0,117.1 663.0,117.0 664.0,116.9 665.0,116.9 666.0,116.8 666.9,116.7 667.9,116.6 668.9,116.5 669.9,116.5 670.9,116.4 671.9,116.3 672.9,116.2 673.9,116.2 674.9,116.1 675.9,116.0" fill="none" stroke="#4a4a4a" stroke-width="1.05" stroke-linejoin="round"/>
<polyline points="445.7,135.1 446.5,136.3 447.4,138.2 448.2,140.6 448.9,143.0 449.7,144.5 450.5,144.4 451.3,143.0 452.0,140.5 452.8,137.5 453.6,134.6 454.3,132.7 455.1,132.3 455.9,133.1 456.6,134.4 457.6,136.1 458.6,136.8 459.5,135.3 460.5,131.0 461.4,125.4 462.4,120.6 463.4,118.0 464.3,117.5 465.3,118.3 466.3,119.7 467.2,121.0 468.2,121.5 469.1,120.7 470.1,119.3 471.1,118.1 472.0,118.0 473.0,118.3 473.9,118.3 474.9,117.4 475.9,115.9 476.8,114.0 477.8,112.0 478.8,110.2 479.7,109.1 480.7,108.9 481.6,109.4 482.6,110.5 483.6,112.1 484.5,113.9 485.5,115.9 486.5,117.8 487.4,119.6 488.4,121.2 489.3,122.5 490.3,123.5 491.3,124.1 492.2,124.3 493.2,124.1 494.1,123.6 495.1,123.0 496.1,122.3 497.0,121.6 498.0,121.0 499.0,120.5 499.9,120.1 500.9,119.7 501.8,119.3 502.8,118.9 503.8,118.4 504.7,117.8 505.7,117.2 506.6,116.6 507.6,116.0 508.6,115.5 509.5,114.9 510.5,114.5 511.5,114.1 512.4,113.9 513.4,113.7 514.3,113.7 515.3,113.9 516.3,114.3 517.2,114.7 518.2,115.3 519.1,116.0 520.1,116.7 521.1,117.4 522.0,118.1 523.0,118.8 524.0,119.5 524.9,120.2 525.9,120.7 526.8,121.1 527.8,121.4 528.8,121.7 529.7,121.8 530.7,121.9 531.6,121.8 532.6,121.7 533.6,121.5 534.5,121.3 535.5,121.0 536.5,120.6 537.4,120.2 538.4,119.7 539.3,119.3 540.3,118.8 541.3,118.3 542.2,117.8 543.2,117.4 544.2,117.0 545.1,116.7 546.1,116.5 547.0,116.4 548.0,116.4 549.0,116.5 549.9,116.8 550.9,117.3 551.8,117.8 552.8,118.4 553.8,119.2 554.7,120.0 555.7,120.8 556.7,121.6 557.6,122.5 558.6,123.3 559.5,124.1 560.5,124.9 561.5,125.9 562.5,126.7 563.5,127.5 564.5,128.2 565.5,128.7 566.5,129.3 567.5,129.7 568.5,130.0 569.5,130.3 570.4,130.6 571.4,130.7 572.4,130.8 573.4,130.9 574.4,130.9 575.4,130.9 576.4,130.9 577.4,130.8 578.4,130.7 579.4,130.6 580.4,130.5 581.4,130.3 582.4,130.2 583.4,130.0 584.4,129.9 585.4,129.7 586.4,129.6 587.4,129.5 588.4,129.4 589.4,129.3 590.3,129.3 591.3,129.3 592.3,129.3 593.3,129.4 594.3,129.5 595.3,129.6 596.3,129.7 597.3,129.8 598.3,130.0 599.3,130.2 600.3,130.3 601.3,130.5 602.3,130.7 603.3,130.9 604.3,131.2 605.3,131.4 606.3,131.6 607.3,131.8 608.3,132.0 609.2,132.2 610.2,132.5 611.2,132.7 612.2,132.8 613.2,133.0 614.2,133.2 615.2,133.3 616.2,133.5 617.2,133.6 618.2,133.7 619.2,134.0 620.2,134.3 621.2,134.5 622.2,134.8 623.2,135.0 624.2,135.2 625.2,135.3 626.2,135.5 627.2,135.6 628.1,135.7 629.1,135.7 630.1,135.8 631.1,135.8 632.1,135.8 633.1,135.8 634.1,135.7 635.1,135.6 636.1,135.5 637.1,135.4 638.1,135.3 639.1,135.2 640.1,135.0 641.1,134.8 642.1,134.6 643.1,134.4 644.1,134.2 645.1,133.9 646.1,133.6 647.0,133.4 648.0,133.1 649.0,132.8 650.0,132.4 651.0,132.1 652.0,131.8 653.0,131.4 654.0,131.0 655.0,130.6 656.0,130.3 657.0,129.9 658.0,129.4 659.0,129.0 660.0,128.6 661.0,128.2 662.0,127.7 663.0,127.3 664.0,126.8 665.0,126.3 666.0,125.9 666.9,125.4 667.9,124.9 668.9,124.4 669.9,124.0 670.9,123.5 671.9,123.0 672.9,122.5 673.9,122.0 674.9,121.5 675.9,121.0" fill="none" stroke="#5e5e5e" stroke-width="1.05" stroke-linejoin="round"/>
<polyline points="445.7,125.4 446.5,128.1 447.4,128.2 448.2,124.8 448.9,119.7 449.7,115.5 450.5,113.8 451.3,114.2 452.0,115.2 452.8,115.9 453.6,116.1 454.3,115.9 455.1,115.3 455.9,114.7 456.6,114.5 457.6,115.2 458.6,116.6 459.5,117.9 460.5,118.6 461.4,118.0 462.4,115.3 463.4,110.2 464.3,104.2 465.3,99.0 466.3,96.0 467.2,95.0 468.2,95.0 469.1,95.6 470.1,96.6 471.1,98.0 472.0,99.8 473.0,101.6 473.9,102.8 474.9,103.2 475.9,102.9 476.8,102.2 477.8,101.5 478.8,101.1 479.7,101.4 480.7,102.5 481.6,104.3 482.6,106.4 483.6,108.5 484.5,110.4 485.5,111.7 486.5,112.2 487.4,112.0 488.4,111.5 489.3,110.7 490.3,110.0 491.3,109.6 492.2,109.6 493.2,110.1 494.1,110.8 495.1,111.8 496.1,112.8 497.0,113.9 498.0,114.9 499.0,115.7 499.9,116.4 500.9,117.1 501.8,117.6 502.8,118.0 503.8,118.4 504.7,118.7 505.7,118.9 506.6,119.1 507.6,119.2 508.6,119.4 509.5,119.6 510.5,119.8 511.5,120.1 512.4,120.5 513.4,120.9 514.3,121.5 515.3,122.2 516.3,123.0 517.2,123.9 518.2,124.9 519.1,125.9 520.1,126.9 521.1,127.9 522.0,128.9 523.0,129.8 524.0,130.7 524.9,131.4 525.9,132.0 526.8,132.5 527.8,132.8 528.8,132.9 529.7,133.0 530.7,132.9 531.6,132.8 532.6,132.6 533.6,132.3 534.5,132.0 535.5,131.6 536.5,131.2 537.4,130.8 538.4,130.3 539.3,129.9 540.3,129.5 541.3,129.1 542.2,128.8 543.2,128.5 544.2,128.3 545.1,128.1 546.1,128.0 547.0,128.0 548.0,128.1 549.0,128.3 549.9,128.7 550.9,129.1 551.8,129.6 552.8,130.2 553.8,130.8 554.7,131.5 555.7,132.2 556.7,132.9 557.6,133.6 558.6,134.3 559.5,134.9 560.5,135.5 561.5,136.3 562.5,136.9 563.5,137.5 564.5,138.0 565.5,138.4 566.5,138.7 567.5,138.9 568.5,139.0 569.5,139.1 570.4,139.1 571.4,139.1 572.4,139.0 573.4,138.8 574.4,138.6 575.4,138.4 576.4,138.1 577.4,137.8 578.4,137.4 579.4,137.1 580.4,136.7 581.4,136.3 582.4,135.9 583.4,135.5 584.4,135.1 585.4,134.8 586.4,134.4 587.4,134.0 588.4,133.7 589.4,133.4 590.3,133.1 591.3,132.8 592.3,132.6 593.3,132.4 594.3,132.2 595.3,132.1 596.3,132.0 597.3,131.8 598.3,131.8 599.3,131.7 600.3,131.7 601.3,131.7 602.3,131.7 603.3,131.7 604.3,131.7 605.3,131.8 606.3,131.8 607.3,131.9 608.3,132.0 609.2,132.1 610.2,132.2 611.2,132.3 612.2,132.4 613.2,132.5 614.2,132.7 615.2,132.8 616.2,132.9 617.2,133.1 618.2,133.2 619.2,133.3 620.2,133.4 621.2,133.5 622.2,133.6 623.2,133.7 624.2,133.8 625.2,133.9 626.2,134.0 627.2,134.1 628.1,134.2 629.1,134.3 630.1,134.4 631.1,134.5 632.1,134.5 633.1,134.6 634.1,134.7 635.1,134.8 636.1,134.9 637.1,134.9 638.1,135.0 639.1,135.1 640.1,135.1 641.1,135.2 642.1,135.3 643.1,135.3 644.1,135.4 645.1,135.5 646.1,135.5 647.0,135.6 648.0,135.7 649.0,135.7 650.0,135.8 651.0,135.8 652.0,135.9 653.0,135.9 654.0,136.0 655.0,136.0 656.0,136.1 657.0,136.1 658.0,136.2 659.0,136.2 660.0,136.3 661.0,136.3 662.0,136.4 663.0,136.4 664.0,136.5 665.0,136.5 666.0,136.6 666.9,136.6 667.9,136.7 668.9,136.7 669.9,136.7 670.9,136.8 671.9,136.8 672.9,136.9 673.9,136.9 674.9,137.0 675.9,137.0" fill="none" stroke="#707070" stroke-width="1.05" stroke-linejoin="round"/>
<polyline points="445.7,98.5 446.5,93.9 447.4,92.7 448.2,96.4 448.9,101.9 449.7,105.8 450.5,105.4 451.3,102.5 452.0,100.0 452.8,99.9 453.6,101.8 454.3,104.2 455.1,106.0 455.9,106.2 456.6,103.7 457.6,96.4 458.6,87.0 459.5,79.1 460.4,75.4 461.3,74.4 462.1,74.9 463.0,75.6 463.9,75.0 464.8,72.1 465.7,67.2 466.6,60.9 467.6,53.9 468.5,47.0 469.4,40.8 470.3,36.0 471.2,33.1 472.1,31.8 473.1,31.6 474.0,32.0 474.9,32.6 475.9,33.3 476.9,34.1 477.8,34.9 478.8,35.9 479.7,37.0 480.7,38.2 481.6,39.4 482.6,40.5 483.6,41.4 484.5,42.1 485.5,42.4 486.5,42.3 487.4,41.7 488.4,40.9 489.4,40.0 490.3,38.9 491.3,37.9 492.2,37.0 493.2,36.2 494.1,35.6 495.1,35.2 496.1,35.0 497.0,35.1 498.0,35.4 498.9,36.0 499.9,36.7 500.9,37.6 501.8,38.5 502.8,39.5 503.8,40.5 504.7,41.4 505.7,42.3 506.6,43.2 507.6,44.0 508.6,44.8 509.5,45.6 510.5,46.3 511.4,46.9 512.4,47.4 513.3,47.9 514.3,48.3 515.3,48.6 516.2,48.8 517.2,49.0 518.2,49.1 519.1,49.2 520.1,49.2 521.1,49.3 522.0,49.4 523.0,49.4 524.0,49.5 524.9,49.7 525.9,49.9 526.9,50.2 527.8,50.5 528.8,50.9 529.7,51.4 530.7,51.8 531.6,52.3 532.6,52.8 533.6,53.3 534.5,53.8 535.5,54.3 536.4,54.7 537.4,55.1 538.4,55.4 539.3,55.7 540.3,56.0 541.3,56.2 542.2,56.4 543.2,56.5 544.2,56.6 545.1,56.7 546.1,56.8 547.1,56.9 548.0,56.9 549.0,57.0 550.0,57.1 550.9,57.1 551.9,57.2 552.8,57.2 553.8,57.3 554.8,57.4 555.7,57.5 556.7,57.6 557.6,57.7 558.6,57.8 559.5,57.9 560.5,58.0 561.5,58.2 562.5,58.4 563.5,58.6 564.5,58.8 565.5,59.0 566.5,59.2 567.5,59.4 568.5,59.6 569.5,59.8 570.4,60.0 571.4,60.2 572.4,60.4 573.4,60.5 574.4,60.7 575.4,60.8 576.4,60.9 577.4,61.0 578.4,61.1 579.4,61.1 580.4,61.1 581.4,61.0 582.4,61.0 583.4,60.9 584.4,60.7 585.4,60.5 586.4,60.3 587.4,60.0 588.4,59.7 589.4,59.3 590.3,59.1 591.3,58.9 592.3,58.6 593.3,58.2 594.3,57.9 595.3,57.4 596.3,57.0 597.3,56.5 598.3,56.0 599.3,55.4 600.3,54.9 601.3,54.3 602.3,53.6 603.3,53.0 604.3,52.4 605.3,51.7 606.3,51.0 607.3,50.4 608.3,49.7 609.2,49.0 610.2,48.4 611.2,47.7 612.2,47.1 613.2,46.5 614.2,45.8 615.2,45.2 616.2,44.7 617.2,44.1 618.2,43.6 619.2,42.8 620.2,42.0 621.2,41.3 622.2,40.6 623.2,39.9 624.2,39.3 625.2,38.7 626.2,38.1 627.2,37.6 628.1,37.1 629.1,36.6 630.1,36.2 631.1,35.8 632.1,35.4 633.1,35.0 634.1,34.7 635.1,34.4 636.1,34.2 637.1,33.9 638.1,33.7 639.1,33.5 640.1,33.4 641.1,33.2 642.1,33.1 643.1,33.0 644.1,32.9 645.1,32.9 646.1,32.8 647.0,32.8 648.0,32.8 649.0,32.9 650.0,32.9 651.0,33.0 652.0,33.0 653.0,33.1 654.0,33.2 655.0,33.4 656.0,33.5 657.0,33.6 658.0,33.8 659.0,34.0 660.0,34.2 661.0,34.4 662.0,34.6 663.0,34.8 664.0,35.0 665.0,35.2 666.0,35.5 666.9,35.7 667.9,36.0 668.9,36.2 669.9,36.5 670.9,36.7 671.9,37.0 672.9,37.3 673.9,37.6 674.9,37.8 675.9,38.1" fill="none" stroke="#262626" stroke-width="1.05" stroke-linejoin="round"/>
<polyline points="445.7,96.1 446.5,90.8 447.4,86.6 448.2,84.6 448.9,84.1 449.7,84.8 450.5,86.2 451.3,87.3 452.0,87.0 452.8,84.8 453.6,81.6 454.3,78.9 455.1,77.8 455.9,78.1 456.6,79.3 457.6,81.4 458.6,83.5 459.5,85.4 460.5,86.6 461.4,86.8 462.4,85.4 463.4,82.4 464.3,79.4 465.3,78.2 466.3,80.0 467.2,82.6 468.2,83.2 469.1,79.9 470.1,74.2 471.1,68.6 472.0,65.0 473.0,63.1 474.0,62.0 474.9,60.9 475.9,59.8 476.9,58.6 477.8,57.5 478.8,56.5 479.7,55.6 480.7,54.9 481.6,54.5 482.6,54.2 483.6,54.0 484.5,53.8 485.5,53.7 486.5,53.6 487.4,53.4 488.4,53.3 489.4,53.2 490.3,53.2 491.3,53.2 492.2,53.3 493.2,53.5 494.1,53.7 495.1,53.9 496.1,54.1 497.0,54.2 498.0,54.2 498.9,54.2 499.9,54.1 500.9,54.0 501.8,53.8 502.8,53.7 503.8,53.6 504.7,53.6 505.7,53.5 506.6,53.5 507.6,53.6 508.6,53.6 509.5,53.7 510.5,53.8 511.4,53.9 512.4,54.0 513.3,54.1 514.3,54.2 515.3,54.3 516.2,54.4 517.2,54.6 518.2,54.7 519.1,54.8 520.1,54.9 521.1,55.1 522.0,55.2 523.0,55.3 524.0,55.4 524.9,55.5 525.9,55.6 526.9,55.7 527.8,55.8 528.8,55.8 529.7,55.9 530.7,56.0 531.6,56.1 532.6,56.1 533.6,56.2 534.5,56.3 535.5,56.3 536.4,56.4 537.4,56.5 538.4,56.6 539.3,56.7 540.3,56.8 541.3,56.9 542.2,57.0 543.2,57.1 544.2,57.2 545.1,57.3 546.1,57.3 547.1,57.4 548.0,57.5 549.0,57.5 550.0,57.5 550.9,57.5 551.9,57.5 552.8,57.5 553.8,57.5 554.8,57.5 555.7,57.5 556.7,57.4 557.6,57.4 558.6,57.4 559.5,57.5 560.5,57.5 561.5,57.6 562.5,57.6 563.5,57.8 564.5,57.9 565.5,58.0 566.5,58.2 567.5,58.4 568.5,58.6 569.5,58.7 570.4,58.9 571.4,59.1 572.4,59.3 573.4,59.5 574.4,59.6 575.4,59.8 576.4,59.9 577.4,60.1 578.4,60.1 579.4,60.2 580.4,60.3 581.4,60.3 582.4,60.2 583.4,60.2 584.4,60.1 585.4,59.9 586.4,59.7 587.4,59.5 588.4,59.2 589.4,58.8 590.3,58.6 591.3,58.4 592.3,58.1 593.3,57.8 594.3,57.4 595.3,56.9 596.3,56.5 597.3,56.0 598.3,55.5 599.3,54.9 600.3,54.3 601.3,53.7 602.3,53.1 603.3,52.5 604.3,51.8 605.3,51.2 606.3,50.5 607.3,49.9 608.3,49.2 609.2,48.6 610.2,48.0 611.2,47.4 612.2,46.8 613.2,46.2 614.2,45.6 615.2,45.1 616.2,44.6 617.2,44.2 618.2,43.8 619.2,43.0 620.2,42.2 621.2,41.4 622.2,40.7 623.2,40.1 624.2,39.5 625.2,39.0 626.2,38.5 627.2,38.0 628.1,37.6 629.1,37.3 630.1,37.0 631.1,36.7 632.1,36.5 633.1,36.3 634.1,36.2 635.1,36.0 636.1,36.0 637.1,35.9 638.1,35.9 639.1,36.0 640.1,36.1 641.1,36.2 642.1,36.3 643.1,36.5 644.1,36.7 645.1,36.9 646.1,37.2 647.0,37.4 648.0,37.8 649.0,38.1 650.0,38.5 651.0,38.9 652.0,39.3 653.0,39.7 654.0,40.2 655.0,40.6 656.0,41.1 657.0,41.6 658.0,42.2 659.0,42.7 660.0,43.3 661.0,43.9 662.0,44.5 663.0,45.1 664.0,45.7 665.0,46.3 666.0,47.0 666.9,47.6 667.9,48.3 668.9,48.9 669.9,49.6 670.9,50.3 671.9,50.9 672.9,51.6 673.9,52.3 674.9,53.0 675.9,53.7" fill="none" stroke="#3a3a3a" stroke-width="1.05" stroke-linejoin="round"/>
<polyline points="445.7,132.0 446.5,129.6 447.4,127.9 448.2,127.4 448.9,127.5 449.7,127.5 450.5,126.9 451.3,126.2 452.0,126.0 452.8,126.8 453.6,127.7 454.3,127.7 455.1,126.4 455.9,124.2 456.6,122.2 457.6,121.2 458.6,122.3 459.5,126.0 460.5,132.1 461.4,138.7 462.4,143.6 463.4,145.1 464.3,143.8 465.3,141.2 466.3,138.3 467.2,136.2 468.2,135.5 469.1,136.7 470.1,138.0 471.1,137.3 472.0,133.0 473.0,126.1 473.9,118.4 474.9,111.3 475.9,105.0 476.8,99.3 477.8,94.2 478.8,89.5 479.7,85.0 480.7,80.8 481.6,76.7 482.6,72.9 483.6,69.5 484.5,66.5 485.5,64.0 486.5,62.0 487.4,60.5 488.4,59.3 489.4,58.5 490.3,57.9 491.3,57.5 492.2,57.2 493.2,56.9 494.1,56.6 495.1,56.4 496.1,56.2 497.0,56.0 498.0,55.8 498.9,55.5 499.9,55.3 500.9,55.0 501.8,54.6 502.8,54.2 503.8,53.8 504.7,53.3 505.7,52.7 506.6,52.2 507.6,51.6 508.6,51.1 509.5,50.6 510.5,50.0 511.4,49.6 512.4,49.1 513.3,48.8 514.3,48.5 515.3,48.3 516.2,48.2 517.2,48.1 518.2,48.1 519.1,48.2 520.1,48.3 521.1,48.4 522.0,48.6 523.0,48.8 524.0,49.0 524.9,49.3 525.9,49.5 526.9,49.7 527.8,50.0 528.8,50.2 529.7,50.4 530.7,50.6 531.6,50.7 532.6,50.9 533.6,51.0 534.5,51.1 535.5,51.2 536.4,51.3 537.4,51.3 538.4,51.3 539.3,51.3 540.3,51.2 541.3,51.1 542.2,51.0 543.2,50.9 544.2,50.8 545.1,50.7 546.1,50.6 547.1,50.4 548.0,50.3 549.0,50.2 550.0,50.1 550.9,50.0 551.9,49.9 552.8,49.8 553.8,49.8 554.8,49.7 555.7,49.6 556.7,49.6 557.6,49.6 558.6,49.5 559.5,49.5 560.5,49.5 561.5,49.5 562.5,49.5 563.5,49.5 564.5,49.5 565.5,49.5 566.5,49.5 567.5,49.5 568.5,49.5 569.5,49.6 570.4,49.6 571.4,49.6 572.4,49.7 573.4,49.7 574.4,49.7 575.4,49.8 576.4,49.8 577.4,49.9 578.4,49.9 579.4,49.9 580.4,50.0 581.4,50.0 582.4,50.0 583.4,50.0 584.4,50.0 585.4,50.0 586.4,50.0 587.4,50.0 588.4,50.0 589.4,50.0 590.3,50.0 591.3,50.0 592.3,50.0 593.3,49.9 594.3,49.9 595.3,49.8 596.3,49.8 597.3,49.7 598.3,49.7 599.3,49.6 600.3,49.6 601.3,49.5 602.3,49.4 603.3,49.3 604.3,49.3 605.3,49.2 606.3,49.1 607.3,49.1 608.3,49.0 609.2,48.9 610.2,48.8 611.2,48.8 612.2,48.7 613.2,48.7 614.2,48.6 615.2,48.6 616.2,48.5 617.2,48.5 618.2,48.5 619.2,48.4 620.2,48.3 621.2,48.2 622.2,48.1 623.2,48.1 624.2,48.0 625.2,48.0 626.2,47.9 627.2,47.9 628.1,47.9 629.1,47.8 630.1,47.8 631.1,47.8 632.1,47.9 633.1,47.9 634.1,47.9 635.1,47.9 636.1,48.0 637.1,48.0 638.1,48.1 639.1,48.1 640.1,48.2 641.1,48.3 642.1,48.4 643.1,48.4 644.1,48.5 645.1,48.6 646.1,48.7 647.0,48.8 648.0,49.0 649.0,49.1 650.0,49.2 651.0,49.3 652.0,49.5 653.0,49.6 654.0,49.7 655.0,49.9 656.0,50.0 657.0,50.2 658.0,50.3 659.0,50.5 660.0,50.7 661.0,50.8 662.0,51.0 663.0,51.2 664.0,51.3 665.0,51.5 666.0,51.7 666.9,51.9 667.9,52.0 668.9,52.2 669.9,52.4 670.9,52.6 671.9,52.8 672.9,52.9 673.9,53.1 674.9,53.3 675.9,53.5" fill="none" stroke="#a5a5a5" stroke-width="1.05" stroke-linejoin="round"/>
<polyline points="445.7,163.7 446.5,160.9 447.4,159.8 448.2,161.0 448.9,163.0 449.7,164.1 450.5,163.2 451.3,160.9 452.0,158.4 452.8,156.8 453.6,156.1 454.3,156.1 455.1,156.7 455.9,157.7 456.6,158.7 457.6,159.7 458.6,159.6 459.5,157.5 460.5,152.6 461.4,144.5 462.4,132.9 463.4,118.2 464.3,102.9 465.3,90.7 466.3,83.7 467.2,80.9 468.2,80.0 469.2,79.0 470.1,77.7 471.1,76.1 472.1,74.2 473.0,72.1 474.0,70.0 474.9,68.0 475.8,65.9 476.6,63.7 477.5,61.4 478.5,58.6 479.5,56.1 480.5,54.3 481.5,53.1 482.5,52.4 483.5,51.9 484.5,51.5 485.5,51.0 486.4,50.4 487.2,49.6 488.1,48.7 489.0,47.8 489.9,47.0 490.7,46.4 491.6,46.0 492.5,45.9 493.4,46.0 494.3,46.4 495.2,46.8 496.1,47.4 497.0,48.0 498.0,48.6 498.9,49.2 499.9,49.7 500.9,50.2 501.8,50.6 502.8,51.0 503.7,51.4 504.7,51.7 505.6,52.0 506.6,52.4 507.5,52.7 508.5,53.1 509.4,53.5 510.4,53.9 511.4,54.3 512.4,54.6 513.3,55.0 514.3,55.3 515.3,55.6 516.2,55.8 517.2,55.9 518.2,56.1 519.1,56.2 520.1,56.2 521.1,56.3 522.0,56.3 523.0,56.4 524.0,56.4 524.9,56.4 525.9,56.5 526.9,56.6 527.8,56.6 528.8,56.7 529.7,56.8 530.7,56.9 531.6,57.0 532.6,57.2 533.6,57.3 534.5,57.4 535.5,57.5 536.4,57.6 537.4,57.7 538.4,57.8 539.3,57.9 540.3,57.9 541.3,58.0 542.2,58.1 543.2,58.1 544.2,58.2 545.1,58.3 546.1,58.3 547.1,58.4 548.0,58.4 549.0,58.5 550.0,58.6 550.9,58.6 551.9,58.7 552.8,58.8 553.8,58.9 554.8,58.9 555.7,59.0 556.7,59.1 557.6,59.2 558.6,59.3 559.5,59.4 560.5,59.5 561.5,59.6 562.5,59.7 563.5,59.8 564.5,59.8 565.5,59.9 566.5,60.0 567.5,60.1 568.5,60.3 569.5,60.4 570.4,60.5 571.4,60.6 572.4,60.7 573.4,60.9 574.4,61.0 575.4,61.2 576.4,61.3 577.4,61.5 578.4,61.6 579.4,61.8 580.4,62.0 581.4,62.2 582.4,62.4 583.4,62.6 584.4,62.8 585.4,63.0 586.4,63.3 587.4,63.5 588.4,63.7 589.4,64.0 590.3,64.2 591.3,64.5 592.3,64.7 593.3,65.0 594.3,65.2 595.3,65.5 596.3,65.8 597.3,66.1 598.3,66.3 599.3,66.6 600.3,66.9 601.3,67.2 602.3,67.5 603.3,67.7 604.3,68.0 605.3,68.3 606.3,68.5 607.3,68.8 608.3,69.1 609.2,69.3 610.2,69.5 611.2,69.8 612.2,70.0 613.2,70.2 614.2,70.4 615.2,70.6 616.2,70.7 617.2,70.9 618.2,71.0 619.2,71.3 620.2,71.6 621.2,71.9 622.2,72.2 623.2,72.4 624.2,72.6 625.2,72.8 626.2,73.0 627.2,73.2 628.1,73.3 629.1,73.5 630.1,73.6 631.1,73.7 632.1,73.8 633.1,73.8 634.1,73.9 635.1,73.9 636.1,74.0 637.1,74.0 638.1,74.0 639.1,74.0 640.1,73.9 641.1,73.9 642.1,73.8 643.1,73.8 644.1,73.7 645.1,73.6 646.1,73.5 647.0,73.4 648.0,73.2 649.0,73.1 650.0,73.0 651.0,72.8 652.0,72.6 653.0,72.5 654.0,72.3 655.0,72.1 656.0,71.9 657.0,71.7 658.0,71.5 659.0,71.3 660.0,71.1 661.0,70.8 662.0,70.6 663.0,70.4 664.0,70.1 665.0,69.9 666.0,69.6 666.9,69.4 667.9,69.1 668.9,68.9 669.9,68.6 670.9,68.3 671.9,68.1 672.9,67.8 673.9,67.5 674.9,67.3 675.9,67.0" fill="none" stroke="#b4b4b4" stroke-width="1.05" stroke-linejoin="round"/>
<polyline points="445.7,165.6 446.5,165.9 447.4,164.8 448.2,161.9 448.9,159.1 449.7,158.8 450.5,162.5 451.3,167.5 452.0,170.1 452.8,168.1 453.6,163.5 454.3,159.8 455.1,159.5 455.9,160.9 456.6,161.4 457.6,158.1 458.6,152.4 459.5,147.3 460.5,145.3 461.4,146.4 462.4,150.1 463.4,155.7 464.3,161.4 465.3,165.3 466.3,166.1 467.2,165.3 468.2,165.1 469.1,166.9 470.1,169.5 471.1,170.9 472.0,169.6 473.0,166.5 473.9,162.8 474.9,159.6 475.9,156.9 476.8,154.6 477.8,152.4 478.8,150.1 479.7,147.6 480.7,144.7 481.6,141.5 482.6,138.1 483.6,134.6 484.5,131.2 485.5,128.0 486.5,125.1 487.4,122.5 488.4,119.9 489.3,117.4 490.3,114.7 491.3,111.8 492.2,108.5 493.2,105.1 494.1,101.6 495.1,98.4 496.1,95.4 497.0,92.9 498.0,91.1 499.0,89.9 499.9,89.0 500.9,88.5 501.8,88.2 502.8,88.0 503.8,87.7 504.7,87.4 505.7,87.1 506.6,86.7 507.6,86.3 508.6,85.9 509.5,85.5 510.5,85.0 511.4,84.5 512.4,84.0 513.3,83.5 514.3,83.0 515.3,82.5 516.2,82.0 517.2,81.5 518.2,81.0 519.1,80.4 520.1,79.9 521.1,79.4 522.0,78.9 523.0,78.4 524.0,78.0 524.9,77.5 525.9,77.0 526.9,76.5 527.8,76.1 528.8,75.6 529.7,75.2 530.7,74.7 531.6,74.3 532.6,73.8 533.6,73.4 534.5,72.9 535.5,72.4 536.4,72.0 537.4,71.5 538.4,71.0 539.3,70.5 540.3,70.0 541.3,69.5 542.2,69.0 543.2,68.5 544.2,67.9 545.1,67.4 546.1,66.8 547.1,66.2 548.0,65.6 549.0,65.0 550.0,64.4 550.9,63.7 551.9,63.1 552.8,62.4 553.8,61.8 554.8,61.1 555.7,60.4 556.7,59.7 557.6,59.0 558.6,58.3 559.5,57.7 560.5,57.0 561.5,56.2 562.5,55.4 563.5,54.6 564.5,53.9 565.5,53.1 566.5,52.4 567.5,51.7 568.5,51.0 569.5,50.4 570.4,49.7 571.4,49.2 572.4,48.6 573.4,48.1 574.4,47.6 575.4,47.1 576.4,46.7 577.4,46.3 578.4,45.9 579.4,45.6 580.4,45.4 581.4,45.2 582.4,45.0 583.4,44.9 584.4,44.8 585.4,44.8 586.4,44.8 587.4,44.9 588.4,45.1 589.4,45.3 590.3,45.2 591.3,45.3 592.3,45.3 593.3,45.4 594.3,45.6 595.3,45.8 596.3,46.0 597.3,46.3 598.3,46.6 599.3,47.0 600.3,47.4 601.3,47.8 602.3,48.2 603.3,48.7 604.3,49.1 605.3,49.6 606.3,50.1 607.3,50.6 608.3,51.1 609.2,51.6 610.2,52.1 611.2,52.6 612.2,53.1 613.2,53.6 614.2,54.1 615.2,54.6 616.2,55.0 617.2,55.4 618.2,55.8 619.2,56.4 620.2,57.1 621.2,57.6 622.2,58.2 623.2,58.7 624.2,59.2 625.2,59.6 626.2,60.0 627.2,60.4 628.1,60.8 629.1,61.1 630.1,61.4 631.1,61.7 632.1,61.9 633.1,62.1 634.1,62.3 635.1,62.5 636.1,62.6 637.1,62.7 638.1,62.8 639.1,62.9 640.1,62.9 641.1,62.9 642.1,62.9 643.1,62.9 644.1,62.9 645.1,62.8 646.1,62.7 647.0,62.6 648.0,62.5 649.0,62.4 650.0,62.2 651.0,62.1 652.0,61.9 653.0,61.7 654.0,61.5 655.0,61.3 656.0,61.0 657.0,60.8 658.0,60.5 659.0,60.2 660.0,59.9 661.0,59.7 662.0,59.4 663.0,59.0 664.0,58.7 665.0,58.4 666.0,58.1 666.9,57.7 667.9,57.4 668.9,57.0 669.9,56.7 670.9,56.3 671.9,56.0 672.9,55.6 673.9,55.2 674.9,54.9 675.9,54.5" fill="none" stroke="#3c3c3c" stroke-width="1.05" stroke-linejoin="round"/>
<polyline points="445.7,126.4 446.5,127.7 447.4,130.2 448.2,134.1 448.9,138.3 449.7,140.9 450.5,140.7 451.3,139.2 452.0,138.2 452.8,139.1 453.6,141.9 454.3,145.7 455.1,150.0 455.9,153.4 456.6,154.5 457.6,151.7 458.6,146.0 459.5,140.2 460.5,136.4 461.4,134.8 462.4,135.1 463.4,136.8 464.3,137.8 465.3,135.9 466.3,129.9 467.2,121.6 468.2,113.8 469.1,108.6 470.1,105.7 471.1,104.0 472.0,102.8 473.0,101.6 473.9,100.1 474.9,97.9 475.9,95.3 476.8,92.4 477.8,89.3 478.8,86.4 479.7,83.8 480.7,81.7 481.6,79.9 482.6,78.6 483.6,77.5 484.5,76.7 485.5,76.0 486.5,75.4 487.4,74.9 488.4,74.4 489.4,73.9 490.3,73.5 491.3,73.0 492.3,72.5 493.2,72.0 494.2,71.5 495.1,70.9 496.1,70.3 497.1,69.7 498.0,69.1 499.0,68.5 499.9,67.9 500.9,67.3 501.8,66.6 502.8,66.0 503.8,65.4 504.7,64.7 505.7,64.1 506.6,63.5 507.6,62.9 508.6,62.3 509.5,61.8 510.5,61.3 511.4,60.7 512.4,60.3 513.3,59.8 514.3,59.4 515.3,59.0 516.2,58.7 517.2,58.4 518.2,58.1 519.1,57.8 520.1,57.6 521.1,57.4 522.0,57.2 523.0,57.0 524.0,56.8 524.9,56.7 525.9,56.5 526.9,56.3 527.8,56.2 528.8,56.0 529.7,55.9 530.7,55.7 531.6,55.5 532.6,55.4 533.6,55.2 534.5,54.9 535.5,54.7 536.4,54.5 537.4,54.2 538.4,53.9 539.3,53.6 540.3,53.3 541.3,52.9 542.2,52.6 543.2,52.2 544.2,51.9 545.1,51.6 546.1,51.2 547.1,50.9 548.0,50.7 549.0,50.4 550.0,50.2 550.9,50.0 551.9,49.8 552.8,49.7 553.8,49.6 554.8,49.5 555.7,49.4 556.7,49.4 557.6,49.4 558.6,49.4 559.5,49.4 560.5,49.5 561.5,49.5 562.5,49.6 563.5,49.7 564.5,49.8 565.5,50.0 566.5,50.2 567.5,50.3 568.5,50.5 569.5,50.8 570.4,51.0 571.4,51.2 572.4,51.5 573.4,51.7 574.4,52.0 575.4,52.2 576.4,52.5 577.4,52.7 578.4,53.0 579.4,53.2 580.4,53.4 581.4,53.6 582.4,53.8 583.4,54.0 584.4,54.1 585.4,54.2 586.4,54.4 587.4,54.4 588.4,54.5 589.4,54.5 590.3,54.6 591.3,54.7 592.3,54.7 593.3,54.7 594.3,54.7 595.3,54.7 596.3,54.6 597.3,54.5 598.3,54.4 599.3,54.3 600.3,54.2 601.3,54.1 602.3,53.9 603.3,53.7 604.3,53.6 605.3,53.4 606.3,53.2 607.3,53.1 608.3,52.9 609.2,52.7 610.2,52.5 611.2,52.4 612.2,52.2 613.2,52.1 614.2,52.0 615.2,51.8 616.2,51.7 617.2,51.7 618.2,51.6 619.2,51.3 620.2,51.1 621.2,50.9 622.2,50.7 623.2,50.5 624.2,50.3 625.2,50.2 626.2,50.1 627.2,50.0 628.1,50.0 629.1,50.0 630.1,49.9 631.1,50.0 632.1,50.0 633.1,50.0 634.1,50.1 635.1,50.2 636.1,50.3 637.1,50.4 638.1,50.6 639.1,50.8 640.1,50.9 641.1,51.1 642.1,51.4 643.1,51.6 644.1,51.8 645.1,52.1 646.1,52.4 647.0,52.7 648.0,53.0 649.0,53.3 650.0,53.6 651.0,53.9 652.0,54.3 653.0,54.7 654.0,55.0 655.0,55.4 656.0,55.8 657.0,56.2 658.0,56.6 659.0,57.0 660.0,57.5 661.0,57.9 662.0,58.3 663.0,58.8 664.0,59.2 665.0,59.7 666.0,60.2 666.9,60.6 667.9,61.1 668.9,61.6 669.9,62.1 670.9,62.6 671.9,63.0 672.9,63.5 673.9,64.0 674.9,64.5 675.9,65.0" fill="none" stroke="#444444" stroke-width="1.05" stroke-linejoin="round"/>
<polyline points="445.7,87.4 446.5,87.8 447.4,87.8 448.2,87.2 448.9,85.8 449.7,83.6 450.5,80.5 451.3,77.6 452.0,76.3 452.8,77.4 453.6,80.0 454.3,82.6 455.1,84.1 455.9,84.3 456.6,83.1 457.6,80.0 458.6,76.9 459.5,75.6 460.5,77.5 461.4,80.4 462.4,81.7 463.4,79.4 464.3,75.4 465.3,72.4 466.3,72.3 467.2,73.9 468.2,74.9 469.1,74.0 470.1,72.3 471.1,71.6 472.0,73.2 473.0,76.2 473.9,79.2 474.9,81.0 475.9,81.7 476.8,81.5 477.8,80.8 478.8,80.0 479.7,79.2 480.7,78.8 481.6,78.7 482.6,78.8 483.6,79.2 484.5,79.6 485.5,80.0 486.5,80.3 487.4,80.6 488.4,80.8 489.3,81.0 490.3,81.1 491.3,81.2 492.2,81.3 493.2,81.3 494.1,81.3 495.1,81.3 496.1,81.2 497.0,81.1 498.0,80.9 499.0,80.7 499.9,80.5 500.9,80.3 501.8,80.2 502.8,80.2 503.8,80.4 504.7,80.7 505.7,81.1 506.6,81.5 507.6,82.1 508.6,82.6 509.5,83.2 510.5,83.7 511.4,84.2 512.4,84.5 513.3,84.8 514.3,85.0 515.3,85.0 516.2,84.9 517.2,84.6 518.2,84.3 519.1,83.8 520.1,83.2 521.1,82.6 522.0,81.9 523.0,81.2 524.0,80.5 524.9,79.7 525.9,79.0 526.9,78.3 527.8,77.6 528.8,76.9 529.7,76.2 530.7,75.6 531.6,74.9 532.6,74.2 533.6,73.6 534.5,73.0 535.5,72.3 536.4,71.7 537.4,71.0 538.3,70.4 539.1,69.8 540.0,69.1 540.9,68.4 541.8,67.7 542.6,66.9 543.5,66.0 544.4,65.0 545.3,64.0 546.2,62.9 547.2,61.9 548.1,61.0 549.0,60.3 550.0,59.7 550.9,59.3 551.9,59.1 552.8,59.1 553.8,59.2 554.8,59.4 555.7,59.7 556.7,60.1 557.6,60.6 558.6,61.1 559.5,61.7 560.5,62.2 561.5,62.9 562.5,63.5 563.5,64.2 564.5,64.8 565.5,65.4 566.5,65.9 567.5,66.5 568.5,67.0 569.5,67.5 570.4,67.9 571.4,68.4 572.4,68.8 573.4,69.1 574.4,69.5 575.4,69.8 576.4,70.0 577.4,70.3 578.4,70.4 579.4,70.6 580.4,70.7 581.4,70.8 582.4,70.8 583.4,70.8 584.4,70.7 585.4,70.6 586.4,70.5 587.4,70.3 588.4,70.0 589.4,69.7 590.3,69.6 591.3,69.5 592.3,69.3 593.3,69.1 594.3,68.9 595.3,68.6 596.3,68.3 597.3,67.9 598.3,67.5 599.3,67.1 600.3,66.7 601.3,66.2 602.3,65.8 603.3,65.3 604.3,64.8 605.3,64.3 606.3,63.7 607.3,63.2 608.3,62.7 609.2,62.2 610.2,61.7 611.2,61.2 612.2,60.7 613.2,60.2 614.2,59.7 615.2,59.3 616.2,58.9 617.2,58.5 618.2,58.1 619.2,57.4 620.2,56.8 621.2,56.2 622.2,55.7 623.2,55.2 624.2,54.7 625.2,54.2 626.2,53.8 627.2,53.4 628.1,53.1 629.1,52.8 630.1,52.5 631.1,52.2 632.1,52.0 633.1,51.7 634.1,51.6 635.1,51.4 636.1,51.3 637.1,51.2 638.1,51.1 639.1,51.0 640.1,51.0 641.1,51.0 642.1,51.0 643.1,51.1 644.1,51.1 645.1,51.2 646.1,51.3 647.0,51.4 648.0,51.5 649.0,51.7 650.0,51.9 651.0,52.0 652.0,52.2 653.0,52.5 654.0,52.7 655.0,52.9 656.0,53.2 657.0,53.5 658.0,53.8 659.0,54.1 660.0,54.4 661.0,54.7 662.0,55.0 663.0,55.3 664.0,55.7 665.0,56.0 666.0,56.4 666.9,56.7 667.9,57.1 668.9,57.5 669.9,57.9 670.9,58.3 671.9,58.6 672.9,59.0 673.9,59.4 674.9,59.8 675.9,60.2" fill="none" stroke="#3e3e3e" stroke-width="1.05" stroke-linejoin="round"/>
<polyline points="445.7,150.1 446.5,147.7 447.4,147.1 448.2,148.7 448.9,150.9 449.7,151.5 450.5,148.9 451.3,144.7 452.0,140.9 452.8,138.9 453.6,138.1 454.3,137.4 455.1,135.9 455.9,134.0 456.6,132.5 457.6,132.0 458.6,133.4 459.5,137.0 460.5,142.4 461.4,148.3 462.4,152.7 463.4,154.3 464.3,154.5 465.3,155.1 466.3,157.6 467.2,160.9 468.2,163.4 469.1,164.0 470.1,163.5 471.1,162.8 472.0,162.8 473.0,163.1 473.9,163.2 474.9,162.5 475.9,161.1 476.8,159.2 477.8,157.1 478.8,155.0 479.7,153.1 480.7,151.5 481.6,150.1 482.6,148.7 483.6,147.1 484.5,145.1 485.5,142.5 486.5,139.1 487.4,135.1 488.4,130.8 489.3,126.4 490.3,122.2 491.3,118.5 492.2,115.4 493.2,112.8 494.1,110.6 495.1,108.6 496.1,106.5 497.0,104.3 498.0,101.8 499.0,99.0 499.9,96.2 500.9,93.5 501.8,91.0 502.8,88.8 503.8,87.1 504.7,85.9 505.7,85.1 506.6,84.6 507.6,84.4 508.6,84.4 509.5,84.6 510.5,84.9 511.4,85.2 512.4,85.5 513.3,85.8 514.3,86.0 515.3,86.0 516.2,85.9 517.2,85.6 518.2,85.2 519.1,84.7 520.1,84.1 521.1,83.5 522.0,82.8 523.0,82.1 524.0,81.4 524.9,80.7 525.9,80.0 526.9,79.4 527.8,78.8 528.8,78.3 529.7,77.8 530.7,77.3 531.6,76.9 532.6,76.5 533.6,76.1 534.5,75.8 535.5,75.4 536.4,75.1 537.4,74.8 538.4,74.5 539.3,74.2 540.3,73.9 541.3,73.6 542.2,73.4 543.2,73.1 544.2,72.8 545.1,72.6 546.1,72.3 547.1,72.0 548.0,71.8 549.0,71.5 550.0,71.2 550.9,71.0 551.9,70.7 552.8,70.4 553.8,70.1 554.8,69.9 555.7,69.6 556.7,69.4 557.6,69.1 558.6,68.9 559.5,68.7 560.5,68.5 561.5,68.3 562.5,68.0 563.5,67.8 564.5,67.7 565.5,67.5 566.5,67.4 567.5,67.3 568.5,67.2 569.5,67.1 570.4,67.0 571.4,67.0 572.4,67.0 573.4,66.9 574.4,66.9 575.4,66.9 576.4,67.0 577.4,67.0 578.4,67.0 579.4,67.1 580.4,67.1 581.4,67.1 582.4,67.2 583.4,67.2 584.4,67.3 585.4,67.3 586.4,67.4 587.4,67.4 588.4,67.5 589.4,67.5 590.3,67.5 591.3,67.5 592.3,67.6 593.3,67.6 594.3,67.6 595.3,67.6 596.3,67.5 597.3,67.5 598.3,67.5 599.3,67.5 600.3,67.5 601.3,67.4 602.3,67.4 603.3,67.4 604.3,67.3 605.3,67.3 606.3,67.2 607.3,67.2 608.3,67.2 609.2,67.1 610.2,67.1 611.2,67.0 612.2,67.0 613.2,66.9 614.2,66.9 615.2,66.8 616.2,66.8 617.2,66.7 618.2,66.7 619.2,66.6 620.2,66.6 621.2,66.5 622.2,66.5 623.2,66.4 624.2,66.4 625.2,66.4 626.2,66.3 627.2,66.3 628.1,66.2 629.1,66.2 630.1,66.2 631.1,66.2 632.1,66.1 633.1,66.1 634.1,66.1 635.1,66.1 636.1,66.0 637.1,66.0 638.1,66.0 639.1,66.0 640.1,66.0 641.1,66.0 642.1,65.9 643.1,65.9 644.1,65.9 645.1,65.9 646.1,65.9 647.0,65.9 648.0,65.9 649.0,65.9 650.0,65.9 651.0,65.9 652.0,65.9 653.0,65.9 654.0,65.9 655.0,65.9 656.0,65.9 657.0,65.9 658.0,66.0 659.0,66.0 660.0,66.0 661.0,66.0 662.0,66.0 663.0,66.0 664.0,66.0 665.0,66.0 666.0,66.0 666.9,66.1 667.9,66.1 668.9,66.1 669.9,66.1 670.9,66.1 671.9,66.1 672.9,66.2 673.9,66.2 674.9,66.2 675.9,66.2" fill="none" stroke="#3a3a3a" stroke-width="1.05" stroke-linejoin="round"/>
<polyline points="445.7,144.6 446.5,146.9 447.4,149.0 448.2,150.3 448.9,149.8 449.7,145.9 450.5,138.2 451.3,129.9 452.0,125.1 452.8,126.8 453.6,133.0 454.3,140.5 455.1,146.5 455.9,150.0 456.6,150.5 457.6,146.7 458.6,140.6 459.5,135.0 460.5,132.5 461.4,132.6 462.4,134.1 463.4,136.1 464.3,137.7 465.3,138.0 466.3,136.5 467.2,133.1 468.2,127.9 469.1,121.1 470.1,113.6 471.1,106.5 472.0,100.5 473.0,95.6 473.9,91.7 474.9,88.7 475.8,86.2 476.7,84.2 477.6,82.6 478.6,81.2 479.5,80.0 480.4,78.9 481.3,77.7 482.2,76.6 483.1,75.6 484.0,74.5 484.9,73.4 485.8,72.3 486.7,71.2 487.6,70.1 488.6,69.0 489.5,67.9 490.4,66.9 491.3,66.0 492.3,65.1 493.2,64.3 494.2,63.5 495.1,62.8 496.1,62.1 497.1,61.5 498.0,61.0 499.0,60.5 499.9,60.0 500.9,59.5 501.8,59.1 502.8,58.7 503.8,58.3 504.7,57.9 505.7,57.5 506.6,57.2 507.6,56.8 508.6,56.5 509.5,56.2 510.5,56.0 511.4,55.7 512.4,55.6 513.3,55.4 514.3,55.3 515.3,55.2 516.2,55.2 517.2,55.2 518.2,55.3 519.1,55.3 520.1,55.5 521.1,55.6 522.0,55.7 523.0,55.9 524.0,56.1 524.9,56.3 525.9,56.5 526.9,56.7 527.8,56.9 528.8,57.1 529.7,57.3 530.7,57.6 531.6,57.8 532.6,58.0 533.6,58.2 534.5,58.4 535.5,58.6 536.4,58.8 537.4,59.0 538.4,59.2 539.3,59.4 540.3,59.5 541.3,59.7 542.2,59.9 543.2,60.0 544.2,60.2 545.1,60.3 546.1,60.5 547.1,60.7 548.0,60.8 549.0,61.0 550.0,61.2 550.9,61.3 551.9,61.5 552.8,61.7 553.8,61.9 554.8,62.1 555.7,62.2 556.7,62.4 557.6,62.6 558.6,62.7 559.5,62.9 560.5,63.0 561.5,63.2 562.5,63.3 563.5,63.4 564.5,63.5 565.5,63.6 566.5,63.7 567.5,63.8 568.5,63.8 569.5,63.9 570.4,63.9 571.4,63.9 572.4,64.0 573.4,64.0 574.4,64.0 575.4,64.1 576.4,64.1 577.4,64.1 578.4,64.1 579.4,64.2 580.4,64.2 581.4,64.3 582.4,64.3 583.4,64.4 584.4,64.5 585.4,64.5 586.4,64.6 587.4,64.7 588.4,64.9 589.4,65.0 590.3,65.1 591.3,65.2 592.3,65.4 593.3,65.5 594.3,65.7 595.3,65.8 596.3,66.0 597.3,66.2 598.3,66.4 599.3,66.6 600.3,66.9 601.3,67.1 602.3,67.3 603.3,67.5 604.3,67.8 605.3,68.0 606.3,68.2 607.3,68.4 608.3,68.7 609.2,68.9 610.2,69.1 611.2,69.3 612.2,69.5 613.2,69.7 614.2,69.9 615.2,70.1 616.2,70.2 617.2,70.4 618.2,70.5 619.2,70.8 620.2,71.1 621.2,71.3 622.2,71.6 623.2,71.8 624.2,72.0 625.2,72.2 626.2,72.3 627.2,72.5 628.1,72.6 629.1,72.7 630.1,72.8 631.1,72.9 632.1,73.0 633.1,73.1 634.1,73.1 635.1,73.2 636.1,73.2 637.1,73.2 638.1,73.2 639.1,73.2 640.1,73.2 641.1,73.1 642.1,73.1 643.1,73.0 644.1,72.9 645.1,72.9 646.1,72.8 647.0,72.7 648.0,72.6 649.0,72.4 650.0,72.3 651.0,72.2 652.0,72.0 653.0,71.9 654.0,71.7 655.0,71.6 656.0,71.4 657.0,71.2 658.0,71.0 659.0,70.8 660.0,70.6 661.0,70.4 662.0,70.2 663.0,70.0 664.0,69.8 665.0,69.6 666.0,69.3 666.9,69.1 667.9,68.9 668.9,68.7 669.9,68.4 670.9,68.2 671.9,68.0 672.9,67.7 673.9,67.5 674.9,67.2 675.9,67.0" fill="none" stroke="#8a8a8a" stroke-width="1.05" stroke-linejoin="round"/>
<polyline points="445.7,142.7 446.5,144.9 447.4,147.8 448.2,151.2 448.9,154.6 449.7,156.7 450.5,156.7 451.3,155.2 452.0,153.1 452.8,151.2 453.6,149.7 454.3,148.9 455.1,149.0 455.9,149.7 456.6,151.0 457.6,153.0 458.6,155.1 459.5,156.8 460.5,157.8 461.4,158.5 462.4,159.8 463.4,161.8 464.3,163.4 465.3,163.0 466.3,159.6 467.2,154.5 468.2,149.5 469.1,146.2 470.1,145.0 471.1,146.1 472.0,149.3 473.0,153.4 473.9,157.2 474.9,159.5 475.9,160.2 476.8,159.8 477.8,158.5 478.8,156.6 479.7,154.5 480.7,152.4 481.6,150.4 482.6,148.5 483.6,146.8 484.5,145.2 485.5,143.8 486.5,142.6 487.4,141.6 488.4,140.6 489.3,139.5 490.3,138.4 491.3,137.0 492.2,135.3 493.2,133.4 494.1,131.3 495.1,129.1 496.1,126.9 497.0,124.8 498.0,122.8 499.0,120.9 499.9,119.2 500.9,117.7 501.8,116.4 502.8,115.3 503.8,114.5 504.7,113.8 505.7,113.3 506.6,113.0 507.6,112.7 508.6,112.5 509.5,112.2 510.5,112.0 511.5,111.7 512.4,111.3 513.4,110.8 514.3,110.1 515.3,109.1 516.3,108.0 517.2,106.8 518.2,105.5 519.1,104.0 520.1,102.6 521.1,101.1 522.0,99.7 523.0,98.3 524.0,97.1 524.9,96.0 525.9,95.0 526.8,94.3 527.8,93.7 528.8,93.4 529.7,93.1 530.7,93.0 531.6,93.0 532.6,93.0 533.6,93.1 534.5,93.2 535.5,93.4 536.5,93.5 537.4,93.5 538.4,93.5 539.3,93.4 540.3,93.3 541.3,93.1 542.2,92.9 543.2,92.6 544.2,92.2 545.1,91.8 546.1,91.4 547.0,90.9 548.0,90.3 549.0,89.8 549.9,89.2 550.9,88.5 551.8,87.9 552.8,87.2 553.8,86.5 554.7,85.8 555.7,85.1 556.7,84.5 557.6,83.8 558.6,83.2 559.5,82.6 560.5,82.0 561.5,81.3 562.5,80.7 563.5,80.1 564.5,79.6 565.5,79.1 566.5,78.7 567.5,78.4 568.5,78.1 569.5,77.8 570.4,77.6 571.4,77.4 572.4,77.3 573.4,77.2 574.4,77.1 575.4,77.0 576.4,77.0 577.4,77.0 578.4,77.0 579.4,77.0 580.4,77.1 581.4,77.1 582.4,77.2 583.4,77.2 584.4,77.3 585.4,77.3 586.4,77.4 587.4,77.4 588.4,77.5 589.4,77.5 590.3,77.5 591.3,77.5 592.3,77.4 593.3,77.4 594.3,77.3 595.3,77.2 596.3,77.1 597.3,77.0 598.3,76.9 599.3,76.8 600.3,76.7 601.3,76.6 602.3,76.4 603.3,76.3 604.3,76.1 605.3,76.0 606.3,75.8 607.3,75.6 608.3,75.5 609.2,75.3 610.2,75.2 611.2,75.0 612.2,74.8 613.2,74.7 614.2,74.5 615.2,74.4 616.2,74.3 617.2,74.1 618.2,74.0 619.2,73.8 620.2,73.6 621.2,73.4 622.2,73.3 623.2,73.1 624.2,72.9 625.2,72.8 626.2,72.7 627.2,72.5 628.1,72.4 629.1,72.3 630.1,72.2 631.1,72.1 632.1,72.0 633.1,72.0 634.1,71.9 635.1,71.8 636.1,71.8 637.1,71.7 638.1,71.7 639.1,71.6 640.1,71.6 641.1,71.6 642.1,71.6 643.1,71.6 644.1,71.6 645.1,71.5 646.1,71.6 647.0,71.6 648.0,71.6 649.0,71.6 650.0,71.6 651.0,71.6 652.0,71.7 653.0,71.7 654.0,71.8 655.0,71.8 656.0,71.9 657.0,71.9 658.0,72.0 659.0,72.0 660.0,72.1 661.0,72.1 662.0,72.2 663.0,72.3 664.0,72.3 665.0,72.4 666.0,72.5 666.9,72.6 667.9,72.6 668.9,72.7 669.9,72.8 670.9,72.9 671.9,73.0 672.9,73.0 673.9,73.1 674.9,73.2 675.9,73.3" fill="none" stroke="#666666" stroke-width="1.05" stroke-linejoin="round"/>
<polyline points="445.7,111.6 446.5,120.7 447.4,126.7 448.2,127.6 448.9,126.1 449.7,124.6 450.5,124.9 451.3,126.3 452.0,127.3 452.8,126.8 453.6,125.4 454.3,124.4 455.1,124.5 455.9,125.4 456.6,126.3 457.6,126.9 458.6,126.5 459.5,125.1 460.5,123.0 461.4,121.2 462.4,121.4 463.4,124.3 464.3,127.9 465.3,129.5 466.3,127.3 467.2,123.5 468.2,121.2 469.1,122.4 470.1,125.6 471.1,127.9 472.0,127.5 473.0,125.2 473.9,122.6 474.9,120.8 475.9,119.8 476.8,119.5 477.8,119.4 478.8,119.4 479.7,119.0 480.7,118.1 481.6,116.8 482.6,115.3 483.6,113.9 484.5,112.8 485.5,112.2 486.5,112.3 487.4,112.8 488.4,113.6 489.3,114.4 490.3,114.8 491.3,114.8 492.2,113.9 493.2,112.6 494.1,111.0 495.1,109.5 496.1,108.3 497.0,107.6 498.0,107.8 499.0,108.6 499.9,109.7 500.9,111.0 501.8,112.1 502.8,112.9 503.8,113.1 504.7,112.8 505.7,111.9 506.6,110.7 507.6,109.2 508.6,107.4 509.5,105.5 510.5,103.5 511.5,101.4 512.4,99.4 513.4,97.6 514.3,96.0 515.3,94.7 516.3,93.6 517.2,92.7 518.2,92.0 519.1,91.5 520.1,91.0 521.1,90.6 522.0,90.2 523.0,89.8 524.0,89.3 524.9,88.7 525.9,88.0 526.8,87.1 527.8,86.0 528.8,84.9 529.7,83.6 530.7,82.3 531.6,81.1 532.6,79.8 533.6,78.7 534.5,77.7 535.5,76.8 536.5,76.1 537.4,75.6 538.4,75.5 539.3,75.5 540.3,75.7 541.3,76.1 542.2,76.6 543.2,77.2 544.2,77.9 545.1,78.6 546.1,79.3 547.0,79.9 548.0,80.4 549.0,80.8 549.9,81.0 550.9,81.1 551.8,81.1 552.8,81.0 553.8,80.8 554.7,80.5 555.7,80.1 556.7,79.7 557.6,79.3 558.6,78.8 559.5,78.4 560.5,78.0 561.5,77.5 562.5,77.0 563.5,76.6 564.5,76.2 565.5,75.9 566.5,75.7 567.5,75.5 568.5,75.3 569.5,75.2 570.4,75.1 571.4,75.1 572.4,75.1 573.4,75.1 574.4,75.2 575.4,75.3 576.4,75.4 577.4,75.5 578.4,75.7 579.4,75.9 580.4,76.1 581.4,76.3 582.4,76.5 583.4,76.8 584.4,77.0 585.4,77.3 586.4,77.5 587.4,77.7 588.4,78.0 589.4,78.2 590.3,78.4 591.3,78.6 592.3,78.7 593.3,78.9 594.3,79.0 595.3,79.2 596.3,79.3 597.3,79.4 598.3,79.6 599.3,79.7 600.3,79.8 601.3,79.9 602.3,80.0 603.3,80.0 604.3,80.1 605.3,80.2 606.3,80.2 607.3,80.3 608.3,80.3 609.2,80.4 610.2,80.4 611.2,80.4 612.2,80.5 613.2,80.5 614.2,80.5 615.2,80.5 616.2,80.5 617.2,80.5 618.2,80.5 619.2,80.6 620.2,80.6 621.2,80.7 622.2,80.7 623.2,80.7 624.2,80.8 625.2,80.8 626.2,80.8 627.2,80.8 628.1,80.9 629.1,80.9 630.1,80.9 631.1,80.9 632.1,80.9 633.1,80.9 634.1,80.9 635.1,80.9 636.1,80.9 637.1,80.9 638.1,80.8 639.1,80.8 640.1,80.8 641.1,80.8 642.1,80.7 643.1,80.7 644.1,80.7 645.1,80.6 646.1,80.6 647.0,80.5 648.0,80.5 649.0,80.5 650.0,80.4 651.0,80.4 652.0,80.3 653.0,80.2 654.0,80.2 655.0,80.1 656.0,80.1 657.0,80.0 658.0,79.9 659.0,79.9 660.0,79.8 661.0,79.7 662.0,79.7 663.0,79.6 664.0,79.5 665.0,79.4 666.0,79.4 666.9,79.3 667.9,79.2 668.9,79.1 669.9,79.1 670.9,79.0 671.9,78.9 672.9,78.8 673.9,78.8 674.9,78.7 675.9,78.6" fill="none" stroke="#6a6a6a" stroke-width="1.05" stroke-linejoin="round"/>
<polyline points="445.7,113.2 446.5,112.9 447.4,114.1 448.2,117.2 448.9,120.9 449.7,123.3 450.5,123.4 451.3,122.0 452.0,120.7 452.8,120.5 453.6,120.7 454.3,120.0 455.1,117.7 455.9,114.7 456.6,112.8 457.6,113.3 458.6,115.5 459.5,117.1 460.5,116.6 461.4,115.1 462.4,114.7 463.4,116.4 464.3,118.8 465.3,119.9 466.3,118.1 467.2,114.9 468.2,112.3 469.1,111.8 470.1,112.6 471.1,113.3 472.0,112.6 473.0,111.0 473.9,109.3 474.9,107.9 475.9,106.9 476.8,106.1 477.8,105.6 478.8,105.0 479.7,104.4 480.7,103.7 481.6,102.8 482.6,101.8 483.6,100.7 484.5,99.7 485.5,98.8 486.5,97.9 487.4,97.2 488.4,96.4 489.3,95.6 490.3,94.6 491.3,93.5 492.2,92.2 493.2,90.8 494.1,89.4 495.1,88.2 496.1,87.3 497.0,86.7 498.0,86.6 499.0,86.9 499.9,87.5 500.9,88.2 501.8,88.9 502.8,89.5 503.8,89.8 504.7,89.9 505.7,89.8 506.6,89.5 507.6,89.1 508.6,88.5 509.5,87.9 510.5,87.1 511.5,86.3 512.4,85.6 513.4,84.8 514.3,84.0 515.3,83.4 516.3,82.8 517.2,82.2 518.2,81.8 519.1,81.3 520.1,81.0 521.1,80.7 522.0,80.4 523.0,80.2 524.0,80.1 524.9,79.9 525.9,79.9 526.8,79.8 527.8,79.8 528.8,79.9 529.7,79.9 530.7,80.0 531.6,80.1 532.6,80.2 533.6,80.3 534.5,80.4 535.5,80.4 536.5,80.5 537.4,80.5 538.4,80.5 539.3,80.5 540.3,80.5 541.3,80.5 542.2,80.4 543.2,80.4 544.2,80.4 545.1,80.4 546.1,80.4 547.0,80.4 548.0,80.5 549.0,80.6 549.9,80.8 550.9,81.0 551.8,81.2 552.8,81.5 553.8,81.8 554.7,82.1 555.7,82.5 556.7,82.8 557.6,83.1 558.6,83.4 559.5,83.7 560.5,84.0 561.5,84.4 562.5,84.7 563.5,85.0 564.5,85.2 565.5,85.4 566.5,85.6 567.5,85.7 568.5,85.8 569.5,85.8 570.4,85.9 571.4,85.9 572.4,85.9 573.4,85.8 574.4,85.8 575.4,85.7 576.4,85.6 577.4,85.4 578.4,85.3 579.4,85.2 580.4,85.0 581.4,84.9 582.4,84.7 583.4,84.5 584.4,84.3 585.4,84.2 586.4,84.0 587.4,83.8 588.4,83.7 589.4,83.5 590.3,83.4 591.3,83.2 592.3,83.1 593.3,83.0 594.3,82.9 595.3,82.8 596.3,82.7 597.3,82.7 598.3,82.6 599.3,82.5 600.3,82.5 601.3,82.4 602.3,82.4 603.3,82.3 604.3,82.3 605.3,82.2 606.3,82.2 607.3,82.2 608.3,82.1 609.2,82.1 610.2,82.1 611.2,82.1 612.2,82.1 613.2,82.1 614.2,82.0 615.2,82.0 616.2,82.0 617.2,82.0 618.2,82.0 619.2,82.0 620.2,82.0 621.2,81.9 622.2,81.9 623.2,81.9 624.2,81.9 625.2,81.9 626.2,81.8 627.2,81.8 628.1,81.8 629.1,81.8 630.1,81.7 631.1,81.7 632.1,81.7 633.1,81.7 634.1,81.6 635.1,81.6 636.1,81.6 637.1,81.6 638.1,81.5 639.1,81.5 640.1,81.5 641.1,81.5 642.1,81.4 643.1,81.4 644.1,81.4 645.1,81.3 646.1,81.3 647.0,81.3 648.0,81.3 649.0,81.2 650.0,81.2 651.0,81.2 652.0,81.1 653.0,81.1 654.0,81.1 655.0,81.1 656.0,81.0 657.0,81.0 658.0,81.0 659.0,80.9 660.0,80.9 661.0,80.9 662.0,80.8 663.0,80.8 664.0,80.8 665.0,80.7 666.0,80.7 666.9,80.7 667.9,80.7 668.9,80.6 669.9,80.6 670.9,80.6 671.9,80.5 672.9,80.5 673.9,80.5 674.9,80.4 675.9,80.4" fill="none" stroke="#5a5a5a" stroke-width="1.05" stroke-linejoin="round"/>
<polyline points="445.7,123.0 446.5,122.0 447.4,121.3 448.2,121.0 448.9,121.1 449.7,121.3 450.5,121.7 451.3,122.1 452.0,122.8 452.8,123.5 453.6,124.5 454.3,125.5 455.1,126.7 455.9,127.7 456.6,128.4 457.6,128.7 458.6,128.7 459.5,128.8 460.5,129.4 461.4,130.6 462.4,132.2 463.4,134.2 464.3,136.3 465.3,138.1 466.3,139.2 467.2,139.1 468.2,137.5 469.1,134.3 470.1,131.0 471.1,129.5 472.0,130.8 473.0,133.8 473.9,136.6 474.9,137.7 475.9,137.3 476.8,135.8 477.8,133.6 478.8,131.2 479.7,129.0 480.7,127.5 481.6,126.5 482.6,125.9 483.6,125.7 484.5,125.5 485.5,125.3 486.5,125.0 487.4,124.6 488.4,124.0 489.3,123.4 490.3,122.8 491.3,122.2 492.2,121.6 493.2,121.1 494.1,120.5 495.1,119.8 496.1,119.0 497.0,118.0 498.0,116.8 499.0,115.5 499.9,114.1 500.9,112.7 501.8,111.4 502.8,110.2 503.8,109.3 504.7,108.6 505.7,108.0 506.6,107.6 507.6,107.2 508.6,107.0 509.5,106.8 510.5,106.6 511.5,106.4 512.4,106.1 513.4,105.8 514.3,105.3 515.3,104.7 516.3,104.0 517.2,103.1 518.2,102.2 519.1,101.2 520.1,100.2 521.1,99.2 522.0,98.2 523.0,97.1 524.0,96.2 524.9,95.3 525.9,94.5 526.8,93.7 527.8,93.1 528.8,92.6 529.7,92.2 530.7,91.9 531.6,91.6 532.6,91.4 533.6,91.2 534.5,91.1 535.5,91.1 536.5,91.0 537.4,91.1 538.4,91.1 539.3,91.1 540.3,91.2 541.3,91.3 542.2,91.3 543.2,91.3 544.2,91.3 545.1,91.3 546.1,91.2 547.0,91.1 548.0,90.9 549.0,90.7 549.9,90.4 550.9,90.0 551.8,89.6 552.8,89.1 553.8,88.6 554.7,88.0 555.7,87.5 556.7,87.0 557.6,86.4 558.6,85.9 559.5,85.4 560.5,85.0 561.5,84.4 562.5,83.9 563.5,83.5 564.5,83.1 565.5,82.8 566.5,82.5 567.5,82.3 568.5,82.2 569.5,82.1 570.4,82.0 571.4,82.0 572.4,82.1 573.4,82.2 574.4,82.3 575.4,82.4 576.4,82.6 577.4,82.7 578.4,82.9 579.4,83.2 580.4,83.4 581.4,83.6 582.4,83.9 583.4,84.1 584.4,84.4 585.4,84.6 586.4,84.9 587.4,85.1 588.4,85.3 589.4,85.5 590.3,85.7 591.3,85.8 592.3,86.0 593.3,86.1 594.3,86.2 595.3,86.3 596.3,86.4 597.3,86.4 598.3,86.5 599.3,86.5 600.3,86.5 601.3,86.5 602.3,86.5 603.3,86.5 604.3,86.5 605.3,86.4 606.3,86.4 607.3,86.3 608.3,86.3 609.2,86.2 610.2,86.2 611.2,86.1 612.2,86.1 613.2,86.0 614.2,85.9 615.2,85.9 616.2,85.8 617.2,85.8 618.2,85.7 619.2,85.6 620.2,85.6 621.2,85.5 622.2,85.4 623.2,85.4 624.2,85.3 625.2,85.3 626.2,85.2 627.2,85.2 628.1,85.2 629.1,85.1 630.1,85.1 631.1,85.1 632.1,85.1 633.1,85.1 634.1,85.1 635.1,85.1 636.1,85.1 637.1,85.1 638.1,85.1 639.1,85.1 640.1,85.1 641.1,85.2 642.1,85.2 643.1,85.2 644.1,85.2 645.1,85.3 646.1,85.3 647.0,85.4 648.0,85.4 649.0,85.4 650.0,85.5 651.0,85.5 652.0,85.6 653.0,85.7 654.0,85.7 655.0,85.8 656.0,85.8 657.0,85.9 658.0,86.0 659.0,86.0 660.0,86.1 661.0,86.2 662.0,86.3 663.0,86.3 664.0,86.4 665.0,86.5 666.0,86.6 666.9,86.7 667.9,86.7 668.9,86.8 669.9,86.9 670.9,87.0 671.9,87.1 672.9,87.1 673.9,87.2 674.9,87.3 675.9,87.4" fill="none" stroke="#707070" stroke-width="1.05" stroke-linejoin="round"/>
<polyline points="445.7,161.6 446.5,163.8 447.4,164.5 448.2,163.1 448.9,160.9 449.7,159.7 450.5,160.3 451.3,161.5 452.0,161.0 452.8,157.6 453.6,152.5 454.3,147.7 455.1,144.9 455.9,143.9 456.6,144.7 457.6,147.2 458.6,150.0 459.5,150.9 460.5,148.9 461.4,145.9 462.4,144.6 463.4,146.7 464.3,150.1 465.3,152.0 466.3,150.0 467.2,145.9 468.2,142.2 469.1,140.9 470.1,141.4 471.1,142.8 472.0,144.3 473.0,145.3 473.9,145.8 474.9,145.4 475.9,144.4 476.8,142.8 477.8,140.8 478.8,138.5 479.7,136.3 480.7,134.1 481.6,132.1 482.6,130.6 483.6,129.5 484.5,129.1 485.5,129.6 486.5,130.8 487.4,132.7 488.4,134.8 489.3,136.6 490.3,138.0 491.3,138.4 492.2,137.6 493.2,135.8 494.1,133.4 495.1,130.5 496.1,127.6 497.0,125.0 498.0,122.8 499.0,121.1 499.9,119.7 500.9,118.6 501.8,117.5 502.8,116.4 503.8,115.3 504.7,114.0 505.7,112.7 506.6,111.3 507.6,109.8 508.6,108.4 509.5,106.9 510.5,105.3 511.5,103.9 512.4,102.4 513.4,100.9 514.3,99.6 515.3,98.3 516.3,97.0 517.2,95.8 518.2,94.7 519.1,93.7 520.1,92.7 521.1,91.8 522.0,90.9 523.0,90.1 524.0,89.3 524.9,88.6 525.9,87.9 526.8,87.3 527.8,86.7 528.8,86.2 529.7,85.7 530.7,85.3 531.6,84.9 532.6,84.5 533.6,84.2 534.5,84.0 535.5,83.8 536.5,83.6 537.4,83.5 538.4,83.4 539.3,83.4 540.3,83.4 541.3,83.5 542.2,83.5 543.2,83.6 544.2,83.8 545.1,83.9 546.1,84.1 547.0,84.2 548.0,84.4 549.0,84.6 549.9,84.7 550.9,84.9 551.8,85.0 552.8,85.2 553.8,85.3 554.7,85.4 555.7,85.5 556.7,85.6 557.6,85.7 558.6,85.8 559.5,85.9 560.5,86.0 561.5,86.1 562.5,86.2 563.5,86.3 564.5,86.3 565.5,86.4 566.5,86.4 567.5,86.4 568.5,86.5 569.5,86.5 570.4,86.5 571.4,86.5 572.4,86.4 573.4,86.4 574.4,86.4 575.4,86.4 576.4,86.4 577.4,86.3 578.4,86.3 579.4,86.3 580.4,86.2 581.4,86.2 582.4,86.2 583.4,86.1 584.4,86.1 585.4,86.1 586.4,86.0 587.4,86.0 588.4,86.0 589.4,86.0 590.3,86.0 591.3,86.0 592.3,86.0 593.3,86.0 594.3,86.0 595.3,86.0 596.3,86.0 597.3,86.1 598.3,86.1 599.3,86.1 600.3,86.1 601.3,86.2 602.3,86.2 603.3,86.3 604.3,86.3 605.3,86.4 606.3,86.4 607.3,86.4 608.3,86.5 609.2,86.5 610.2,86.6 611.2,86.6 612.2,86.7 613.2,86.7 614.2,86.8 615.2,86.8 616.2,86.8 617.2,86.9 618.2,86.9 619.2,87.0 620.2,87.0 621.2,87.1 622.2,87.1 623.2,87.2 624.2,87.2 625.2,87.3 626.2,87.3 627.2,87.3 628.1,87.4 629.1,87.4 630.1,87.4 631.1,87.4 632.1,87.4 633.1,87.4 634.1,87.4 635.1,87.4 636.1,87.4 637.1,87.4 638.1,87.4 639.1,87.4 640.1,87.4 641.1,87.4 642.1,87.4 643.1,87.4 644.1,87.3 645.1,87.3 646.1,87.3 647.0,87.2 648.0,87.2 649.0,87.2 650.0,87.1 651.0,87.1 652.0,87.1 653.0,87.0 654.0,87.0 655.0,86.9 656.0,86.9 657.0,86.8 658.0,86.8 659.0,86.7 660.0,86.7 661.0,86.6 662.0,86.6 663.0,86.5 664.0,86.4 665.0,86.4 666.0,86.3 666.9,86.3 667.9,86.2 668.9,86.1 669.9,86.1 670.9,86.0 671.9,86.0 672.9,85.9 673.9,85.8 674.9,85.8 675.9,85.7" fill="none" stroke="#b0b0b0" stroke-width="1.05" stroke-linejoin="round"/>
<polyline points="445.7,117.7 446.5,115.5 447.4,114.8 448.2,116.2 448.9,118.2 449.7,119.3 450.5,118.3 451.3,115.8 452.0,112.8 452.8,110.4 453.6,109.0 454.3,108.8 455.1,109.8 455.9,110.9 456.6,110.5 457.6,106.9 458.6,103.1 459.5,103.3 460.5,110.1 461.4,118.8 462.4,123.0 463.4,118.3 464.3,109.6 465.3,103.6 466.3,105.4 467.2,112.2 468.2,119.3 469.1,122.9 470.1,123.4 471.1,121.9 472.0,119.6 473.0,117.0 473.9,114.6 474.9,112.7 475.9,111.4 476.8,110.8 477.8,110.8 478.8,111.6 479.7,113.1 480.7,115.4 481.6,118.1 482.6,120.9 483.6,123.3 484.5,124.9 485.5,125.5 486.5,124.6 487.4,122.7 488.4,120.2 489.3,117.4 490.3,114.9 491.3,113.0 492.2,112.0 493.2,111.8 494.1,112.0 495.1,112.3 496.1,112.3 497.0,111.9 498.0,110.6 499.0,108.8 499.9,106.6 500.9,104.4 501.8,102.4 502.8,100.9 503.8,100.0 504.7,99.8 505.7,100.2 506.6,100.9 507.6,102.0 508.6,103.3 509.5,104.8 510.5,106.2 511.5,107.5 512.4,108.7 513.4,109.5 514.3,109.9 515.3,109.9 516.3,109.4 517.2,108.5 518.2,107.3 519.1,105.8 520.1,104.2 521.1,102.5 522.0,100.7 523.0,98.9 524.0,97.3 524.9,95.7 525.9,94.5 526.8,93.4 527.8,92.7 528.8,92.2 529.7,91.8 530.7,91.6 531.6,91.6 532.6,91.6 533.6,91.7 534.5,91.7 535.5,91.8 536.5,91.8 537.4,91.7 538.4,91.5 539.3,91.2 540.3,90.8 541.3,90.3 542.2,89.8 543.2,89.2 544.2,88.7 545.1,88.1 546.1,87.5 547.0,87.0 548.0,86.6 549.0,86.2 549.9,85.9 550.9,85.7 551.8,85.6 552.8,85.5 553.8,85.5 554.7,85.6 555.7,85.7 556.7,85.8 557.6,85.9 558.6,86.1 559.5,86.2 560.5,86.4 561.5,86.6 562.5,86.8 563.5,86.9 564.5,87.1 565.5,87.2 566.5,87.3 567.5,87.4 568.5,87.5 569.5,87.5 570.4,87.6 571.4,87.6 572.4,87.7 573.4,87.7 574.4,87.7 575.4,87.7 576.4,87.7 577.4,87.7 578.4,87.7 579.4,87.7 580.4,87.7 581.4,87.7 582.4,87.7 583.4,87.7 584.4,87.6 585.4,87.6 586.4,87.6 587.4,87.6 588.4,87.6 589.4,87.6 590.3,87.6 591.3,87.6 592.3,87.6 593.3,87.6 594.3,87.7 595.3,87.7 596.3,87.7 597.3,87.8 598.3,87.8 599.3,87.8 600.3,87.9 601.3,87.9 602.3,88.0 603.3,88.1 604.3,88.1 605.3,88.2 606.3,88.3 607.3,88.3 608.3,88.4 609.2,88.5 610.2,88.6 611.2,88.6 612.2,88.7 613.2,88.8 614.2,88.9 615.2,89.0 616.2,89.0 617.2,89.1 618.2,89.2 619.2,89.3 620.2,89.4 621.2,89.4 622.2,89.5 623.2,89.6 624.2,89.7 625.2,89.7 626.2,89.8 627.2,89.9 628.1,90.0 629.1,90.0 630.1,90.1 631.1,90.2 632.1,90.2 633.1,90.3 634.1,90.4 635.1,90.5 636.1,90.5 637.1,90.6 638.1,90.7 639.1,90.8 640.1,90.8 641.1,90.9 642.1,91.0 643.1,91.0 644.1,91.1 645.1,91.2 646.1,91.2 647.0,91.3 648.0,91.4 649.0,91.5 650.0,91.5 651.0,91.6 652.0,91.7 653.0,91.7 654.0,91.8 655.0,91.9 656.0,91.9 657.0,92.0 658.0,92.1 659.0,92.1 660.0,92.2 661.0,92.3 662.0,92.4 663.0,92.4 664.0,92.5 665.0,92.6 666.0,92.6 666.9,92.7 667.9,92.8 668.9,92.8 669.9,92.9 670.9,93.0 671.9,93.0 672.9,93.1 673.9,93.2 674.9,93.2 675.9,93.3" fill="none" stroke="#3a3a3a" stroke-width="1.05" stroke-linejoin="round"/>
<polyline points="445.7,108.5 446.5,105.5 447.4,104.6 448.2,106.5 448.9,108.8 449.7,108.8 450.5,104.7 451.3,99.2 452.0,96.2 452.8,98.5 453.6,103.7 454.3,108.4 455.1,110.0 455.9,109.0 456.6,106.8 457.6,104.3 458.6,103.4 459.5,105.6 460.5,111.5 461.4,118.8 462.4,124.2 463.4,125.6 464.3,124.1 465.3,121.5 466.3,119.6 467.2,118.4 468.2,117.8 469.1,117.7 470.1,118.1 471.1,118.9 472.0,120.2 473.0,121.8 473.9,123.2 474.9,124.3 475.9,125.1 476.8,125.7 477.8,126.0 478.8,126.1 479.7,126.1 480.7,126.1 481.6,125.9 482.6,125.6 483.6,125.2 484.5,124.7 485.5,124.1 486.5,123.2 487.4,122.3 488.4,121.3 489.3,120.3 490.3,119.3 491.3,118.4 492.2,117.7 493.2,117.0 494.1,116.3 495.1,115.7 496.1,115.0 497.0,114.4 498.0,113.6 499.0,112.8 499.9,111.9 500.9,110.9 501.8,110.0 502.8,109.1 503.8,108.1 504.7,107.2 505.7,106.3 506.6,105.5 507.6,104.7 508.6,103.9 509.5,103.2 510.5,102.5 511.5,101.9 512.4,101.4 513.4,100.9 514.3,100.5 515.3,100.2 516.3,100.0 517.2,99.8 518.2,99.7 519.1,99.6 520.1,99.5 521.1,99.5 522.0,99.4 523.0,99.2 524.0,99.1 524.9,98.9 525.9,98.6 526.8,98.3 527.8,97.8 528.8,97.4 529.7,96.9 530.7,96.3 531.6,95.8 532.6,95.3 533.6,94.8 534.5,94.4 535.5,94.0 536.5,93.6 537.4,93.4 538.4,93.3 539.3,93.2 540.3,93.2 541.3,93.3 542.2,93.4 543.2,93.6 544.2,93.7 545.1,93.9 546.1,94.0 547.0,94.0 548.0,94.0 549.0,94.0 549.9,93.8 550.9,93.6 551.8,93.3 552.8,92.9 553.8,92.5 554.7,92.0 555.7,91.6 556.7,91.1 557.6,90.7 558.6,90.2 559.5,89.8 560.5,89.4 561.5,88.9 562.5,88.4 563.5,88.0 564.5,87.7 565.5,87.5 566.5,87.3 567.5,87.2 568.5,87.1 569.5,87.0 570.4,87.1 571.4,87.1 572.4,87.2 573.4,87.4 574.4,87.5 575.4,87.7 576.4,87.9 577.4,88.2 578.4,88.5 579.4,88.7 580.4,89.0 581.4,89.3 582.4,89.6 583.4,90.0 584.4,90.3 585.4,90.6 586.4,90.9 587.4,91.2 588.4,91.4 589.4,91.7 590.3,91.9 591.3,92.2 592.3,92.4 593.3,92.6 594.3,92.7 595.3,92.9 596.3,93.0 597.3,93.1 598.3,93.2 599.3,93.3 600.3,93.4 601.3,93.5 602.3,93.5 603.3,93.6 604.3,93.6 605.3,93.6 606.3,93.6 607.3,93.6 608.3,93.6 609.2,93.6 610.2,93.6 611.2,93.6 612.2,93.5 613.2,93.5 614.2,93.5 615.2,93.4 616.2,93.4 617.2,93.3 618.2,93.3 619.2,93.3 620.2,93.3 621.2,93.2 622.2,93.2 623.2,93.2 624.2,93.2 625.2,93.2 626.2,93.2 627.2,93.2 628.1,93.1 629.1,93.1 630.1,93.1 631.1,93.1 632.1,93.1 633.1,93.1 634.1,93.1 635.1,93.1 636.1,93.1 637.1,93.1 638.1,93.1 639.1,93.1 640.1,93.1 641.1,93.1 642.1,93.1 643.1,93.1 644.1,93.1 645.1,93.1 646.1,93.1 647.0,93.1 648.0,93.1 649.0,93.1 650.0,93.1 651.0,93.1 652.0,93.1 653.0,93.1 654.0,93.1 655.0,93.1 656.0,93.1 657.0,93.1 658.0,93.1 659.0,93.1 660.0,93.2 661.0,93.2 662.0,93.2 663.0,93.2 664.0,93.2 665.0,93.2 666.0,93.2 666.9,93.2 667.9,93.2 668.9,93.2 669.9,93.2 670.9,93.3 671.9,93.3 672.9,93.3 673.9,93.3 674.9,93.3 675.9,93.3" fill="none" stroke="#5e5e5e" stroke-width="1.05" stroke-linejoin="round"/>
<polyline points="445.7,105.9 446.5,106.3 447.4,105.6 448.2,103.4 448.9,101.0 449.7,99.5 450.5,100.0 451.3,101.1 452.0,100.9 452.8,98.5 453.6,95.6 454.3,94.7 455.1,97.5 455.9,102.2 456.6,106.0 457.6,107.0 458.6,105.1 459.5,102.9 460.5,102.4 461.4,103.2 462.4,104.0 463.4,104.3 464.3,104.3 465.3,104.9 466.3,106.5 467.2,109.4 468.2,113.5 469.1,118.6 470.1,123.0 471.1,125.1 472.0,123.5 473.0,119.7 473.9,115.9 474.9,113.7 475.9,113.1 476.8,113.6 477.8,114.8 478.8,116.2 479.7,117.4 480.7,118.0 481.6,118.1 482.6,117.8 483.6,117.3 484.5,116.9 485.5,116.6 486.5,116.6 487.4,116.8 488.4,117.2 489.3,117.5 490.3,117.6 491.3,117.5 492.2,117.1 493.2,116.3 494.1,115.2 495.1,114.0 496.1,112.7 497.0,111.4 498.0,110.1 499.0,108.9 499.9,107.8 500.9,106.8 501.8,105.9 502.8,105.1 503.8,104.4 504.7,103.8 505.7,103.4 506.6,103.0 507.6,102.7 508.6,102.5 509.5,102.3 510.5,102.1 511.5,101.9 512.4,101.8 513.4,101.6 514.3,101.4 515.3,101.2 516.3,100.9 517.2,100.6 518.2,100.2 519.1,99.9 520.1,99.5 521.1,99.1 522.0,98.6 523.0,98.2 524.0,97.7 524.9,97.3 525.9,96.8 526.8,96.4 527.8,96.0 528.8,95.6 529.7,95.2 530.7,94.8 531.6,94.5 532.6,94.3 533.6,94.1 534.5,94.0 535.5,94.0 536.5,94.0 537.4,94.2 538.4,94.4 539.3,94.7 540.3,95.1 541.3,95.6 542.2,96.1 543.2,96.5 544.2,97.0 545.1,97.5 546.1,97.9 547.0,98.2 548.0,98.4 549.0,98.6 549.9,98.6 550.9,98.6 551.8,98.4 552.8,98.2 553.8,97.9 554.7,97.5 555.7,97.1 556.7,96.7 557.6,96.2 558.6,95.8 559.5,95.4 560.5,95.0 561.5,94.5 562.5,94.0 563.5,93.6 564.5,93.3 565.5,93.0 566.5,92.8 567.5,92.6 568.5,92.5 569.5,92.4 570.4,92.3 571.4,92.3 572.4,92.3 573.4,92.4 574.4,92.4 575.4,92.5 576.4,92.7 577.4,92.8 578.4,92.9 579.4,93.1 580.4,93.3 581.4,93.5 582.4,93.7 583.4,93.9 584.4,94.1 585.4,94.3 586.4,94.5 587.4,94.7 588.4,94.8 589.4,95.0 590.3,95.1 591.3,95.3 592.3,95.4 593.3,95.5 594.3,95.6 595.3,95.6 596.3,95.7 597.3,95.7 598.3,95.8 599.3,95.8 600.3,95.8 601.3,95.8 602.3,95.8 603.3,95.8 604.3,95.8 605.3,95.7 606.3,95.7 607.3,95.7 608.3,95.6 609.2,95.6 610.2,95.5 611.2,95.5 612.2,95.4 613.2,95.4 614.2,95.3 615.2,95.3 616.2,95.2 617.2,95.2 618.2,95.1 619.2,95.0 620.2,95.0 621.2,94.9 622.2,94.9 623.2,94.8 624.2,94.8 625.2,94.7 626.2,94.7 627.2,94.7 628.1,94.6 629.1,94.6 630.1,94.6 631.1,94.5 632.1,94.5 633.1,94.5 634.1,94.5 635.1,94.5 636.1,94.5 637.1,94.4 638.1,94.4 639.1,94.4 640.1,94.4 641.1,94.4 642.1,94.4 643.1,94.4 644.1,94.4 645.1,94.4 646.1,94.4 647.0,94.4 648.0,94.4 649.0,94.5 650.0,94.5 651.0,94.5 652.0,94.5 653.0,94.5 654.0,94.5 655.0,94.5 656.0,94.6 657.0,94.6 658.0,94.6 659.0,94.6 660.0,94.6 661.0,94.7 662.0,94.7 663.0,94.7 664.0,94.7 665.0,94.8 666.0,94.8 666.9,94.8 667.9,94.9 668.9,94.9 669.9,94.9 670.9,94.9 671.9,95.0 672.9,95.0 673.9,95.0 674.9,95.1 675.9,95.1" fill="none" stroke="#b2b2b2" stroke-width="1.05" stroke-linejoin="round"/>
<polyline points="445.7,90.0 446.5,94.1 447.4,95.6 448.2,93.4 448.9,90.0 449.7,88.3 450.5,90.4 451.3,94.9 452.0,99.8 452.8,103.1 453.6,105.0 454.3,106.1 455.1,107.0 455.9,107.4 456.6,107.3 457.6,106.2 458.6,104.1 459.5,101.5 460.5,98.5 461.4,95.4 462.4,92.5 463.4,90.0 464.3,88.7 465.3,89.4 466.3,92.6 467.2,96.6 468.2,99.7 469.1,100.3 470.1,99.4 471.1,98.0 472.0,97.3 473.0,97.0 473.9,96.9 474.9,96.7 475.9,96.2 476.8,95.7 477.8,95.2 478.8,94.8 479.7,94.5 480.7,94.5 481.6,94.6 482.6,94.8 483.6,95.0 484.5,95.2 485.5,95.2 486.5,95.0 487.4,94.7 488.4,94.3 489.3,93.8 490.3,93.4 491.3,93.1 492.2,92.9 493.2,92.8 494.1,92.9 495.1,93.0 496.1,93.2 497.0,93.4 498.0,93.6 499.0,93.8 499.9,94.0 500.9,94.1 501.8,94.3 502.8,94.5 503.8,94.7 504.7,94.9 505.7,95.1 506.6,95.2 507.6,95.4 508.6,95.6 509.5,95.8 510.5,95.9 511.5,96.0 512.4,96.2 513.4,96.3 514.3,96.3 515.3,96.4 516.3,96.4 517.2,96.5 518.2,96.5 519.1,96.5 520.1,96.4 521.1,96.4 522.0,96.4 523.0,96.3 524.0,96.2 524.9,96.2 525.9,96.1 526.8,96.0 527.8,96.0 528.8,95.9 529.7,95.8 530.7,95.8 531.6,95.7 532.6,95.6 533.6,95.5 534.5,95.5 535.5,95.4 536.5,95.4 537.4,95.3 538.4,95.2 539.3,95.2 540.3,95.1 541.3,95.1 542.2,95.1 543.2,95.1 544.2,95.1 545.1,95.1 546.1,95.2 547.0,95.3 548.0,95.4 549.0,95.5 549.9,95.7 550.9,95.9 551.8,96.2 552.8,96.4 553.8,96.7 554.7,96.9 555.7,97.2 556.7,97.5 557.6,97.8 558.6,98.0 559.5,98.3 560.5,98.5 561.5,98.8 562.5,99.1 563.5,99.3 564.5,99.5 565.5,99.6 566.5,99.7 567.5,99.8 568.5,99.9 569.5,99.9 570.4,99.9 571.4,99.9 572.4,99.9 573.4,99.9 574.4,99.8 575.4,99.7 576.4,99.6 577.4,99.5 578.4,99.4 579.4,99.3 580.4,99.2 581.4,99.0 582.4,98.9 583.4,98.7 584.4,98.6 585.4,98.5 586.4,98.3 587.4,98.2 588.4,98.1 589.4,98.0 590.3,97.9 591.3,97.8 592.3,97.7 593.3,97.7 594.3,97.6 595.3,97.5 596.3,97.5 597.3,97.5 598.3,97.4 599.3,97.4 600.3,97.4 601.3,97.4 602.3,97.4 603.3,97.4 604.3,97.4 605.3,97.4 606.3,97.5 607.3,97.5 608.3,97.5 609.2,97.6 610.2,97.6 611.2,97.7 612.2,97.7 613.2,97.7 614.2,97.8 615.2,97.8 616.2,97.9 617.2,97.9 618.2,98.0 619.2,98.0 620.2,98.1 621.2,98.1 622.2,98.2 623.2,98.2 624.2,98.2 625.2,98.3 626.2,98.3 627.2,98.3 628.1,98.4 629.1,98.4 630.1,98.4 631.1,98.5 632.1,98.5 633.1,98.6 634.1,98.6 635.1,98.6 636.1,98.7 637.1,98.7 638.1,98.7 639.1,98.8 640.1,98.8 641.1,98.8 642.1,98.8 643.1,98.9 644.1,98.9 645.1,98.9 646.1,99.0 647.0,99.0 648.0,99.0 649.0,99.1 650.0,99.1 651.0,99.1 652.0,99.1 653.0,99.2 654.0,99.2 655.0,99.2 656.0,99.3 657.0,99.3 658.0,99.3 659.0,99.3 660.0,99.4 661.0,99.4 662.0,99.4 663.0,99.5 664.0,99.5 665.0,99.5 666.0,99.5 666.9,99.6 667.9,99.6 668.9,99.6 669.9,99.6 670.9,99.7 671.9,99.7 672.9,99.7 673.9,99.7 674.9,99.8 675.9,99.8" fill="none" stroke="#333333" stroke-width="1.05" stroke-linejoin="round"/>
<polyline points="445.7,137.6 446.5,131.8 447.4,128.3 448.2,128.0 448.9,128.2 449.7,125.7 450.5,118.6 451.3,110.5 452.0,106.1 452.8,108.6 453.6,114.7 454.3,119.3 455.1,119.0 455.9,115.9 456.6,113.7 457.6,115.9 458.6,121.2 459.5,126.0 460.5,127.4 461.4,126.2 462.4,124.2 463.4,123.0 464.3,122.8 465.3,123.5 466.3,125.2 467.2,127.6 468.2,130.4 469.1,133.3 470.1,135.5 471.1,135.9 472.0,134.0 473.0,130.9 473.9,127.8 474.9,126.1 475.9,125.5 476.8,125.8 477.8,126.6 478.8,127.6 479.7,128.4 480.7,128.8 481.6,128.7 482.6,128.3 483.6,127.8 484.5,127.2 485.5,126.7 486.5,126.3 487.4,126.0 488.4,125.7 489.3,125.4 490.3,125.1 491.3,124.6 492.2,123.9 493.2,123.0 494.1,121.9 495.1,120.8 496.1,119.5 497.0,118.2 498.0,116.9 499.0,115.5 499.9,114.1 500.9,112.7 501.8,111.4 502.8,110.1 503.8,108.9 504.7,107.8 505.7,106.7 506.6,105.6 507.6,104.7 508.6,103.8 509.5,102.9 510.5,102.2 511.5,101.5 512.4,100.9 513.4,100.3 514.3,99.8 515.3,99.4 516.3,99.1 517.2,98.8 518.2,98.5 519.1,98.4 520.1,98.2 521.1,98.1 522.0,98.1 523.0,98.1 524.0,98.1 524.9,98.1 525.9,98.1 526.8,98.2 527.8,98.2 528.8,98.3 529.7,98.4 530.7,98.5 531.6,98.5 532.6,98.6 533.6,98.6 534.5,98.7 535.5,98.7 536.5,98.7 537.4,98.7 538.4,98.7 539.3,98.6 540.3,98.5 541.3,98.5 542.2,98.4 543.2,98.2 544.2,98.1 545.1,98.0 546.1,97.9 547.0,97.8 548.0,97.6 549.0,97.5 549.9,97.4 550.9,97.4 551.8,97.3 552.8,97.2 553.8,97.2 554.7,97.1 555.7,97.1 556.7,97.1 557.6,97.1 558.6,97.0 559.5,97.0 560.5,97.0 561.5,97.0 562.5,97.0 563.5,96.9 564.5,96.9 565.5,96.9 566.5,96.9 567.5,96.9 568.5,96.9 569.5,96.9 570.4,96.9 571.4,96.9 572.4,96.9 573.4,96.9 574.4,96.9 575.4,96.9 576.4,96.9 577.4,96.9 578.4,96.9 579.4,96.9 580.4,96.9 581.4,96.9 582.4,96.9 583.4,97.0 584.4,97.0 585.4,97.0 586.4,97.0 587.4,97.0 588.4,97.0 589.4,97.0 590.3,97.0 591.3,97.0 592.3,97.0 593.3,97.0 594.3,97.0 595.3,97.0 596.3,97.0 597.3,97.0 598.3,97.0 599.3,97.0 600.3,97.0 601.3,97.0 602.3,97.0 603.3,97.0 604.3,97.1 605.3,97.1 606.3,97.1 607.3,97.1 608.3,97.1 609.2,97.1 610.2,97.2 611.2,97.2 612.2,97.2 613.2,97.3 614.2,97.3 615.2,97.3 616.2,97.4 617.2,97.4 618.2,97.5 619.2,97.5 620.2,97.5 621.2,97.5 622.2,97.5 623.2,97.6 624.2,97.6 625.2,97.6 626.2,97.7 627.2,97.7 628.1,97.8 629.1,97.8 630.1,97.9 631.1,97.9 632.1,98.0 633.1,98.1 634.1,98.1 635.1,98.2 636.1,98.3 637.1,98.4 638.1,98.5 639.1,98.5 640.1,98.6 641.1,98.7 642.1,98.8 643.1,98.9 644.1,99.0 645.1,99.1 646.1,99.2 647.0,99.4 648.0,99.5 649.0,99.6 650.0,99.7 651.0,99.8 652.0,100.0 653.0,100.1 654.0,100.2 655.0,100.4 656.0,100.5 657.0,100.6 658.0,100.8 659.0,100.9 660.0,101.0 661.0,101.2 662.0,101.3 663.0,101.5 664.0,101.6 665.0,101.8 666.0,101.9 666.9,102.0 667.9,102.2 668.9,102.3 669.9,102.5 670.9,102.6 671.9,102.8 672.9,102.9 673.9,103.1 674.9,103.2 675.9,103.4" fill="none" stroke="#777777" stroke-width="1.05" stroke-linejoin="round"/>
<polyline points="445.7,121.0 446.5,122.9 447.4,123.1 448.2,120.7 448.9,117.0 449.7,113.6 450.5,111.6 451.3,111.1 452.0,111.7 452.8,113.1 453.6,114.6 454.3,115.6 455.1,115.5 455.9,114.4 456.6,112.8 457.6,110.5 458.6,108.7 459.5,108.3 460.5,109.8 461.4,111.9 462.4,112.9 463.4,111.6 464.3,108.8 465.3,105.7 466.3,103.4 467.2,102.4 468.2,103.1 469.1,105.6 470.1,108.6 471.1,110.3 472.0,109.8 473.0,107.9 473.9,106.2 474.9,105.9 475.9,106.7 476.8,108.4 477.8,110.5 478.8,112.6 479.7,114.2 480.7,115.2 481.6,115.4 482.6,115.3 483.6,114.8 484.5,114.3 485.5,113.9 486.5,113.8 487.4,113.9 488.4,114.3 489.3,115.0 490.3,115.9 491.3,117.1 492.2,118.4 493.2,119.7 494.1,120.8 495.1,121.5 496.1,121.7 497.0,121.0 498.0,119.5 499.0,117.3 499.9,114.6 500.9,111.8 501.8,109.1 502.8,106.8 503.8,105.1 504.7,103.9 505.7,103.3 506.6,103.0 507.6,103.1 508.6,103.5 509.5,104.1 510.5,104.7 511.5,105.5 512.4,106.1 513.4,106.7 514.3,107.0 515.3,107.1 516.3,107.0 517.2,106.7 518.2,106.2 519.1,105.5 520.1,104.8 521.1,104.0 522.0,103.1 523.0,102.3 524.0,101.5 524.9,100.8 525.9,100.2 526.8,99.7 527.8,99.4 528.8,99.1 529.7,99.0 530.7,99.0 531.6,99.0 532.6,99.0 533.6,99.1 534.5,99.2 535.5,99.3 536.5,99.4 537.4,99.5 538.4,99.6 539.3,99.6 540.3,99.5 541.3,99.5 542.2,99.4 543.2,99.4 544.2,99.3 545.1,99.3 546.1,99.2 547.0,99.2 548.0,99.2 549.0,99.3 549.9,99.4 550.9,99.6 551.8,99.8 552.8,100.0 553.8,100.2 554.7,100.5 555.7,100.7 556.7,101.0 557.6,101.3 558.6,101.5 559.5,101.8 560.5,102.0 561.5,102.3 562.5,102.6 563.5,102.8 564.5,103.0 565.5,103.1 566.5,103.3 567.5,103.4 568.5,103.4 569.5,103.5 570.4,103.5 571.4,103.5 572.4,103.5 573.4,103.4 574.4,103.3 575.4,103.3 576.4,103.2 577.4,103.1 578.4,103.0 579.4,102.8 580.4,102.7 581.4,102.6 582.4,102.5 583.4,102.3 584.4,102.2 585.4,102.1 586.4,101.9 587.4,101.8 588.4,101.7 589.4,101.6 590.3,101.5 591.3,101.4 592.3,101.3 593.3,101.3 594.3,101.2 595.3,101.2 596.3,101.1 597.3,101.1 598.3,101.1 599.3,101.1 600.3,101.1 601.3,101.1 602.3,101.1 603.3,101.1 604.3,101.1 605.3,101.1 606.3,101.1 607.3,101.2 608.3,101.2 609.2,101.2 610.2,101.3 611.2,101.3 612.2,101.4 613.2,101.4 614.2,101.4 615.2,101.5 616.2,101.5 617.2,101.6 618.2,101.6 619.2,101.6 620.2,101.7 621.2,101.7 622.2,101.8 623.2,101.8 624.2,101.8 625.2,101.9 626.2,101.9 627.2,101.9 628.1,101.9 629.1,102.0 630.1,102.0 631.1,102.0 632.1,102.0 633.1,102.0 634.1,102.1 635.1,102.1 636.1,102.1 637.1,102.1 638.1,102.1 639.1,102.1 640.1,102.1 641.1,102.1 642.1,102.1 643.1,102.1 644.1,102.1 645.1,102.1 646.1,102.1 647.0,102.1 648.0,102.1 649.0,102.1 650.0,102.1 651.0,102.1 652.0,102.1 653.0,102.0 654.0,102.0 655.0,102.0 656.0,102.0 657.0,102.0 658.0,102.0 659.0,102.0 660.0,101.9 661.0,101.9 662.0,101.9 663.0,101.9 664.0,101.9 665.0,101.8 666.0,101.8 666.9,101.8 667.9,101.8 668.9,101.8 669.9,101.7 670.9,101.7 671.9,101.7 672.9,101.7 673.9,101.6 674.9,101.6 675.9,101.6" fill="none" stroke="#aaaaaa" stroke-width="1.05" stroke-linejoin="round"/>
<polyline points="445.7,126.9 446.5,132.0 447.4,135.3 448.2,135.7 448.9,134.9 449.7,134.5 450.5,135.5 451.3,136.7 452.0,136.2 452.8,132.8 453.6,128.5 454.3,126.1 455.1,127.5 455.9,131.1 456.6,134.4 457.6,135.5 458.6,134.8 459.5,134.7 460.5,137.1 461.4,140.4 462.4,142.4 463.4,141.6 464.3,139.0 465.3,136.1 466.3,134.2 467.2,133.1 468.2,132.4 469.1,131.5 470.1,130.4 471.1,128.9 472.0,127.1 473.0,125.4 473.9,124.1 474.9,123.5 475.9,123.7 476.8,124.3 477.8,125.2 478.8,126.3 479.7,127.3 480.7,128.1 481.6,128.7 482.6,129.0 483.6,129.1 484.5,128.8 485.5,128.3 486.5,127.5 487.4,126.6 488.4,125.7 489.3,125.1 490.3,124.9 491.3,125.3 492.2,126.5 493.2,128.2 494.1,130.0 495.1,131.7 496.1,132.9 497.0,133.4 498.0,132.8 499.0,131.5 499.9,129.5 500.9,127.3 501.8,125.0 502.8,122.9 503.8,121.3 504.7,120.1 505.7,119.3 506.6,118.8 507.6,118.6 508.6,118.6 509.5,118.8 510.5,119.1 511.5,119.5 512.4,119.9 513.4,120.2 514.3,120.4 515.3,120.5 516.3,120.5 517.2,120.3 518.2,120.0 519.1,119.7 520.1,119.2 521.1,118.7 522.0,118.1 523.0,117.6 524.0,117.0 524.9,116.4 525.9,115.8 526.8,115.2 527.8,114.7 528.8,114.2 529.7,113.7 530.7,113.3 531.6,112.9 532.6,112.5 533.6,112.2 534.5,111.9 535.5,111.6 536.5,111.3 537.4,111.1 538.4,110.8 539.3,110.6 540.3,110.5 541.3,110.3 542.2,110.2 543.2,110.0 544.2,109.9 545.1,109.7 546.1,109.6 547.0,109.4 548.0,109.2 549.0,109.0 549.9,108.8 550.9,108.6 551.8,108.3 552.8,108.1 553.8,107.8 554.7,107.5 555.7,107.2 556.7,107.0 557.6,106.7 558.6,106.5 559.5,106.2 560.5,106.0 561.5,105.7 562.5,105.5 563.5,105.2 564.5,105.1 565.5,104.9 566.5,104.8 567.5,104.6 568.5,104.6 569.5,104.5 570.4,104.4 571.4,104.4 572.4,104.4 573.4,104.4 574.4,104.4 575.4,104.5 576.4,104.5 577.4,104.6 578.4,104.6 579.4,104.7 580.4,104.8 581.4,104.9 582.4,104.9 583.4,105.0 584.4,105.1 585.4,105.2 586.4,105.3 587.4,105.4 588.4,105.4 589.4,105.5 590.3,105.6 591.3,105.6 592.3,105.6 593.3,105.7 594.3,105.7 595.3,105.7 596.3,105.7 597.3,105.7 598.3,105.7 599.3,105.7 600.3,105.7 601.3,105.7 602.3,105.7 603.3,105.6 604.3,105.6 605.3,105.6 606.3,105.6 607.3,105.5 608.3,105.5 609.2,105.5 610.2,105.4 611.2,105.4 612.2,105.4 613.2,105.3 614.2,105.3 615.2,105.3 616.2,105.2 617.2,105.2 618.2,105.2 619.2,105.2 620.2,105.1 621.2,105.1 622.2,105.0 623.2,105.0 624.2,105.0 625.2,104.9 626.2,104.9 627.2,104.9 628.1,104.9 629.1,104.9 630.1,104.9 631.1,104.9 632.1,104.9 633.1,104.9 634.1,104.9 635.1,104.9 636.1,104.9 637.1,104.9 638.1,104.9 639.1,104.9 640.1,104.9 641.1,105.0 642.1,105.0 643.1,105.0 644.1,105.1 645.1,105.1 646.1,105.1 647.0,105.2 648.0,105.2 649.0,105.3 650.0,105.3 651.0,105.3 652.0,105.4 653.0,105.4 654.0,105.5 655.0,105.5 656.0,105.6 657.0,105.7 658.0,105.7 659.0,105.8 660.0,105.8 661.0,105.9 662.0,106.0 663.0,106.0 664.0,106.1 665.0,106.1 666.0,106.2 666.9,106.3 667.9,106.3 668.9,106.4 669.9,106.5 670.9,106.6 671.9,106.6 672.9,106.7 673.9,106.8 674.9,106.8 675.9,106.9" fill="none" stroke="#3a3a3a" stroke-width="1.05" stroke-linejoin="round"/>
<polyline points="445.4,68.8 446.3,63.8 447.3,59.4 448.2,55.9 449.2,53.9 450.1,54.0 451.0,56.3 452.0,60.1 452.9,64.5 453.9,68.3 454.8,70.6 455.6,70.8 456.5,69.7 457.3,68.0 458.2,66.3 459.0,65.3 459.8,65.5 460.6,66.7 461.5,68.5 462.3,70.5 463.1,72.3 464.0,73.7 464.9,74.7 465.7,75.6 466.6,76.6 467.5,78.0 468.5,80.2 469.5,82.6 470.5,84.8 471.5,86.0 472.5,85.9 473.5,85.0 474.5,83.6 475.5,82.4 476.5,82.0 477.5,82.7 478.5,84.2 479.5,86.2 480.5,88.3 481.5,90.0 482.5,91.1 483.5,91.5 484.5,91.4 485.5,90.9 486.5,90.1 487.5,89.1 488.5,88.0 489.5,86.8 490.5,85.8 491.5,85.0 492.4,84.5 493.4,84.3 494.3,84.2 495.3,84.4 496.2,84.7 497.1,85.1 498.1,85.6 499.0,86.1 500.0,86.7 500.9,87.2 501.9,87.6 502.8,88.0 503.8,88.2 504.7,88.4 505.7,88.4 506.6,88.3 507.6,88.1 508.6,87.9 509.5,87.6 510.5,87.3 511.4,87.0 512.4,86.6 513.3,86.3 514.3,86.0 515.3,85.7 516.2,85.5 517.2,85.3 518.2,85.1 519.1,84.9 520.1,84.8 521.1,84.6 522.0,84.5 523.0,84.4 524.0,84.3 524.9,84.1 525.9,84.0 526.9,83.9 527.8,83.7 528.8,83.5 529.7,83.4 530.7,83.2 531.6,83.0 532.6,82.8 533.6,82.7 534.5,82.5 535.5,82.3 536.4,82.2 537.4,82.0 538.4,81.9 539.3,81.7 540.3,81.6 541.3,81.5 542.2,81.3 543.2,81.2 544.2,81.1 545.1,81.0 546.1,80.9 547.1,80.8 548.0,80.6 549.0,80.5 550.0,80.4 550.9,80.2 551.9,80.1 552.8,79.9 553.8,79.8 554.8,79.6 555.7,79.5 556.7,79.4 557.6,79.3 558.6,79.2 559.5,79.1 560.5,79.0 561.5,78.9 562.5,78.8 563.5,78.8 564.5,78.7 565.5,78.7 566.5,78.7 567.5,78.8 568.5,78.9 569.5,78.9 570.4,79.0 571.4,79.2 572.4,79.3 573.4,79.4 574.4,79.6 575.4,79.7 576.4,79.9 577.4,80.1 578.4,80.3 579.4,80.4 580.4,80.6 581.4,80.8 582.4,81.0 583.4,81.1 584.4,81.3 585.4,81.5 586.4,81.6 587.4,81.8 588.4,81.9 589.4,82.0 590.3,82.1 591.3,82.3 592.3,82.4 593.3,82.5 594.3,82.6 595.3,82.6 596.3,82.7 597.3,82.7 598.3,82.8 599.3,82.8 600.3,82.8 601.3,82.8 602.3,82.8 603.3,82.8 604.3,82.8 605.3,82.7 606.3,82.7 607.3,82.7 608.3,82.6 609.2,82.6 610.2,82.5 611.2,82.4 612.2,82.4 613.2,82.3 614.2,82.3 615.2,82.2 616.2,82.1 617.2,82.1 618.2,82.0 619.2,81.9 620.2,81.9 621.2,81.8 622.2,81.8 623.2,81.7 624.2,81.7 625.2,81.6 626.2,81.6 627.2,81.5 628.1,81.5 629.1,81.4 630.1,81.4 631.1,81.4 632.1,81.3 633.1,81.3 634.1,81.2 635.1,81.2 636.1,81.2 637.1,81.1 638.1,81.1 639.1,81.1 640.1,81.1 641.1,81.0 642.1,81.0 643.1,81.0 644.1,80.9 645.1,80.9 646.1,80.9 647.0,80.9 648.0,80.8 649.0,80.8 650.0,80.8 651.0,80.8 652.0,80.8 653.0,80.7 654.0,80.7 655.0,80.7 656.0,80.7 657.0,80.7 658.0,80.6 659.0,80.6 660.0,80.6 661.0,80.6 662.0,80.6 663.0,80.6 664.0,80.6 665.0,80.5 666.0,80.5 666.9,80.5 667.9,80.5 668.9,80.5 669.9,80.5 670.9,80.5 671.9,80.4 672.9,80.4 673.9,80.4 674.9,80.4 675.9,80.4" fill="none" stroke="#9a9a9a" stroke-width="1.05" stroke-linejoin="round"/>
<polyline points="445.7,164.0 446.5,170.8 447.4,175.2 448.2,175.6 448.9,174.0 449.7,172.3 450.5,171.9 451.3,173.1 452.0,175.6 452.8,179.0 453.6,182.2 454.3,183.8 455.1,183.1 455.9,181.1 456.6,179.4 457.6,179.3 458.6,180.5 459.5,181.3 460.5,180.3 461.4,178.1 462.4,175.6 463.4,173.7 464.3,172.2 465.3,170.6 466.3,168.7 467.2,166.7 468.2,165.1 469.1,164.2 470.1,164.1 471.1,164.7 472.0,166.1 473.0,167.6 473.9,168.6 474.9,168.5 475.9,167.5 476.8,165.9 477.8,164.0 478.8,162.0 479.7,160.2 480.7,158.8 481.6,157.9 482.6,157.3 483.6,156.7 484.5,156.2 485.5,155.7 486.3,155.0 487.2,154.2 488.1,153.5 488.9,152.9 489.8,152.4 490.6,152.3 491.5,152.6 492.4,153.4 493.2,154.5 494.1,156.0 495.0,157.5 495.9,159.2 496.7,160.7 497.6,162.1 498.6,163.3 499.6,164.2 500.6,164.8 501.6,165.2 502.6,165.4 503.6,165.6 504.5,165.8 505.5,165.9 506.4,166.0 507.4,166.2 508.3,166.3 509.3,166.4 510.2,166.5 511.2,166.5 512.1,166.5 513.1,166.5 514.0,166.5 514.9,166.4 515.9,166.3 516.8,166.2 517.8,166.1 518.7,166.0 519.6,165.9 520.6,165.9 521.5,165.8 522.4,165.8 523.4,165.9 524.3,166.0 525.3,166.2 526.2,166.5 527.2,166.8 528.2,167.3 529.1,167.8 530.1,168.5 531.1,169.2 532.1,169.9 533.0,170.7 534.0,171.6 535.0,172.4 536.0,173.3 537.0,174.2 537.9,175.0 538.9,175.9 539.9,176.6 540.9,177.3 541.9,178.0 542.8,178.6 543.8,179.0 544.8,179.4 545.8,179.6 546.7,179.7 547.7,179.7 548.7,179.5 549.6,179.3 550.6,179.1 551.5,178.7 552.4,178.2 553.4,177.7 554.3,177.1 555.2,176.5 556.1,175.8 557.1,175.1 558.0,174.5 558.9,173.8 559.9,173.1 560.8,172.5 561.8,171.7 562.8,171.0 563.8,170.3 564.8,169.7 565.7,169.2 566.7,168.7 567.7,168.3 568.7,168.0 569.7,167.7 570.7,167.5 571.7,167.3 572.7,167.1 573.7,167.0 574.6,167.0 575.6,167.0 576.6,167.0 577.6,167.0 578.6,167.1 579.6,167.2 580.6,167.4 581.6,167.5 582.6,167.7 583.6,167.9 584.5,168.1 585.5,168.4 586.5,168.6 587.5,168.8 588.5,169.1 589.5,169.3 590.5,169.4 591.5,169.6 592.5,169.8 593.5,169.9 594.4,170.1 595.4,170.2 596.4,170.4 597.4,170.6 598.4,170.7 599.4,170.9 600.4,171.0 601.4,171.2 602.4,171.3 603.4,171.5 604.3,171.6 605.3,171.7 606.3,171.9 607.3,172.0 608.3,172.1 609.3,172.2 610.3,172.3 611.3,172.4 612.3,172.5 613.2,172.5 614.2,172.6 615.2,172.6 616.2,172.7 617.2,172.7 618.2,172.7 619.2,172.9 620.2,173.0 621.2,173.1 622.2,173.3 623.2,173.4 624.2,173.4 625.2,173.5 626.2,173.6 627.2,173.6 628.1,173.7 629.1,173.7 630.1,173.7 631.1,173.7 632.1,173.7 633.1,173.7 634.1,173.6 635.1,173.6 636.1,173.5 637.1,173.4 638.1,173.4 639.1,173.3 640.1,173.2 641.1,173.1 642.1,173.0 643.1,172.8 644.1,172.7 645.1,172.6 646.1,172.4 647.0,172.2 648.0,172.1 649.0,171.9 650.0,171.7 651.0,171.5 652.0,171.3 653.0,171.1 654.0,170.9 655.0,170.7 656.0,170.5 657.0,170.3 658.0,170.1 659.0,169.8 660.0,169.6 661.0,169.3 662.0,169.1 663.0,168.9 664.0,168.6 665.0,168.3 666.0,168.1 666.9,167.8 667.9,167.6 668.9,167.3 669.9,167.0 670.9,166.8 671.9,166.5 672.9,166.2 673.9,165.9 674.9,165.7 675.9,165.4" fill="none" stroke="#5a5a5a" stroke-width="1.05" stroke-linejoin="round"/>
<polyline points="445.7,136.9 446.5,134.7 447.4,132.8 448.2,131.5 448.9,129.9 449.7,127.5 450.5,124.0 451.3,121.0 452.0,120.5 452.8,123.8 453.6,128.4 454.3,131.2 455.1,129.8 455.9,126.1 456.6,123.2 457.6,123.6 458.6,126.4 459.5,128.4 460.5,127.1 461.4,123.9 462.4,121.2 463.4,120.9 464.3,122.2 465.3,124.0 466.3,125.3 467.2,126.4 468.2,127.8 469.1,129.8 470.1,132.6 471.1,136.2 472.0,140.6 473.0,145.0 473.9,148.6 474.9,150.6 475.8,151.4 476.7,151.4 477.6,150.9 478.6,150.3 479.5,150.0 480.5,150.2 481.5,151.0 482.4,152.1 483.4,153.5 484.4,154.8 485.4,156.0 486.3,156.8 487.1,157.4 488.0,157.9 488.9,158.4 489.8,158.9 490.6,159.6 491.5,160.4 492.4,161.5 493.2,162.7 494.1,164.1 495.0,165.5 495.8,166.9 496.7,168.2 497.7,169.6 498.6,170.8 499.6,171.8 500.5,172.6 501.5,173.2 502.5,173.6 503.4,173.9 504.4,174.0 505.4,174.1 506.3,174.0 507.3,173.8 508.2,173.5 509.2,173.2 510.2,172.7 511.1,172.3 512.1,171.8 513.0,171.3 514.0,170.8 514.9,170.4 515.9,170.0 516.8,169.6 517.8,169.2 518.7,168.9 519.6,168.5 520.6,168.2 521.5,168.0 522.4,167.8 523.4,167.6 524.3,167.4 525.3,167.3 526.2,167.3 527.1,167.3 528.1,167.4 529.0,167.4 529.9,167.6 530.9,167.7 531.8,167.8 532.7,167.9 533.7,168.0 534.6,168.0 535.5,168.0 536.5,168.0 537.4,167.9 538.4,167.8 539.4,167.7 540.3,167.4 541.3,167.1 542.3,166.6 543.2,166.1 544.2,165.6 545.2,165.0 546.2,164.3 547.1,163.6 548.1,162.9 549.1,162.1 550.1,161.3 551.0,160.6 552.0,159.8 553.0,159.0 554.0,158.2 555.0,157.4 555.9,156.6 556.9,155.9 557.9,155.2 558.9,154.6 559.8,154.0 560.8,153.5 561.8,152.8 562.8,152.2 563.8,151.7 564.7,151.2 565.7,150.8 566.7,150.5 567.7,150.2 568.7,150.0 569.7,149.8 570.6,149.6 571.6,149.5 572.6,149.4 573.6,149.4 574.6,149.4 575.6,149.4 576.6,149.5 577.5,149.6 578.5,149.7 579.5,149.8 580.5,149.9 581.5,150.0 582.5,150.1 583.4,150.3 584.4,150.4 585.4,150.6 586.4,150.7 587.4,150.8 588.4,150.9 589.4,151.0 590.3,151.1 591.3,151.1 592.3,151.1 593.3,151.1 594.3,151.1 595.3,151.1 596.3,151.0 597.3,151.0 598.3,150.9 599.3,150.8 600.3,150.8 601.3,150.7 602.3,150.6 603.3,150.5 604.3,150.4 605.3,150.3 606.3,150.2 607.3,150.1 608.3,150.0 609.2,149.9 610.2,149.8 611.2,149.8 612.2,149.7 613.2,149.6 614.2,149.6 615.2,149.5 616.2,149.5 617.2,149.5 618.2,149.5 619.2,149.3 620.2,149.2 621.2,149.1 622.2,148.9 623.2,148.9 624.2,148.8 625.2,148.7 626.2,148.7 627.2,148.7 628.1,148.7 629.1,148.7 630.1,148.7 631.1,148.8 632.1,148.9 633.1,148.9 634.1,149.0 635.1,149.2 636.1,149.3 637.1,149.4 638.1,149.6 639.1,149.7 640.1,149.9 641.1,150.1 642.1,150.3 643.1,150.5 644.1,150.8 645.1,151.0 646.1,151.3 647.0,151.5 648.0,151.8 649.0,152.1 650.0,152.4 651.0,152.7 652.0,153.0 653.0,153.3 654.0,153.6 655.0,154.0 656.0,154.3 657.0,154.7 658.0,155.0 659.0,155.4 660.0,155.8 661.0,156.1 662.0,156.5 663.0,156.9 664.0,157.3 665.0,157.7 666.0,158.1 666.9,158.5 667.9,158.9 668.9,159.3 669.9,159.7 670.9,160.1 671.9,160.5 672.9,160.9 673.9,161.4 674.9,161.8 675.9,162.2" fill="none" stroke="#333333" stroke-width="1.05" stroke-linejoin="round"/>
<polyline points="445.7,178.8 446.5,181.2 447.4,182.8 448.2,183.2 448.9,183.1 449.7,183.4 450.5,184.3 451.3,184.8 452.0,183.4 452.8,179.4 453.6,174.8 454.3,172.1 455.1,173.1 455.9,176.1 456.6,178.4 457.6,177.3 458.6,173.4 459.5,168.8 460.5,165.5 461.4,163.2 462.4,161.2 463.4,158.8 464.3,156.3 465.3,154.1 466.3,152.5 467.2,151.5 468.2,150.9 469.1,150.5 470.1,150.2 471.1,150.0 472.0,149.6 473.0,149.5 474.0,150.0 474.9,151.3 475.8,153.1 476.6,155.2 477.5,157.3 478.4,159.1 479.3,160.4 480.3,161.0 481.2,161.1 482.2,161.3 483.1,162.0 484.1,163.2 485.0,164.8 486.0,166.7 486.9,168.7 487.9,170.7 488.8,172.7 489.8,174.6 490.7,176.1 491.7,177.3 492.7,178.2 493.7,178.6 494.7,178.7 495.7,178.5 496.7,178.0 497.6,177.2 498.6,176.2 499.6,175.0 500.6,173.7 501.6,172.2 502.6,170.6 503.6,169.0 504.5,167.4 505.5,165.9 506.4,164.3 507.4,162.8 508.3,161.3 509.3,159.8 510.2,158.4 511.2,157.0 512.1,155.8 513.1,154.6 514.0,153.5 515.0,152.5 516.0,151.6 517.0,150.8 518.0,150.2 519.0,149.6 520.0,149.1 520.9,148.6 521.9,148.2 522.9,147.9 523.9,147.6 524.9,147.3 525.9,147.0 526.9,146.7 527.8,146.5 528.8,146.2 529.7,145.9 530.7,145.6 531.6,145.4 532.6,145.1 533.6,144.9 534.5,144.6 535.5,144.4 536.4,144.2 537.4,144.0 538.4,143.8 539.3,143.6 540.3,143.4 541.2,143.2 542.2,143.0 543.2,142.9 544.1,142.8 545.1,142.6 546.1,142.5 547.0,142.4 548.0,142.4 549.0,142.3 549.9,142.2 550.9,142.2 551.8,142.1 552.8,142.1 553.8,142.1 554.7,142.0 555.7,142.0 556.6,142.0 557.6,142.0 558.6,142.0 559.5,142.0 560.5,142.0 561.5,142.0 562.5,142.0 563.5,142.0 564.5,141.9 565.5,141.9 566.5,141.9 567.5,141.9 568.5,141.9 569.5,141.9 570.4,141.9 571.4,141.9 572.4,142.0 573.4,142.0 574.4,142.0 575.4,142.0 576.4,142.0 577.4,142.0 578.4,142.0 579.4,142.0 580.4,142.0 581.4,142.0 582.4,142.0 583.4,142.0 584.4,142.0 585.4,142.0 586.4,142.0 587.4,142.0 588.4,142.0 589.4,142.0 590.3,142.0 591.3,142.0 592.3,142.0 593.3,142.0 594.3,142.0 595.3,141.9 596.3,141.9 597.3,141.9 598.3,141.9 599.3,141.9 600.3,141.8 601.3,141.8 602.3,141.8 603.3,141.8 604.3,141.8 605.3,141.7 606.3,141.7 607.3,141.7 608.3,141.7 609.2,141.6 610.2,141.6 611.2,141.6 612.2,141.6 613.2,141.6 614.2,141.5 615.2,141.5 616.2,141.5 617.2,141.5 618.2,141.5 619.2,141.5 620.2,141.4 621.2,141.4 622.2,141.4 623.2,141.4 624.2,141.3 625.2,141.3 626.2,141.3 627.2,141.3 628.1,141.3 629.1,141.3 630.1,141.3 631.1,141.3 632.1,141.3 633.1,141.3 634.1,141.3 635.1,141.3 636.1,141.3 637.1,141.3 638.1,141.3 639.1,141.3 640.1,141.3 641.1,141.4 642.1,141.4 643.1,141.4 644.1,141.4 645.1,141.5 646.1,141.5 647.0,141.5 648.0,141.5 649.0,141.6 650.0,141.6 651.0,141.6 652.0,141.7 653.0,141.7 654.0,141.7 655.0,141.8 656.0,141.8 657.0,141.8 658.0,141.9 659.0,141.9 660.0,142.0 661.0,142.0 662.0,142.0 663.0,142.1 664.0,142.1 665.0,142.2 666.0,142.2 666.9,142.3 667.9,142.3 668.9,142.4 669.9,142.4 670.9,142.5 671.9,142.5 672.9,142.6 673.9,142.6 674.9,142.7 675.9,142.7" fill="none" stroke="#9c9c9c" stroke-width="1.05" stroke-linejoin="round"/>
<polyline points="445.7,110.6 446.5,113.0 447.4,114.7 448.2,115.5 448.9,116.0 449.7,116.8 450.5,118.3 451.3,119.8 452.0,120.6 452.8,120.2 453.6,119.3 454.3,119.1 455.1,120.4 455.9,122.3 456.6,123.6 457.6,123.2 458.6,121.8 459.5,121.4 460.5,123.0 461.4,125.6 462.4,127.5 463.4,127.3 464.3,126.0 465.3,124.7 466.3,124.5 467.2,125.3 468.2,126.4 469.1,127.8 470.1,129.8 471.1,133.2 472.0,138.1 473.0,143.8 473.9,148.8 474.9,152.2 475.9,154.0 476.8,154.6 477.8,154.3 478.8,153.7 479.7,152.9 480.7,152.3 481.6,152.0 482.6,151.9 483.6,151.9 484.5,152.1 485.5,152.3 486.5,152.5 487.4,152.7 488.4,152.9 489.3,153.1 490.3,153.2 491.3,153.2 492.2,153.2 493.2,153.1 494.1,153.0 495.1,152.9 496.1,152.9 497.0,153.1 498.0,153.4 499.0,153.8 499.9,154.4 500.9,155.0 501.8,155.5 502.8,156.1 503.8,156.5 504.7,156.8 505.7,157.1 506.6,157.3 507.6,157.5 508.6,157.6 509.5,157.7 510.5,157.9 511.5,158.0 512.4,158.2 513.4,158.4 514.3,158.7 515.3,159.0 516.3,159.5 517.2,159.9 518.2,160.4 519.1,161.0 520.1,161.5 521.1,162.1 522.0,162.6 523.0,163.2 524.0,163.7 524.9,164.2 525.9,164.7 526.8,165.1 527.8,165.4 528.8,165.7 529.7,166.0 530.7,166.2 531.6,166.4 532.6,166.5 533.6,166.7 534.5,166.8 535.5,166.9 536.5,167.0 537.4,167.1 538.4,167.2 539.3,167.2 540.3,167.3 541.3,167.3 542.2,167.4 543.2,167.3 544.2,167.3 545.1,167.2 546.1,167.0 547.0,166.8 548.0,166.5 549.0,166.2 549.9,165.7 550.9,165.2 551.8,164.7 552.8,164.0 553.8,163.4 554.7,162.7 555.7,162.1 556.7,161.4 557.6,160.8 558.6,160.1 559.5,159.5 560.5,159.0 561.5,158.3 562.5,157.7 563.5,157.1 564.5,156.7 565.5,156.3 566.5,156.0 567.5,155.8 568.5,155.6 569.5,155.5 570.4,155.5 571.4,155.5 572.4,155.5 573.4,155.6 574.4,155.8 575.4,156.0 576.4,156.2 577.4,156.4 578.4,156.7 579.4,157.0 580.4,157.3 581.4,157.6 582.4,157.9 583.4,158.2 584.4,158.5 585.4,158.9 586.4,159.2 587.4,159.5 588.4,159.7 589.4,160.0 590.3,160.2 591.3,160.4 592.3,160.6 593.3,160.7 594.3,160.9 595.3,161.0 596.3,161.1 597.3,161.2 598.3,161.2 599.3,161.3 600.3,161.3 601.3,161.3 602.3,161.4 603.3,161.4 604.3,161.4 605.3,161.4 606.3,161.4 607.3,161.4 608.3,161.4 609.2,161.4 610.2,161.4 611.2,161.4 612.2,161.4 613.2,161.4 614.2,161.4 615.2,161.4 616.2,161.5 617.2,161.5 618.2,161.6 619.2,161.5 620.2,161.5 621.2,161.4 622.2,161.4 623.2,161.4 624.2,161.4 625.2,161.4 626.2,161.5 627.2,161.5 628.1,161.6 629.1,161.7 630.1,161.8 631.1,161.9 632.1,162.1 633.1,162.2 634.1,162.4 635.1,162.6 636.1,162.8 637.1,163.0 638.1,163.2 639.1,163.4 640.1,163.7 641.1,163.9 642.1,164.2 643.1,164.4 644.1,164.7 645.1,165.0 646.1,165.3 647.0,165.6 648.0,166.0 649.0,166.3 650.0,166.6 651.0,167.0 652.0,167.4 653.0,167.7 654.0,168.1 655.0,168.5 656.0,168.9 657.0,169.2 658.0,169.6 659.0,170.1 660.0,170.5 661.0,170.9 662.0,171.3 663.0,171.7 664.0,172.1 665.0,172.6 666.0,173.0 666.9,173.5 667.9,173.9 668.9,174.3 669.9,174.8 670.9,175.2 671.9,175.7 672.9,176.1 673.9,176.6 674.9,177.0 675.9,177.5" fill="none" stroke="#a8a8a8" stroke-width="1.05" stroke-linejoin="round"/>
<polyline points="445.7,136.7 446.5,139.2 447.4,140.7 448.2,140.7 448.9,140.4 449.7,141.1 450.5,143.5 451.3,145.6 452.0,144.8 452.8,139.6 453.6,133.3 454.3,130.3 455.1,133.7 455.9,140.3 456.6,145.6 457.6,145.9 458.6,142.0 459.5,139.0 460.5,140.5 461.4,144.3 462.4,147.0 463.4,146.1 464.3,143.1 465.3,140.8 466.3,141.0 467.2,142.9 468.2,144.8 469.1,145.6 470.1,145.2 471.1,144.0 472.0,142.2 473.0,140.3 473.9,138.7 474.9,137.9 475.9,137.8 476.8,138.1 477.8,138.8 478.8,139.7 479.7,140.7 480.7,141.5 481.6,142.2 482.6,142.7 483.6,143.1 484.5,143.3 485.5,143.2 486.5,143.0 487.4,142.5 488.4,141.9 489.3,141.3 490.3,140.5 491.3,139.8 492.2,139.1 493.2,138.5 494.1,137.9 495.1,137.4 496.1,137.0 497.0,136.8 498.0,136.6 499.0,136.6 499.9,136.6 500.9,136.6 501.8,136.7 502.8,136.7 503.8,136.7 504.7,136.7 505.7,136.6 506.6,136.5 507.6,136.4 508.6,136.2 509.5,136.1 510.5,136.0 511.5,135.8 512.4,135.7 513.4,135.7 514.3,135.6 515.3,135.6 516.3,135.7 517.2,135.7 518.2,135.8 519.1,135.9 520.1,136.1 521.1,136.2 522.0,136.3 523.0,136.4 524.0,136.5 524.9,136.6 525.9,136.7 526.8,136.7 527.8,136.7 528.8,136.7 529.7,136.6 530.7,136.6 531.6,136.6 532.6,136.5 533.6,136.5 534.5,136.6 535.5,136.6 536.5,136.7 537.4,136.8 538.4,137.0 539.3,137.3 540.3,137.5 541.3,137.8 542.2,138.2 543.2,138.5 544.2,138.8 545.1,139.2 546.1,139.5 547.0,139.8 548.0,140.1 549.0,140.3 549.9,140.5 550.9,140.7 551.8,140.8 552.8,140.9 553.8,140.9 554.7,141.0 555.7,141.0 556.7,141.0 557.6,141.0 558.6,141.0 559.5,141.0 560.5,141.0 561.5,141.0 562.5,141.0 563.5,141.0 564.5,141.0 565.5,141.0 566.5,141.1 567.5,141.2 568.5,141.3 569.5,141.4 570.4,141.5 571.4,141.6 572.4,141.7 573.4,141.9 574.4,142.0 575.4,142.2 576.4,142.4 577.4,142.5 578.4,142.7 579.4,142.9 580.4,143.1 581.4,143.3 582.4,143.5 583.4,143.7 584.4,143.9 585.4,144.1 586.4,144.4 587.4,144.6 588.4,144.8 589.4,145.0 590.3,145.2 591.3,145.4 592.3,145.6 593.3,145.9 594.3,146.1 595.3,146.3 596.3,146.5 597.3,146.6 598.3,146.8 599.3,147.0 600.3,147.2 601.3,147.3 602.3,147.5 603.3,147.7 604.3,147.8 605.3,147.9 606.3,148.0 607.3,148.2 608.3,148.3 609.2,148.4 610.2,148.4 611.2,148.5 612.2,148.6 613.2,148.6 614.2,148.6 615.2,148.6 616.2,148.6 617.2,148.6 618.2,148.6 619.2,148.8 620.2,148.9 621.2,149.0 622.2,149.1 623.2,149.2 624.2,149.3 625.2,149.3 626.2,149.4 627.2,149.4 628.1,149.4 629.1,149.4 630.1,149.4 631.1,149.3 632.1,149.3 633.1,149.2 634.1,149.1 635.1,149.0 636.1,148.9 637.1,148.7 638.1,148.6 639.1,148.4 640.1,148.3 641.1,148.1 642.1,147.9 643.1,147.7 644.1,147.5 645.1,147.3 646.1,147.0 647.0,146.8 648.0,146.5 649.0,146.3 650.0,146.0 651.0,145.7 652.0,145.4 653.0,145.1 654.0,144.8 655.0,144.5 656.0,144.2 657.0,143.8 658.0,143.5 659.0,143.2 660.0,142.8 661.0,142.5 662.0,142.1 663.0,141.8 664.0,141.4 665.0,141.0 666.0,140.7 666.9,140.3 667.9,139.9 668.9,139.5 669.9,139.1 670.9,138.7 671.9,138.4 672.9,138.0 673.9,137.6 674.9,137.2 675.9,136.8" fill="none" stroke="#444444" stroke-width="1.05" stroke-linejoin="round"/>
<polyline points="445.7,121.6 446.5,120.8 447.4,121.3 448.2,123.4 448.9,126.0 449.7,127.6 450.5,127.2 451.3,125.4 452.0,123.4 452.8,122.0 453.6,121.2 454.3,120.7 455.1,120.4 455.9,120.6 456.6,121.7 457.6,125.0 458.6,129.3 459.5,133.6 460.5,136.7 461.4,137.6 462.4,135.1 463.4,128.9 464.3,121.5 465.3,116.2 466.3,115.3 467.2,117.3 468.2,119.8 469.1,121.1 470.1,121.4 471.1,121.9 472.0,123.2 473.0,125.1 473.9,126.9 474.9,128.1 475.9,128.8 476.8,129.0 477.8,129.0 478.8,128.7 479.7,128.5 480.7,128.3 481.6,128.2 482.6,128.2 483.6,128.2 484.5,128.3 485.5,128.5 486.5,128.7 487.4,128.9 488.4,129.1 489.3,129.3 490.3,129.5 491.3,129.7 492.2,129.8 493.2,129.9 494.1,130.0 495.1,130.0 496.1,129.9 497.0,129.8 498.0,129.6 499.0,129.3 499.9,129.0 500.9,128.7 501.8,128.5 502.8,128.3 503.8,128.2 504.7,128.1 505.7,128.1 506.6,128.2 507.6,128.3 508.6,128.5 509.5,128.7 510.5,128.9 511.5,129.1 512.4,129.3 513.4,129.5 514.3,129.7 515.3,129.8 516.3,129.9 517.2,130.0 518.2,130.1 519.1,130.1 520.1,130.2 521.1,130.2 522.0,130.1 523.0,130.1 524.0,130.1 524.9,130.0 525.9,130.0 526.8,129.9 527.8,129.8 528.8,129.7 529.7,129.7 530.7,129.6 531.6,129.6 532.6,129.6 533.6,129.6 534.5,129.7 535.5,129.7 536.5,129.8 537.4,130.0 538.4,130.2 539.3,130.4 540.3,130.7 541.3,131.0 542.2,131.3 543.2,131.5 544.2,131.8 545.1,132.1 546.1,132.3 547.0,132.4 548.0,132.6 549.0,132.6 549.9,132.6 550.9,132.5 551.8,132.4 552.8,132.2 553.8,131.9 554.7,131.7 555.7,131.4 556.7,131.1 557.6,130.8 558.6,130.5 559.5,130.3 560.5,130.0 561.5,129.7 562.5,129.4 563.5,129.1 564.5,128.9 565.5,128.7 566.5,128.6 567.5,128.5 568.5,128.4 569.5,128.4 570.4,128.4 571.4,128.4 572.4,128.5 573.4,128.5 574.4,128.6 575.4,128.7 576.4,128.8 577.4,129.0 578.4,129.1 579.4,129.3 580.4,129.5 581.4,129.6 582.4,129.8 583.4,130.0 584.4,130.2 585.4,130.4 586.4,130.5 587.4,130.7 588.4,130.9 589.4,131.0 590.3,131.1 591.3,131.2 592.3,131.3 593.3,131.4 594.3,131.5 595.3,131.6 596.3,131.6 597.3,131.7 598.3,131.8 599.3,131.8 600.3,131.8 601.3,131.9 602.3,131.9 603.3,131.9 604.3,132.0 605.3,132.0 606.3,132.0 607.3,132.1 608.3,132.1 609.2,132.1 610.2,132.2 611.2,132.2 612.2,132.3 613.2,132.3 614.2,132.4 615.2,132.4 616.2,132.5 617.2,132.6 618.2,132.7 619.2,132.7 620.2,132.7 621.2,132.7 622.2,132.7 623.2,132.8 624.2,132.8 625.2,132.9 626.2,132.9 627.2,133.0 628.1,133.1 629.1,133.2 630.1,133.3 631.1,133.5 632.1,133.6 633.1,133.7 634.1,133.9 635.1,134.1 636.1,134.2 637.1,134.4 638.1,134.6 639.1,134.8 640.1,135.0 641.1,135.2 642.1,135.5 643.1,135.7 644.1,135.9 645.1,136.2 646.1,136.5 647.0,136.7 648.0,137.0 649.0,137.3 650.0,137.5 651.0,137.8 652.0,138.1 653.0,138.4 654.0,138.7 655.0,139.0 656.0,139.4 657.0,139.7 658.0,140.0 659.0,140.3 660.0,140.7 661.0,141.0 662.0,141.3 663.0,141.7 664.0,142.0 665.0,142.4 666.0,142.7 666.9,143.1 667.9,143.4 668.9,143.8 669.9,144.1 670.9,144.5 671.9,144.9 672.9,145.2 673.9,145.6 674.9,145.9 675.9,146.3" fill="none" stroke="#3a3a3a" stroke-width="1.05" stroke-linejoin="round"/>
<polyline points="445.7,102.7 446.5,101.9 447.4,101.9 448.2,103.2 448.9,105.0 449.7,106.5 450.5,107.0 451.3,107.0 452.0,107.6 452.8,109.2 453.6,111.3 454.3,113.1 455.1,114.2 455.9,115.0 456.6,116.3 457.6,119.4 458.6,122.5 459.5,123.8 460.5,121.8 461.4,118.6 462.4,116.6 463.4,117.5 464.3,119.9 465.3,121.1 466.3,119.6 467.2,117.1 468.2,116.0 469.1,118.2 470.1,122.2 471.1,126.0 472.0,128.0 473.0,128.5 473.9,128.1 474.9,127.7 475.9,127.2 476.8,126.8 477.8,126.5 478.8,126.3 479.7,126.3 480.7,126.5 481.6,126.8 482.6,127.1 483.6,127.4 484.5,127.7 485.5,127.7 486.5,127.5 487.4,127.2 488.4,126.9 489.3,126.5 490.3,126.3 491.3,126.3 492.2,126.6 493.2,127.1 494.1,127.7 495.1,128.3 496.1,128.9 497.0,129.4 498.0,129.7 499.0,129.7 499.9,129.7 500.9,129.5 501.8,129.2 502.8,128.9 503.8,128.6 504.7,128.4 505.7,128.1 506.6,127.8 507.6,127.6 508.6,127.4 509.5,127.2 510.5,127.0 511.5,126.8 512.4,126.7 513.4,126.6 514.3,126.5 515.3,126.5 516.3,126.5 517.2,126.5 518.2,126.6 519.1,126.6 520.1,126.8 521.1,126.9 522.0,127.1 523.0,127.3 524.0,127.5 524.9,127.8 525.9,128.1 526.8,128.5 527.8,128.8 528.8,129.2 529.7,129.6 530.7,130.0 531.6,130.5 532.6,130.9 533.6,131.3 534.5,131.7 535.5,132.1 536.5,132.5 537.4,132.8 538.4,133.2 539.3,133.4 540.3,133.7 541.3,133.9 542.2,134.1 543.2,134.2 544.2,134.3 545.1,134.4 546.1,134.4 547.0,134.3 548.0,134.2 549.0,134.0 549.9,133.8 550.9,133.6 551.8,133.3 552.8,132.9 553.8,132.6 554.7,132.2 555.7,131.8 556.7,131.4 557.6,131.0 558.6,130.7 559.5,130.3 560.5,130.0 561.5,129.6 562.5,129.2 563.5,128.9 564.5,128.6 565.5,128.4 566.5,128.2 567.5,128.0 568.5,127.9 569.5,127.8 570.4,127.8 571.4,127.8 572.4,127.8 573.4,127.8 574.4,127.9 575.4,127.9 576.4,128.0 577.4,128.2 578.4,128.3 579.4,128.4 580.4,128.6 581.4,128.7 582.4,128.9 583.4,129.1 584.4,129.2 585.4,129.4 586.4,129.6 587.4,129.7 588.4,129.9 589.4,130.0 590.3,130.1 591.3,130.2 592.3,130.3 593.3,130.4 594.3,130.5 595.3,130.5 596.3,130.6 597.3,130.6 598.3,130.6 599.3,130.6 600.3,130.7 601.3,130.7 602.3,130.7 603.3,130.6 604.3,130.6 605.3,130.6 606.3,130.6 607.3,130.6 608.3,130.6 609.2,130.5 610.2,130.5 611.2,130.5 612.2,130.4 613.2,130.4 614.2,130.4 615.2,130.4 616.2,130.3 617.2,130.3 618.2,130.3 619.2,130.3 620.2,130.2 621.2,130.2 622.2,130.1 623.2,130.1 624.2,130.1 625.2,130.1 626.2,130.1 627.2,130.0 628.1,130.0 629.1,130.0 630.1,130.0 631.1,130.1 632.1,130.1 633.1,130.1 634.1,130.1 635.1,130.1 636.1,130.2 637.1,130.2 638.1,130.2 639.1,130.3 640.1,130.3 641.1,130.3 642.1,130.4 643.1,130.4 644.1,130.5 645.1,130.6 646.1,130.6 647.0,130.7 648.0,130.7 649.0,130.8 650.0,130.9 651.0,131.0 652.0,131.0 653.0,131.1 654.0,131.2 655.0,131.3 656.0,131.4 657.0,131.4 658.0,131.5 659.0,131.6 660.0,131.7 661.0,131.8 662.0,131.9 663.0,132.0 664.0,132.1 665.0,132.2 666.0,132.3 666.9,132.4 667.9,132.5 668.9,132.6 669.9,132.7 670.9,132.8 671.9,132.9 672.9,133.0 673.9,133.1 674.9,133.2 675.9,133.3" fill="none" stroke="#707070" stroke-width="1.05" stroke-linejoin="round"/>
<polyline points="445.7,144.1 446.5,145.1 447.4,146.2 448.2,147.1 448.9,147.2 449.7,145.3 450.5,140.8 451.3,135.3 452.0,131.0 452.8,129.5 453.6,130.0 454.3,131.1 455.1,131.7 455.9,131.9 456.6,132.2 457.6,132.9 458.6,133.7 459.5,134.2 460.5,134.1 461.4,133.7 462.4,133.8 463.4,134.8 464.3,136.3 465.3,138.0 466.3,139.3 467.2,139.6 468.2,138.4 469.1,135.6 470.1,132.6 471.1,131.4 472.0,133.5 473.0,137.6 473.9,141.8 474.9,144.6 475.9,146.0 476.8,146.3 477.8,145.9 478.8,145.1 479.7,144.4 480.7,143.9 481.6,143.7 482.6,143.7 483.6,143.9 484.5,144.2 485.5,144.5 486.5,144.7 487.4,144.9 488.4,145.1 489.3,145.2 490.3,145.3 491.3,145.3 492.2,145.4 493.2,145.4 494.1,145.4 495.1,145.3 496.1,145.3 497.0,145.2 498.0,145.1 499.0,144.9 499.9,144.8 500.9,144.7 501.8,144.6 502.8,144.5 503.8,144.5 504.7,144.5 505.7,144.6 506.6,144.8 507.6,144.9 508.6,145.1 509.5,145.3 510.5,145.5 511.5,145.7 512.4,145.9 513.4,146.1 514.3,146.3 515.3,146.4 516.3,146.6 517.2,146.7 518.2,146.8 519.1,146.8 520.1,146.9 521.1,147.0 522.0,147.0 523.0,147.1 524.0,147.1 524.9,147.2 525.9,147.3 526.8,147.4 527.8,147.5 528.8,147.6 529.7,147.7 530.7,147.8 531.6,147.9 532.6,148.0 533.6,148.0 534.5,148.0 535.5,148.0 536.5,148.0 537.4,147.9 538.4,147.8 539.3,147.6 540.3,147.4 541.3,147.2 542.2,147.0 543.2,146.8 544.2,146.6 545.1,146.4 546.1,146.2 547.0,146.1 548.0,146.0 549.0,146.0 549.9,146.1 550.9,146.2 551.8,146.4 552.8,146.6 553.8,146.9 554.7,147.2 555.7,147.5 556.7,147.8 557.6,148.1 558.6,148.4 559.5,148.7 560.5,149.0 561.5,149.4 562.5,149.7 563.5,150.0 564.5,150.2 565.5,150.4 566.5,150.6 567.5,150.8 568.5,150.9 569.5,150.9 570.4,151.0 571.4,151.0 572.4,151.0 573.4,151.0 574.4,150.9 575.4,150.9 576.4,150.8 577.4,150.7 578.4,150.6 579.4,150.5 580.4,150.3 581.4,150.2 582.4,150.0 583.4,149.9 584.4,149.7 585.4,149.6 586.4,149.4 587.4,149.3 588.4,149.1 589.4,149.0 590.3,148.9 591.3,148.7 592.3,148.6 593.3,148.5 594.3,148.4 595.3,148.3 596.3,148.3 597.3,148.2 598.3,148.1 599.3,148.1 600.3,148.1 601.3,148.0 602.3,148.0 603.3,148.0 604.3,148.0 605.3,148.0 606.3,148.0 607.3,148.1 608.3,148.1 609.2,148.2 610.2,148.2 611.2,148.3 612.2,148.4 613.2,148.5 614.2,148.6 615.2,148.8 616.2,148.9 617.2,149.0 618.2,149.2 619.2,149.2 620.2,149.2 621.2,149.3 622.2,149.3 623.2,149.4 624.2,149.4 625.2,149.5 626.2,149.6 627.2,149.7 628.1,149.9 629.1,150.0 630.1,150.1 631.1,150.3 632.1,150.5 633.1,150.7 634.1,150.9 635.1,151.1 636.1,151.3 637.1,151.5 638.1,151.8 639.1,152.0 640.1,152.3 641.1,152.5 642.1,152.8 643.1,153.1 644.1,153.4 645.1,153.7 646.1,154.0 647.0,154.3 648.0,154.6 649.0,155.0 650.0,155.3 651.0,155.6 652.0,156.0 653.0,156.4 654.0,156.7 655.0,157.1 656.0,157.5 657.0,157.8 658.0,158.2 659.0,158.6 660.0,159.0 661.0,159.4 662.0,159.8 663.0,160.2 664.0,160.6 665.0,161.0 666.0,161.5 666.9,161.9 667.9,162.3 668.9,162.7 669.9,163.1 670.9,163.6 671.9,164.0 672.9,164.4 673.9,164.8 674.9,165.3 675.9,165.7" fill="none" stroke="#999999" stroke-width="1.05" stroke-linejoin="round"/>
<polyline points="446.0,140.0 446.6,166.7 447.3,186.4 448.2,192.5 449.0,187.2 449.9,176.0 450.8,169.0 451.6,166.8 452.5,168.1 453.4,171.7 454.2,176.2 455.1,180.3 456.1,183.3 457.1,184.6 458.1,184.6 459.1,183.9 460.1,182.9 461.1,182.0 462.0,181.7 462.8,181.5 463.7,181.2 464.6,180.4 465.4,178.7 466.3,176.0 467.2,171.9 468.1,167.3 469.1,163.0 470.1,159.4 471.1,156.5 472.0,154.0 473.0,151.9 474.0,150.0 474.9,148.2 475.9,146.5 476.9,144.8 477.8,143.2 478.8,141.6 479.7,140.0 480.7,138.5 481.6,137.0 482.6,135.6 483.6,134.3 484.5,133.1 485.5,132.0 486.5,131.0 487.4,130.1 488.4,129.3 489.3,128.7 490.3,128.2 491.3,127.8 492.2,127.5 493.2,127.3 494.1,127.2 495.1,127.1 496.1,127.1 497.0,127.2 498.0,127.3 499.0,127.4 499.9,127.5 500.9,127.7 501.8,127.8 502.8,128.0 503.8,128.2 504.8,128.4 505.8,128.5 506.8,128.6 507.7,128.7 508.7,128.8 509.7,128.9 510.7,128.9 511.7,128.9 512.7,128.9 513.7,128.9 514.7,128.9 515.7,128.9 516.6,128.8 517.6,128.7 518.6,128.7 519.6,128.6 520.6,128.5 521.6,128.4 522.6,128.2 523.6,128.1 524.5,128.0 525.5,127.9 526.5,127.7 527.5,127.6 528.5,127.4 529.5,127.3 530.5,127.1 531.5,126.9 532.5,126.8 533.4,126.6 534.4,126.5 535.4,126.3 536.4,126.2 537.4,126.0 538.4,125.9 539.3,125.8 540.3,125.7 541.2,125.5 542.2,125.4 543.2,125.3 544.1,125.2 545.1,125.1 546.1,125.0 547.0,125.0 548.0,124.9 549.0,124.8 549.9,124.7 550.9,124.6 551.8,124.5 552.8,124.5 553.8,124.4 554.7,124.3 555.7,124.3 556.6,124.2 557.6,124.2 558.6,124.1 559.5,124.0 560.5,124.0 561.5,123.9 562.5,123.8 563.5,123.8 564.5,123.7 565.5,123.6 566.5,123.5 567.5,123.5 568.5,123.4 569.5,123.4 570.4,123.3 571.4,123.3 572.4,123.2 573.4,123.2 574.4,123.1 575.4,123.1 576.4,123.1 577.4,123.0 578.4,123.0 579.4,123.0 580.4,123.0 581.4,122.9 582.4,122.9 583.4,122.9 584.4,122.9 585.4,122.9 586.4,122.9 587.4,122.9 588.4,122.9 589.4,122.8 590.3,122.8 591.3,122.8 592.3,122.8 593.3,122.8 594.3,122.8 595.3,122.8 596.3,122.8 597.3,122.9 598.3,122.9 599.3,122.9 600.3,122.9 601.3,122.9 602.3,122.9 603.3,122.9 604.3,122.9 605.3,122.9 606.3,122.9 607.3,122.9 608.3,122.9 609.2,122.9 610.2,123.0 611.2,123.0 612.2,123.0 613.2,123.0 614.2,123.0 615.2,123.0 616.2,123.0 617.2,123.0 618.2,123.0 619.2,123.0 620.2,123.0 621.2,123.0 622.2,123.0 623.2,123.0 624.2,123.0 625.2,123.0 626.2,123.0 627.2,123.0 628.1,123.0 629.1,123.0 630.1,123.0 631.1,123.0 632.1,122.9 633.1,122.9 634.1,122.9 635.1,122.9 636.1,122.9 637.1,122.9 638.1,122.9 639.1,122.9 640.1,122.8 641.1,122.8 642.1,122.8 643.1,122.8 644.1,122.8 645.1,122.8 646.1,122.7 647.0,122.7 648.0,122.7 649.0,122.7 650.0,122.7 651.0,122.6 652.0,122.6 653.0,122.6 654.0,122.6 655.0,122.5 656.0,122.5 657.0,122.5 658.0,122.5 659.0,122.4 660.0,122.4 661.0,122.4 662.0,122.4 663.0,122.3 664.0,122.3 665.0,122.3 666.0,122.3 666.9,122.2 667.9,122.2 668.9,122.2 669.9,122.2 670.9,122.1 671.9,122.1 672.9,122.1 673.9,122.1 674.9,122.0 675.9,122.0" fill="none" stroke="#555555" stroke-width="1.05" stroke-linejoin="round"/>
<polyline points="446.0,130.0 447.0,134.2 448.0,138.4 448.9,142.4 449.9,146.3 450.9,150.0 451.9,153.4 452.9,156.6 453.9,159.4 454.8,161.9 455.8,164.0 456.8,165.6 457.7,166.7 458.5,167.4 459.4,167.8 460.3,167.9 461.1,167.7 462.0,167.3 462.9,166.6 463.7,165.8 464.6,165.1 465.5,164.4 466.3,164.0 467.2,163.9 468.1,164.3 468.9,164.9 469.8,165.4 470.7,165.8 471.5,165.6 472.4,164.7 473.3,162.9 474.1,160.8 475.0,158.9 475.9,157.8 476.8,158.0 477.6,159.2 478.5,160.7 479.3,162.2 480.2,163.0 481.1,162.8 481.9,161.7 482.8,160.1 483.7,158.3 484.5,156.6 485.4,155.2 486.4,154.4 487.3,154.4 488.2,155.0 489.2,156.1 490.1,157.5 491.1,159.1 492.1,160.9 493.0,162.6 494.0,164.2 494.9,165.6 495.8,166.6 496.8,167.3 497.7,167.7 498.7,167.8 499.6,167.8 500.6,167.6 501.5,167.3 502.5,166.9 503.5,166.5 504.5,166.0 505.4,165.5 506.4,164.9 507.4,164.4 508.4,163.7 509.4,163.1 510.4,162.5 511.3,161.9 512.3,161.2 513.3,160.6 514.3,160.0 515.3,159.4 516.2,158.8 517.2,158.3 518.1,157.8 519.1,157.3 520.1,156.8 521.0,156.3 522.0,155.9 523.0,155.5 523.9,155.1 524.9,154.7 525.9,154.3 526.8,153.9 527.8,153.6 528.7,153.2 529.7,152.9 530.7,152.5 531.6,152.2 532.6,151.8 533.5,151.5 534.5,151.1 535.5,150.8 536.4,150.4 537.4,150.0 538.4,149.6 539.3,149.2 540.3,148.8 541.2,148.4 542.2,147.9 543.2,147.5 544.1,147.0 545.1,146.6 546.1,146.1 547.0,145.7 548.0,145.2 549.0,144.8 549.9,144.3 550.9,143.9 551.8,143.5 552.8,143.0 553.8,142.6 554.7,142.2 555.7,141.8 556.6,141.4 557.6,141.0 558.6,140.7 559.5,140.3 560.5,140.0 561.5,139.5 562.5,138.9 563.5,138.5 564.5,138.0 565.5,137.6 566.5,137.1 567.5,136.8 568.5,136.4 569.5,136.0 570.4,135.7 571.4,135.4 572.4,135.1 573.4,134.9 574.4,134.6 575.4,134.4 576.4,134.2 577.4,134.0 578.4,133.8 579.4,133.7 580.4,133.6 581.4,133.4 582.4,133.3 583.4,133.2 584.4,133.2 585.4,133.1 586.4,133.0 587.4,133.0 588.4,133.0 589.4,133.0 590.3,133.0 591.3,133.0 592.3,133.0 593.3,133.0 594.3,133.0 595.3,133.1 596.3,133.1 597.3,133.2 598.3,133.3 599.3,133.3 600.3,133.4 601.3,133.5 602.3,133.6 603.3,133.6 604.3,133.7 605.3,133.8 606.3,133.9 607.3,134.0 608.3,134.1 609.2,134.2 610.2,134.3 611.2,134.4 612.2,134.5 613.2,134.6 614.2,134.7 615.2,134.8 616.2,134.8 617.2,134.9 618.2,135.0 619.2,135.0 620.2,135.1 621.2,135.1 622.2,135.1 623.2,135.2 624.2,135.2 625.2,135.2 626.2,135.2 627.2,135.2 628.1,135.2 629.1,135.2 630.1,135.2 631.1,135.2 632.1,135.2 633.1,135.2 634.1,135.2 635.1,135.1 636.1,135.1 637.1,135.1 638.1,135.0 639.1,135.0 640.1,135.0 641.1,134.9 642.1,134.9 643.1,134.8 644.1,134.8 645.1,134.7 646.1,134.6 647.0,134.6 648.0,134.5 649.0,134.4 650.0,134.4 651.0,134.3 652.0,134.2 653.0,134.1 654.0,134.1 655.0,134.0 656.0,133.9 657.0,133.8 658.0,133.7 659.0,133.6 660.0,133.6 661.0,133.5 662.0,133.4 663.0,133.3 664.0,133.2 665.0,133.1 666.0,133.0 666.9,132.9 667.9,132.8 668.9,132.7 669.9,132.6 670.9,132.5 671.9,132.4 672.9,132.3 673.9,132.2 674.9,132.1 675.9,132.0" fill="none" stroke="#6a6a6a" stroke-width="1.05" stroke-linejoin="round"/></g>
<rect x="436.2" y="25.7" width="249.2" height="167.60000000000002" fill="none" stroke="#333" stroke-width="1.3"/>
<line x1="427.5" y1="38.46" x2="436.2" y2="38.46" stroke="#222" stroke-width="1.1"/>
<text x="419.2" y="43.36" text-anchor="end" class="t">0.6</text>
<line x1="427.5" y1="63.44" x2="436.2" y2="63.44" stroke="#222" stroke-width="1.1"/>
<text x="419.2" y="68.34" text-anchor="end" class="t">0.4</text>
<line x1="427.5" y1="88.42" x2="436.2" y2="88.42" stroke="#222" stroke-width="1.1"/>
<text x="419.2" y="93.32" text-anchor="end" class="t">0.2</text>
<line x1="427.5" y1="113.40" x2="436.2" y2="113.40" stroke="#222" stroke-width="1.1"/>
<text x="419.2" y="118.30" text-anchor="end" class="t">0.0</text>
<line x1="427.5" y1="138.38" x2="436.2" y2="138.38" stroke="#222" stroke-width="1.1"/>
<text x="419.2" y="143.28" text-anchor="end" class="t">−0.2</text>
<line x1="427.5" y1="163.36" x2="436.2" y2="163.36" stroke="#222" stroke-width="1.1"/>
<text x="419.2" y="168.26" text-anchor="end" class="t">−0.4</text>
<line x1="427.5" y1="188.34" x2="436.2" y2="188.34" stroke="#222" stroke-width="1.1"/>
<text x="419.2" y="193.24" text-anchor="end" class="t">−0.6</text>
<line x1="445.10" y1="193.3" x2="445.10" y2="202.0" stroke="#222" stroke-width="1.1"/>
<text x="445.10" y="225" text-anchor="middle" class="t">0</text>
<line x1="502.80" y1="193.3" x2="502.80" y2="202.0" stroke="#222" stroke-width="1.1"/>
<text x="502.80" y="225" text-anchor="middle" class="t">1</text>
<line x1="560.50" y1="193.3" x2="560.50" y2="202.0" stroke="#222" stroke-width="1.1"/>
<text x="560.50" y="225" text-anchor="middle" class="t">2</text>
<line x1="618.20" y1="193.3" x2="618.20" y2="202.0" stroke="#222" stroke-width="1.1"/>
<text x="618.20" y="225" text-anchor="middle" class="t">3</text>
<line x1="675.90" y1="193.3" x2="675.90" y2="202.0" stroke="#222" stroke-width="1.1"/>
<text x="675.90" y="225" text-anchor="middle" class="t">4</text>
<text x="560.80" y="248.5" text-anchor="middle" class="t">Period</text>
<text x="560.85" y="15.1" text-anchor="middle" class="ti">(b) Smoothed data</text>
<text transform="translate(378.00,109.50) rotate(-90)" text-anchor="middle" class="t">Corrective term log<tspan font-size="10.4" dy="2.2">10</tspan><tspan dy="-2.2">[cm/s</tspan><tspan font-size="10.8" dy="-6.8">2</tspan><tspan dy="6.8">]</tspan></text>
</svg></body></html>
